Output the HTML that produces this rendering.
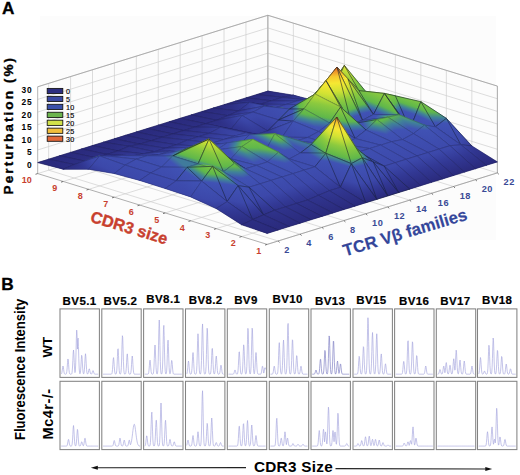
<!DOCTYPE html>
<html><head><meta charset="utf-8"><style>
html,body{margin:0;padding:0;background:#fff;}
svg{display:block;font-family:"Liberation Sans",sans-serif;}
</style></head><body>
<svg width="520" height="475" viewBox="0 0 520 475">
<defs><linearGradient id="cm" gradientUnits="userSpaceOnUse"><stop offset="0" stop-color="#2a2a7c"/><stop offset="0.1" stop-color="#323894"/><stop offset="0.18" stop-color="#3c48aa"/><stop offset="0.33" stop-color="#4052b4"/><stop offset="0.37" stop-color="#408298"/><stop offset="0.41" stop-color="#60b84a"/><stop offset="0.52" stop-color="#8cca3e"/><stop offset="0.62" stop-color="#d2e234"/><stop offset="0.7" stop-color="#f6e832"/><stop offset="0.77" stop-color="#f6c82e"/><stop offset="0.82" stop-color="#ee962a"/><stop offset="0.87" stop-color="#de6028"/><stop offset="1" stop-color="#cd4128"/></linearGradient>
<linearGradient id="g1" href="#cm" xlink:href="#cm" x1="282.13" y1="90.52" x2="286.22" y2="192.4"/>
<linearGradient id="g2" href="#cm" xlink:href="#cm" x1="279.36" y1="87.52" x2="324.98" y2="234.37"/>
<linearGradient id="g3" href="#cm" xlink:href="#cm" x1="268.4" y1="90.92" x2="314.02" y2="237.78"/>
<linearGradient id="g4" href="#cm" xlink:href="#cm" x1="268.4" y1="90.92" x2="314.02" y2="237.78"/>
<linearGradient id="g5" href="#cm" xlink:href="#cm" x1="257.44" y1="94.33" x2="303.06" y2="241.18"/>
<linearGradient id="g6" href="#cm" xlink:href="#cm" x1="257.44" y1="94.33" x2="303.06" y2="241.18"/>
<linearGradient id="g7" href="#cm" xlink:href="#cm" x1="249.45" y1="103.08" x2="250" y2="98.53"/>
<linearGradient id="g8" href="#cm" xlink:href="#cm" x1="247.91" y1="97.29" x2="259.98" y2="136.15"/>
<linearGradient id="g9" href="#cm" xlink:href="#cm" x1="226.27" y1="113.93" x2="410.65" y2="68.95"/>
<linearGradient id="g10" href="#cm" xlink:href="#cm" x1="235.52" y1="101.14" x2="281.14" y2="247.99"/>
<linearGradient id="g11" href="#cm" xlink:href="#cm" x1="215.49" y1="105.27" x2="457.62" y2="311.93"/>
<linearGradient id="g12" href="#cm" xlink:href="#cm" x1="224.2" y1="104.66" x2="292.19" y2="323.51"/>
<linearGradient id="g13" href="#cm" xlink:href="#cm" x1="201.12" y1="113.93" x2="666.82" y2="304"/>
<linearGradient id="g14" href="#cm" xlink:href="#cm" x1="212.88" y1="108.17" x2="325.61" y2="471.02"/>
<linearGradient id="g15" href="#cm" xlink:href="#cm" x1="201.92" y1="111.58" x2="314.65" y2="474.42"/>
<linearGradient id="g16" href="#cm" xlink:href="#cm" x1="201.92" y1="111.58" x2="314.65" y2="474.42"/>
<linearGradient id="g17" href="#cm" xlink:href="#cm" x1="190.96" y1="114.98" x2="303.69" y2="477.83"/>
<linearGradient id="g18" href="#cm" xlink:href="#cm" x1="190.96" y1="114.98" x2="303.69" y2="477.83"/>
<linearGradient id="g19" href="#cm" xlink:href="#cm" x1="180" y1="118.39" x2="292.73" y2="481.23"/>
<linearGradient id="g20" href="#cm" xlink:href="#cm" x1="180" y1="118.39" x2="292.73" y2="481.23"/>
<linearGradient id="g21" href="#cm" xlink:href="#cm" x1="169.04" y1="121.79" x2="281.77" y2="484.64"/>
<linearGradient id="g22" href="#cm" xlink:href="#cm" x1="169.04" y1="121.79" x2="281.77" y2="484.64"/>
<linearGradient id="g23" href="#cm" xlink:href="#cm" x1="158.08" y1="125.2" x2="270.81" y2="488.04"/>
<linearGradient id="g24" href="#cm" xlink:href="#cm" x1="158.08" y1="125.2" x2="270.81" y2="488.04"/>
<linearGradient id="g25" href="#cm" xlink:href="#cm" x1="147.12" y1="128.6" x2="259.85" y2="491.45"/>
<linearGradient id="g26" href="#cm" xlink:href="#cm" x1="147.12" y1="128.6" x2="259.85" y2="491.45"/>
<linearGradient id="g27" href="#cm" xlink:href="#cm" x1="136.16" y1="132.01" x2="248.89" y2="494.85"/>
<linearGradient id="g28" href="#cm" xlink:href="#cm" x1="136.16" y1="132.01" x2="248.89" y2="494.85"/>
<linearGradient id="g29" href="#cm" xlink:href="#cm" x1="129.12" y1="139.09" x2="125.93" y2="282.17"/>
<linearGradient id="g30" href="#cm" xlink:href="#cm" x1="125.56" y1="135.3" x2="193.55" y2="354.15"/>
<linearGradient id="g31" href="#cm" xlink:href="#cm" x1="102.48" y1="144.58" x2="568.18" y2="334.65"/>
<linearGradient id="g32" href="#cm" xlink:href="#cm" x1="114.24" y1="138.82" x2="226.97" y2="501.66"/>
<linearGradient id="g33" href="#cm" xlink:href="#cm" x1="103.28" y1="142.22" x2="216.01" y2="505.07"/>
<linearGradient id="g34" href="#cm" xlink:href="#cm" x1="103.28" y1="142.22" x2="216.01" y2="505.07"/>
<linearGradient id="g35" href="#cm" xlink:href="#cm" x1="92.32" y1="145.63" x2="205.05" y2="508.47"/>
<linearGradient id="g36" href="#cm" xlink:href="#cm" x1="92.32" y1="145.63" x2="205.05" y2="508.47"/>
<linearGradient id="g37" href="#cm" xlink:href="#cm" x1="81.36" y1="149.03" x2="194.09" y2="511.88"/>
<linearGradient id="g38" href="#cm" xlink:href="#cm" x1="81.36" y1="149.03" x2="194.09" y2="511.88"/>
<linearGradient id="g39" href="#cm" xlink:href="#cm" x1="70.4" y1="152.44" x2="183.13" y2="515.28"/>
<linearGradient id="g40" href="#cm" xlink:href="#cm" x1="70.4" y1="152.44" x2="183.13" y2="515.28"/>
<linearGradient id="g41" href="#cm" xlink:href="#cm" x1="51.78" y1="171.99" x2="736.94" y2="4.86"/>
<linearGradient id="g42" href="#cm" xlink:href="#cm" x1="308.4" y1="98.1" x2="304.63" y2="113.27"/>
<linearGradient id="g43" href="#cm" xlink:href="#cm" x1="307.09" y1="90.33" x2="313.18" y2="163.76"/>
<linearGradient id="g44" href="#cm" xlink:href="#cm" x1="297.07" y1="95.39" x2="296.31" y2="129.04"/>
<linearGradient id="g45" href="#cm" xlink:href="#cm" x1="293.06" y1="88.52" x2="316.32" y2="163.38"/>
<linearGradient id="g46" href="#cm" xlink:href="#cm" x1="282.1" y1="91.93" x2="305.36" y2="166.79"/>
<linearGradient id="g47" href="#cm" xlink:href="#cm" x1="282.1" y1="91.93" x2="305.36" y2="166.79"/>
<linearGradient id="g48" href="#cm" xlink:href="#cm" x1="271.14" y1="95.33" x2="294.4" y2="170.19"/>
<linearGradient id="g49" href="#cm" xlink:href="#cm" x1="275.27" y1="106.53" x2="273.75" y2="114.21"/>
<linearGradient id="g50" href="#cm" xlink:href="#cm" x1="264.42" y1="104.37" x2="262.89" y2="112.05"/>
<linearGradient id="g51" href="#cm" xlink:href="#cm" x1="229.6" y1="102.16" x2="377.29" y2="119.3"/>
<linearGradient id="g52" href="#cm" xlink:href="#cm" x1="243.1" y1="100.32" x2="293.12" y2="159.2"/>
<linearGradient id="g53" href="#cm" xlink:href="#cm" x1="247.65" y1="101.74" x2="274.92" y2="153.53"/>
<linearGradient id="g54" href="#cm" xlink:href="#cm" x1="240.47" y1="110.13" x2="248.82" y2="136.99"/>
<linearGradient id="g55" href="#cm" xlink:href="#cm" x1="238.34" y1="107.87" x2="257.36" y2="146.03"/>
<linearGradient id="g56" href="#cm" xlink:href="#cm" x1="224.99" y1="135.04" x2="317.85" y2="44.65"/>
<linearGradient id="g57" href="#cm" xlink:href="#cm" x1="223.66" y1="104.82" x2="336.39" y2="467.67"/>
<linearGradient id="g58" href="#cm" xlink:href="#cm" x1="220.42" y1="126.34" x2="218.9" y2="134.01"/>
<linearGradient id="g59" href="#cm" xlink:href="#cm" x1="217.12" y1="117.38" x2="240.38" y2="192.24"/>
<linearGradient id="g60" href="#cm" xlink:href="#cm" x1="187.3" y1="124.33" x2="406.89" y2="213.96"/>
<linearGradient id="g61" href="#cm" xlink:href="#cm" x1="204.7" y1="118.61" x2="250.32" y2="265.46"/>
<linearGradient id="g62" href="#cm" xlink:href="#cm" x1="193.74" y1="122.01" x2="239.36" y2="268.87"/>
<linearGradient id="g63" href="#cm" xlink:href="#cm" x1="193.74" y1="122.01" x2="239.36" y2="268.87"/>
<linearGradient id="g64" href="#cm" xlink:href="#cm" x1="182.78" y1="125.42" x2="228.4" y2="272.27"/>
<linearGradient id="g65" href="#cm" xlink:href="#cm" x1="182.78" y1="125.42" x2="228.4" y2="272.27"/>
<linearGradient id="g66" href="#cm" xlink:href="#cm" x1="156.2" y1="127.55" x2="398.33" y2="334.21"/>
<linearGradient id="g67" href="#cm" xlink:href="#cm" x1="170.71" y1="126.54" x2="238.71" y2="345.39"/>
<linearGradient id="g68" href="#cm" xlink:href="#cm" x1="159.75" y1="129.94" x2="227.75" y2="348.79"/>
<linearGradient id="g69" href="#cm" xlink:href="#cm" x1="159.75" y1="129.94" x2="227.75" y2="348.79"/>
<linearGradient id="g70" href="#cm" xlink:href="#cm" x1="148.79" y1="133.35" x2="216.79" y2="352.2"/>
<linearGradient id="g71" href="#cm" xlink:href="#cm" x1="154.73" y1="139.66" x2="151.54" y2="282.74"/>
<linearGradient id="g72" href="#cm" xlink:href="#cm" x1="143.82" y1="139.42" x2="140.63" y2="282.49"/>
<linearGradient id="g73" href="#cm" xlink:href="#cm" x1="119.29" y1="133.06" x2="361.41" y2="339.72"/>
<linearGradient id="g74" href="#cm" xlink:href="#cm" x1="131.83" y1="147.3" x2="137.92" y2="220.73"/>
<linearGradient id="g75" href="#cm" xlink:href="#cm" x1="128.78" y1="143.77" x2="160.99" y2="247.43"/>
<linearGradient id="g76" href="#cm" xlink:href="#cm" x1="121.61" y1="154.94" x2="121.44" y2="158.2"/>
<linearGradient id="g77" href="#cm" xlink:href="#cm" x1="119.57" y1="149" x2="131.64" y2="187.86"/>
<linearGradient id="g78" href="#cm" xlink:href="#cm" x1="109.55" y1="152.91" x2="114.91" y2="170.17"/>
<linearGradient id="g79" href="#cm" xlink:href="#cm" x1="99.94" y1="160.96" x2="98.82" y2="141.01"/>
<linearGradient id="g80" href="#cm" xlink:href="#cm" x1="99.87" y1="156.64" x2="99.04" y2="153.96"/>
<linearGradient id="g81" href="#cm" xlink:href="#cm" x1="75.74" y1="176.16" x2="183.73" y2="118.48"/>
<linearGradient id="g82" href="#cm" xlink:href="#cm" x1="79.27" y1="155.42" x2="157.86" y2="270.55"/>
<linearGradient id="g83" href="#cm" xlink:href="#cm" x1="316.03" y1="87.69" x2="359.45" y2="87.89"/>
<linearGradient id="g84" href="#cm" xlink:href="#cm" x1="334.66" y1="103.02" x2="331.5" y2="64.91"/>
<linearGradient id="g85" href="#cm" xlink:href="#cm" x1="311.62" y1="87" x2="344.08" y2="114.7"/>
<linearGradient id="g86" href="#cm" xlink:href="#cm" x1="322.86" y1="99.9" x2="321.6" y2="88.89"/>
<linearGradient id="g87" href="#cm" xlink:href="#cm" x1="272.09" y1="100.12" x2="419.79" y2="117.26"/>
<linearGradient id="g88" href="#cm" xlink:href="#cm" x1="305.28" y1="84.73" x2="328.53" y2="159.59"/>
<linearGradient id="g89" href="#cm" xlink:href="#cm" x1="249.28" y1="89.71" x2="468.87" y2="179.33"/>
<linearGradient id="g90" href="#cm" xlink:href="#cm" x1="289.87" y1="76.36" x2="335.5" y2="223.21"/>
<linearGradient id="g91" href="#cm" xlink:href="#cm" x1="289.39" y1="110.34" x2="289.95" y2="105.79"/>
<linearGradient id="g92" href="#cm" xlink:href="#cm" x1="289.39" y1="110.34" x2="289.95" y2="105.79"/>
<linearGradient id="g93" href="#cm" xlink:href="#cm" x1="264.06" y1="146.05" x2="336.74" y2="15.61"/>
<linearGradient id="g94" href="#cm" xlink:href="#cm" x1="262.86" y1="170.98" x2="341.56" y2="-84.13"/>
<linearGradient id="g95" href="#cm" xlink:href="#cm" x1="263.59" y1="144.07" x2="304.07" y2="12.88"/>
<linearGradient id="g96" href="#cm" xlink:href="#cm" x1="274.26" y1="152.26" x2="208.05" y2="-60.87"/>
<linearGradient id="g97" href="#cm" xlink:href="#cm" x1="263.3" y1="155.67" x2="197.09" y2="-57.47"/>
<linearGradient id="g98" href="#cm" xlink:href="#cm" x1="252.24" y1="145.94" x2="296.61" y2="30.1"/>
<linearGradient id="g99" href="#cm" xlink:href="#cm" x1="245.97" y1="131.42" x2="244.45" y2="139.1"/>
<linearGradient id="g100" href="#cm" xlink:href="#cm" x1="245.97" y1="131.42" x2="244.45" y2="139.1"/>
<linearGradient id="g101" href="#cm" xlink:href="#cm" x1="215.97" y1="75.63" x2="328.7" y2="438.48"/>
<linearGradient id="g102" href="#cm" xlink:href="#cm" x1="176.21" y1="150.39" x2="527.52" y2="64.7"/>
<linearGradient id="g103" href="#cm" xlink:href="#cm" x1="216.2" y1="115.04" x2="261.82" y2="261.89"/>
<linearGradient id="g104" href="#cm" xlink:href="#cm" x1="216.2" y1="115.04" x2="261.82" y2="261.89"/>
<linearGradient id="g105" href="#cm" xlink:href="#cm" x1="205.24" y1="118.44" x2="250.86" y2="265.3"/>
<linearGradient id="g106" href="#cm" xlink:href="#cm" x1="205.24" y1="118.44" x2="250.86" y2="265.3"/>
<linearGradient id="g107" href="#cm" xlink:href="#cm" x1="194.28" y1="121.85" x2="239.9" y2="268.7"/>
<linearGradient id="g108" href="#cm" xlink:href="#cm" x1="178.97" y1="119.36" x2="316.42" y2="281.15"/>
<linearGradient id="g109" href="#cm" xlink:href="#cm" x1="190.87" y1="142.74" x2="191.14" y2="165.06"/>
<linearGradient id="g110" href="#cm" xlink:href="#cm" x1="187.55" y1="136.34" x2="204.41" y2="190.63"/>
<linearGradient id="g111" href="#cm" xlink:href="#cm" x1="176.59" y1="139.75" x2="193.45" y2="194.04"/>
<linearGradient id="g112" href="#cm" xlink:href="#cm" x1="176.59" y1="139.75" x2="193.45" y2="194.04"/>
<linearGradient id="g113" href="#cm" xlink:href="#cm" x1="168.92" y1="150.21" x2="169.27" y2="155.67"/>
<linearGradient id="g114" href="#cm" xlink:href="#cm" x1="168.38" y1="147.87" x2="171.03" y2="163.35"/>
<linearGradient id="g115" href="#cm" xlink:href="#cm" x1="155.22" y1="145.82" x2="167.3" y2="184.68"/>
<linearGradient id="g116" href="#cm" xlink:href="#cm" x1="157.12" y1="149.02" x2="161.05" y2="174.17"/>
<linearGradient id="g117" href="#cm" xlink:href="#cm" x1="146.99" y1="154.31" x2="147.33" y2="159.77"/>
<linearGradient id="g118" href="#cm" xlink:href="#cm" x1="147.06" y1="156.52" x2="147.13" y2="153.7"/>
<linearGradient id="g119" href="#cm" xlink:href="#cm" x1="129.92" y1="139.21" x2="153.17" y2="214.07"/>
<linearGradient id="g120" href="#cm" xlink:href="#cm" x1="136.32" y1="150.2" x2="135.57" y2="183.85"/>
<linearGradient id="g121" href="#cm" xlink:href="#cm" x1="43.19" y1="185.1" x2="394.49" y2="99.41"/>
<linearGradient id="g122" href="#cm" xlink:href="#cm" x1="131.95" y1="148.63" x2="102.85" y2="219.25"/>
<linearGradient id="g123" href="#cm" xlink:href="#cm" x1="107.66" y1="199.89" x2="146.91" y2="41.92"/>
<linearGradient id="g124" href="#cm" xlink:href="#cm" x1="106" y1="193.03" x2="155.22" y2="76.24"/>
<linearGradient id="g125" href="#cm" xlink:href="#cm" x1="402.28" y1="95.24" x2="309.32" y2="85.27"/>
<linearGradient id="g126" href="#cm" xlink:href="#cm" x1="342.12" y1="133.75" x2="378.07" y2="41.26"/>
<linearGradient id="g127" href="#cm" xlink:href="#cm" x1="341.2" y1="108.03" x2="351.31" y2="64.23"/>
<linearGradient id="g128" href="#cm" xlink:href="#cm" x1="343.74" y1="73.88" x2="350.04" y2="81.3"/>
<linearGradient id="g129" href="#cm" xlink:href="#cm" x1="334.55" y1="115.52" x2="337.35" y2="59.62"/>
<linearGradient id="g130" href="#cm" xlink:href="#cm" x1="351.39" y1="94.43" x2="334.76" y2="62.86"/>
<linearGradient id="g131" href="#cm" xlink:href="#cm" x1="333.84" y1="88.61" x2="323.18" y2="77.67"/>
<linearGradient id="g132" href="#cm" xlink:href="#cm" x1="336.16" y1="104.47" x2="322.33" y2="71.9"/>
<linearGradient id="g133" href="#cm" xlink:href="#cm" x1="312.93" y1="92.49" x2="316.48" y2="95.17"/>
<linearGradient id="g134" href="#cm" xlink:href="#cm" x1="317.49" y1="118.53" x2="313.44" y2="77.81"/>
<linearGradient id="g135" href="#cm" xlink:href="#cm" x1="262.86" y1="118.93" x2="354.5" y2="96.58"/>
<linearGradient id="g136" href="#cm" xlink:href="#cm" x1="261.09" y1="103.89" x2="356.66" y2="114.97"/>
<linearGradient id="g137" href="#cm" xlink:href="#cm" x1="257.8" y1="125.82" x2="363.82" y2="111.74"/>
<linearGradient id="g138" href="#cm" xlink:href="#cm" x1="256.78" y1="120.96" x2="365.87" y2="121.46"/>
<linearGradient id="g139" href="#cm" xlink:href="#cm" x1="267.69" y1="148.81" x2="354.63" y2="78.92"/>
<linearGradient id="g140" href="#cm" xlink:href="#cm" x1="274.58" y1="112.69" x2="320.2" y2="259.54"/>
<linearGradient id="g141" href="#cm" xlink:href="#cm" x1="263.62" y1="116.09" x2="309.24" y2="262.95"/>
<linearGradient id="g142" href="#cm" xlink:href="#cm" x1="272.44" y1="136.62" x2="265.12" y2="160.34"/>
<linearGradient id="g143" href="#cm" xlink:href="#cm" x1="261.97" y1="133.38" x2="254.65" y2="157.11"/>
<linearGradient id="g144" href="#cm" xlink:href="#cm" x1="249.61" y1="104.66" x2="295.24" y2="251.51"/>
<linearGradient id="g145" href="#cm" xlink:href="#cm" x1="248.03" y1="142.21" x2="251.85" y2="119.81"/>
<linearGradient id="g146" href="#cm" xlink:href="#cm" x1="247.51" y1="128.99" x2="252.87" y2="146.25"/>
<linearGradient id="g147" href="#cm" xlink:href="#cm" x1="207.79" y1="162.05" x2="338.72" y2="92.12"/>
<linearGradient id="g148" href="#cm" xlink:href="#cm" x1="227.69" y1="111.47" x2="273.32" y2="258.32"/>
<linearGradient id="g149" href="#cm" xlink:href="#cm" x1="226.67" y1="147.53" x2="228.91" y2="132.65"/>
<linearGradient id="g150" href="#cm" xlink:href="#cm" x1="224.74" y1="134.31" x2="233.08" y2="161.17"/>
<linearGradient id="g151" href="#cm" xlink:href="#cm" x1="179.74" y1="135.04" x2="317.29" y2="191.18"/>
<linearGradient id="g152" href="#cm" xlink:href="#cm" x1="216.62" y1="141.04" x2="215.87" y2="174.69"/>
<linearGradient id="g153" href="#cm" xlink:href="#cm" x1="193.29" y1="114.26" x2="238.92" y2="261.11"/>
<linearGradient id="g154" href="#cm" xlink:href="#cm" x1="193.29" y1="114.26" x2="238.92" y2="261.11"/>
<linearGradient id="g155" href="#cm" xlink:href="#cm" x1="194.31" y1="153.29" x2="194.87" y2="148.74"/>
<linearGradient id="g156" href="#cm" xlink:href="#cm" x1="194.32" y1="147.41" x2="194.85" y2="160.5"/>
<linearGradient id="g157" href="#cm" xlink:href="#cm" x1="183.18" y1="155.66" x2="184.09" y2="141.81"/>
<linearGradient id="g158" href="#cm" xlink:href="#cm" x1="181.4" y1="143.22" x2="186.76" y2="160.48"/>
<linearGradient id="g159" href="#cm" xlink:href="#cm" x1="154.24" y1="134.46" x2="204.26" y2="193.34"/>
<linearGradient id="g160" href="#cm" xlink:href="#cm" x1="172.39" y1="151.25" x2="172.91" y2="164.35"/>
<linearGradient id="g161" href="#cm" xlink:href="#cm" x1="136.46" y1="199.49" x2="230.8" y2="77.8"/>
<linearGradient id="g162" href="#cm" xlink:href="#cm" x1="132.3" y1="232.5" x2="211" y2="-22.62"/>
<linearGradient id="g163" href="#cm" xlink:href="#cm" x1="132.3" y1="232.5" x2="211" y2="-22.62"/>
<linearGradient id="g164" href="#cm" xlink:href="#cm" x1="129.4" y1="213.79" x2="186.6" y2="28.39"/>
<linearGradient id="g165" href="#cm" xlink:href="#cm" x1="128.81" y1="210.12" x2="189.32" y2="45.13"/>
<linearGradient id="g166" href="#cm" xlink:href="#cm" x1="383.62" y1="104.91" x2="385.08" y2="83.33"/>
<linearGradient id="g167" href="#cm" xlink:href="#cm" x1="381.33" y1="109.43" x2="387.09" y2="79.37"/>
<linearGradient id="g168" href="#cm" xlink:href="#cm" x1="362.27" y1="142.77" x2="399.51" y2="48.52"/>
<linearGradient id="g169" href="#cm" xlink:href="#cm" x1="381.88" y1="111.26" x2="353.74" y2="122.04"/>
<linearGradient id="g170" href="#cm" xlink:href="#cm" x1="368.26" y1="148.95" x2="346.59" y2="41.99"/>
<linearGradient id="g171" href="#cm" xlink:href="#cm" x1="380.49" y1="127.78" x2="312.95" y2="100.21"/>
<linearGradient id="g172" href="#cm" xlink:href="#cm" x1="359.24" y1="148.67" x2="330.3" y2="55.53"/>
<linearGradient id="g173" href="#cm" xlink:href="#cm" x1="353.14" y1="149.36" x2="347.07" y2="53.62"/>
<linearGradient id="g174" href="#cm" xlink:href="#cm" x1="345.98" y1="104.54" x2="335.82" y2="109.19"/>
<linearGradient id="g175" href="#cm" xlink:href="#cm" x1="328.54" y1="167.4" x2="351.07" y2="54.18"/>
<linearGradient id="g176" href="#cm" xlink:href="#cm" x1="321.18" y1="161.76" x2="344.15" y2="56.21"/>
<linearGradient id="g177" href="#cm" xlink:href="#cm" x1="322.08" y1="162.83" x2="342.59" y2="54.37"/>
<linearGradient id="g178" href="#cm" xlink:href="#cm" x1="314.75" y1="173.77" x2="327.72" y2="32.94"/>
<linearGradient id="g179" href="#cm" xlink:href="#cm" x1="309.93" y1="167.71" x2="338.97" y2="47.08"/>
<linearGradient id="g180" href="#cm" xlink:href="#cm" x1="300.66" y1="194.78" x2="326.97" y2="-20.2"/>
<linearGradient id="g181" href="#cm" xlink:href="#cm" x1="293.36" y1="164.8" x2="347.06" y2="62.25"/>
<linearGradient id="g182" href="#cm" xlink:href="#cm" x1="290.52" y1="120.89" x2="313.77" y2="195.75"/>
<linearGradient id="g183" href="#cm" xlink:href="#cm" x1="290.52" y1="120.89" x2="313.77" y2="195.75"/>
<linearGradient id="g184" href="#cm" xlink:href="#cm" x1="284.51" y1="146.92" x2="287.92" y2="118.99"/>
<linearGradient id="g185" href="#cm" xlink:href="#cm" x1="285.59" y1="144.4" x2="286.06" y2="123.34"/>
<linearGradient id="g186" href="#cm" xlink:href="#cm" x1="274.11" y1="146.13" x2="275.65" y2="118.66"/>
<linearGradient id="g187" href="#cm" xlink:href="#cm" x1="273.41" y1="147.4" x2="276.5" y2="117.1"/>
<linearGradient id="g188" href="#cm" xlink:href="#cm" x1="253.03" y1="175.44" x2="299.37" y2="81.82"/>
<linearGradient id="g189" href="#cm" xlink:href="#cm" x1="254.4" y1="184.21" x2="294.87" y2="53.02"/>
<linearGradient id="g190" href="#cm" xlink:href="#cm" x1="246.74" y1="159.22" x2="259.9" y2="116.56"/>
<linearGradient id="g191" href="#cm" xlink:href="#cm" x1="252.34" y1="153.24" x2="253.49" y2="123.39"/>
<linearGradient id="g192" href="#cm" xlink:href="#cm" x1="184.61" y1="123.12" x2="322.16" y2="179.26"/>
<linearGradient id="g193" href="#cm" xlink:href="#cm" x1="184.61" y1="123.12" x2="322.16" y2="179.26"/>
<linearGradient id="g194" href="#cm" xlink:href="#cm" x1="200.16" y1="187.45" x2="302.82" y2="91.81"/>
<linearGradient id="g195" href="#cm" xlink:href="#cm" x1="197.14" y1="49.91" x2="309.87" y2="412.75"/>
<linearGradient id="g196" href="#cm" xlink:href="#cm" x1="216.97" y1="164.24" x2="223.96" y2="136.12"/>
<linearGradient id="g197" href="#cm" xlink:href="#cm" x1="219.6" y1="158.06" x2="220.52" y2="144.2"/>
<linearGradient id="g198" href="#cm" xlink:href="#cm" x1="202.66" y1="170.01" x2="212.48" y2="122.36"/>
<linearGradient id="g199" href="#cm" xlink:href="#cm" x1="210.79" y1="162.85" x2="208.1" y2="126.21"/>
<linearGradient id="g200" href="#cm" xlink:href="#cm" x1="170.05" y1="151.77" x2="176.94" y2="163.46"/>
<linearGradient id="g201" href="#cm" xlink:href="#cm" x1="187.78" y1="197.32" x2="215.88" y2="106.23"/>
<linearGradient id="g202" href="#cm" xlink:href="#cm" x1="152.53" y1="211.94" x2="246.87" y2="90.25"/>
<linearGradient id="g203" href="#cm" xlink:href="#cm" x1="160.59" y1="206.66" x2="227.33" y2="95.99"/>
<linearGradient id="g204" href="#cm" xlink:href="#cm" x1="157.8" y1="240.37" x2="236.5" y2="-14.75"/>
<linearGradient id="g205" href="#cm" xlink:href="#cm" x1="155.47" y1="220.09" x2="210.56" y2="41.52"/>
<linearGradient id="g206" href="#cm" xlink:href="#cm" x1="155.7" y1="221.05" x2="209.48" y2="37.04"/>
<linearGradient id="g207" href="#cm" xlink:href="#cm" x1="405.02" y1="143.78" x2="434.32" y2="55.46"/>
<linearGradient id="g208" href="#cm" xlink:href="#cm" x1="423.13" y1="143.81" x2="343.76" y2="55.35"/>
<linearGradient id="g209" href="#cm" xlink:href="#cm" x1="401.42" y1="113.23" x2="395.22" y2="117.11"/>
<linearGradient id="g210" href="#cm" xlink:href="#cm" x1="382.3" y1="151.9" x2="423.9" y2="59.1"/>
<linearGradient id="g211" href="#cm" xlink:href="#cm" x1="385.03" y1="99.18" x2="392.17" y2="142.71"/>
<linearGradient id="g212" href="#cm" xlink:href="#cm" x1="356.43" y1="85.8" x2="432.76" y2="161.71"/>
<linearGradient id="g213" href="#cm" xlink:href="#cm" x1="375.94" y1="114.22" x2="378.48" y2="126.75"/>
<linearGradient id="g214" href="#cm" xlink:href="#cm" x1="374.26" y1="110.67" x2="380.74" y2="131.53"/>
<linearGradient id="g215" href="#cm" xlink:href="#cm" x1="319.7" y1="152.75" x2="458.77" y2="84.64"/>
<linearGradient id="g216" href="#cm" xlink:href="#cm" x1="360.42" y1="139.4" x2="377.34" y2="111.35"/>
<linearGradient id="g217" href="#cm" xlink:href="#cm" x1="356.39" y1="170.53" x2="351.56" y2="50.45"/>
<linearGradient id="g218" href="#cm" xlink:href="#cm" x1="350.03" y1="166.44" x2="369.04" y2="61.71"/>
<linearGradient id="g219" href="#cm" xlink:href="#cm" x1="345.68" y1="182.82" x2="339.07" y2="18.35"/>
<linearGradient id="g220" href="#cm" xlink:href="#cm" x1="340" y1="178.23" x2="357.73" y2="33.4"/>
<linearGradient id="g221" href="#cm" xlink:href="#cm" x1="417.55" y1="124.74" x2="101.15" y2="201.91"/>
<linearGradient id="g222" href="#cm" xlink:href="#cm" x1="312.19" y1="213.35" x2="390.9" y2="-41.77"/>
<linearGradient id="g223" href="#cm" xlink:href="#cm" x1="324.66" y1="135.76" x2="317.34" y2="159.49"/>
<linearGradient id="g224" href="#cm" xlink:href="#cm" x1="307.01" y1="94.72" x2="352.64" y2="241.57"/>
<linearGradient id="g225" href="#cm" xlink:href="#cm" x1="311.54" y1="132.21" x2="310.78" y2="165.86"/>
<linearGradient id="g226" href="#cm" xlink:href="#cm" x1="310.44" y1="147.21" x2="312.68" y2="139.95"/>
<linearGradient id="g227" href="#cm" xlink:href="#cm" x1="285.29" y1="201.66" x2="335.32" y2="39.49"/>
<linearGradient id="g228" href="#cm" xlink:href="#cm" x1="330.33" y1="140.62" x2="230.24" y2="181.9"/>
<linearGradient id="g229" href="#cm" xlink:href="#cm" x1="293.16" y1="197.28" x2="278.83" y2="53.51"/>
<linearGradient id="g230" href="#cm" xlink:href="#cm" x1="280.2" y1="184.88" x2="314.47" y2="87.6"/>
<linearGradient id="g231" href="#cm" xlink:href="#cm" x1="275.59" y1="163.48" x2="282.57" y2="135.37"/>
<linearGradient id="g232" href="#cm" xlink:href="#cm" x1="272.55" y1="166.99" x2="287.13" y2="130.1"/>
<linearGradient id="g233" href="#cm" xlink:href="#cm" x1="261.08" y1="204.2" x2="281.1" y2="70.8"/>
<linearGradient id="g234" href="#cm" xlink:href="#cm" x1="266.37" y1="209.05" x2="269.69" y2="60.33"/>
<linearGradient id="g235" href="#cm" xlink:href="#cm" x1="277.43" y1="232.85" x2="211.21" y2="19.72"/>
<linearGradient id="g236" href="#cm" xlink:href="#cm" x1="242.89" y1="204.26" x2="285.75" y2="81.43"/>
<linearGradient id="g237" href="#cm" xlink:href="#cm" x1="246.35" y1="167.52" x2="243.67" y2="171.46"/>
<linearGradient id="g238" href="#cm" xlink:href="#cm" x1="240.04" y1="156.24" x2="227.35" y2="172.6"/>
<linearGradient id="g239" href="#cm" xlink:href="#cm" x1="230.16" y1="168.98" x2="240.27" y2="155.94"/>
<linearGradient id="g240" href="#cm" xlink:href="#cm" x1="225.84" y1="215.04" x2="219.67" y2="97.08"/>
<linearGradient id="g241" href="#cm" xlink:href="#cm" x1="213.28" y1="205.19" x2="241.38" y2="114.1"/>
<linearGradient id="g242" href="#cm" xlink:href="#cm" x1="210.22" y1="174.13" x2="215.19" y2="158.02"/>
<linearGradient id="g243" href="#cm" xlink:href="#cm" x1="204.47" y1="140.11" x2="221.33" y2="194.4"/>
<linearGradient id="g244" href="#cm" xlink:href="#cm" x1="180.21" y1="215.76" x2="244.57" y2="111.86"/>
<linearGradient id="g245" href="#cm" xlink:href="#cm" x1="179.41" y1="218.01" x2="246.15" y2="107.34"/>
<linearGradient id="g246" href="#cm" xlink:href="#cm" x1="181.4" y1="214.46" x2="236.08" y2="111.22"/>
<linearGradient id="g247" href="#cm" xlink:href="#cm" x1="182.36" y1="226.85" x2="231.44" y2="50.73"/>
<linearGradient id="g248" href="#cm" xlink:href="#cm" x1="433.69" y1="166.92" x2="439.4" y2="33.26"/>
<linearGradient id="g249" href="#cm" xlink:href="#cm" x1="424.03" y1="152.35" x2="461.93" y2="67.25"/>
<linearGradient id="g250" href="#cm" xlink:href="#cm" x1="424.27" y1="132.9" x2="424.74" y2="111.84"/>
<linearGradient id="g251" href="#cm" xlink:href="#cm" x1="419.33" y1="139.82" x2="433.27" y2="99.87"/>
<linearGradient id="g252" href="#cm" xlink:href="#cm" x1="404.32" y1="179.69" x2="434.86" y2="26.17"/>
<linearGradient id="g253" href="#cm" xlink:href="#cm" x1="447.18" y1="195.59" x2="334.84" y2="-10.92"/>
<linearGradient id="g254" href="#cm" xlink:href="#cm" x1="405.01" y1="181.69" x2="395.67" y2="23.72"/>
<linearGradient id="g255" href="#cm" xlink:href="#cm" x1="422.58" y1="183.21" x2="347.36" y2="19.55"/>
<linearGradient id="g256" href="#cm" xlink:href="#cm" x1="415.16" y1="188.09" x2="331.88" y2="24.39"/>
<linearGradient id="g257" href="#cm" xlink:href="#cm" x1="384.46" y1="178.56" x2="409.52" y2="48.48"/>
<linearGradient id="g258" href="#cm" xlink:href="#cm" x1="412.04" y1="246.3" x2="301.09" y2="-110.83"/>
<linearGradient id="g259" href="#cm" xlink:href="#cm" x1="362.63" y1="192.02" x2="426.05" y2="26.46"/>
<linearGradient id="g260" href="#cm" xlink:href="#cm" x1="283.35" y1="208.77" x2="587.91" y2="-3.9"/>
<linearGradient id="g261" href="#cm" xlink:href="#cm" x1="339.42" y1="89.91" x2="407.41" y2="308.76"/>
<linearGradient id="g262" href="#cm" xlink:href="#cm" x1="363.66" y1="126.91" x2="346.09" y2="215.18"/>
<linearGradient id="g263" href="#cm" xlink:href="#cm" x1="342.77" y1="158.77" x2="353.37" y2="121.61"/>
<linearGradient id="g264" href="#cm" xlink:href="#cm" x1="347.5" y1="151.26" x2="347.97" y2="130.2"/>
<linearGradient id="g265" href="#cm" xlink:href="#cm" x1="326.09" y1="164.47" x2="338.89" y2="107.55"/>
<linearGradient id="g266" href="#cm" xlink:href="#cm" x1="345.03" y1="154.2" x2="335.11" y2="109.6"/>
<linearGradient id="g267" href="#cm" xlink:href="#cm" x1="305.11" y1="177.86" x2="356.83" y2="116.44"/>
<linearGradient id="g268" href="#cm" xlink:href="#cm" x1="257.77" y1="200.8" x2="427.84" y2="82.04"/>
<linearGradient id="g269" href="#cm" xlink:href="#cm" x1="297.04" y1="196.32" x2="363.78" y2="85.65"/>
<linearGradient id="g270" href="#cm" xlink:href="#cm" x1="293.85" y1="234.84" x2="372.56" y2="-20.28"/>
<linearGradient id="g271" href="#cm" xlink:href="#cm" x1="305.62" y1="167.97" x2="299.1" y2="176.37"/>
<linearGradient id="g272" href="#cm" xlink:href="#cm" x1="307.59" y1="220.85" x2="252.56" y2="43.72"/>
<linearGradient id="g273" href="#cm" xlink:href="#cm" x1="286.33" y1="209.9" x2="311.04" y2="73.83"/>
<linearGradient id="g274" href="#cm" xlink:href="#cm" x1="311.55" y1="272.25" x2="200.6" y2="-84.87"/>
<linearGradient id="g275" href="#cm" xlink:href="#cm" x1="311.55" y1="272.25" x2="200.6" y2="-84.87"/>
<linearGradient id="g276" href="#cm" xlink:href="#cm" x1="300.59" y1="275.66" x2="189.64" y2="-81.47"/>
<linearGradient id="g277" href="#cm" xlink:href="#cm" x1="300.59" y1="275.66" x2="189.64" y2="-81.47"/>
<linearGradient id="g278" href="#cm" xlink:href="#cm" x1="289.63" y1="279.06" x2="178.68" y2="-78.06"/>
<linearGradient id="g279" href="#cm" xlink:href="#cm" x1="269.7" y1="176.36" x2="233.47" y2="204.37"/>
<linearGradient id="g280" href="#cm" xlink:href="#cm" x1="261.97" y1="228.71" x2="213.65" y2="73.18"/>
<linearGradient id="g281" href="#cm" xlink:href="#cm" x1="246.67" y1="223.8" x2="255.7" y2="86.69"/>
<linearGradient id="g282" href="#cm" xlink:href="#cm" x1="271.09" y1="162.57" x2="172.19" y2="231.63"/>
<linearGradient id="g283" href="#cm" xlink:href="#cm" x1="247.13" y1="177.19" x2="220.1" y2="202.38"/>
<linearGradient id="g284" href="#cm" xlink:href="#cm" x1="224.82" y1="218.84" x2="238.85" y2="115.57"/>
<linearGradient id="g285" href="#cm" xlink:href="#cm" x1="225.26" y1="219.16" x2="236.66" y2="113.96"/>
<linearGradient id="g286" href="#cm" xlink:href="#cm" x1="217.26" y1="224.48" x2="208.45" y2="91.89"/>
<linearGradient id="g287" href="#cm" xlink:href="#cm" x1="213.18" y1="221.36" x2="238.38" y2="114.79"/>
<linearGradient id="g288" href="#cm" xlink:href="#cm" x1="478.14" y1="161.56" x2="374.71" y2="61"/>
<linearGradient id="g289" href="#cm" xlink:href="#cm" x1="460.42" y1="166.55" x2="463.32" y2="36.06"/>
<linearGradient id="g290" href="#cm" xlink:href="#cm" x1="485.38" y1="175.93" x2="308.17" y2="24.67"/>
<linearGradient id="g291" href="#cm" xlink:href="#cm" x1="482.95" y1="149.51" x2="317.9" y2="130.36"/>
<linearGradient id="g292" href="#cm" xlink:href="#cm" x1="448.64" y1="180.19" x2="400.32" y2="24.65"/>
<linearGradient id="g293" href="#cm" xlink:href="#cm" x1="437.18" y1="176.5" x2="446.2" y2="39.39"/>
<linearGradient id="g294" href="#cm" xlink:href="#cm" x1="441.26" y1="195.11" x2="375.05" y2="-18.02"/>
<linearGradient id="g295" href="#cm" xlink:href="#cm" x1="427.19" y1="189.53" x2="431.32" y2="4.33"/>
<linearGradient id="g296" href="#cm" xlink:href="#cm" x1="434.78" y1="212.92" x2="346.19" y2="-72.21"/>
<linearGradient id="g297" href="#cm" xlink:href="#cm" x1="459.51" y1="205.86" x2="247.25" y2="-43.99"/>
<linearGradient id="g298" href="#cm" xlink:href="#cm" x1="421.13" y1="207.68" x2="345.97" y2="-34.25"/>
<linearGradient id="g299" href="#cm" xlink:href="#cm" x1="421.13" y1="207.68" x2="345.97" y2="-34.25"/>
<linearGradient id="g300" href="#cm" xlink:href="#cm" x1="410.17" y1="211.09" x2="335.01" y2="-30.84"/>
<linearGradient id="g301" href="#cm" xlink:href="#cm" x1="410.17" y1="211.09" x2="335.01" y2="-30.84"/>
<linearGradient id="g302" href="#cm" xlink:href="#cm" x1="399.21" y1="214.49" x2="324.05" y2="-27.44"/>
<linearGradient id="g303" href="#cm" xlink:href="#cm" x1="399.21" y1="214.49" x2="324.05" y2="-27.44"/>
<linearGradient id="g304" href="#cm" xlink:href="#cm" x1="377.33" y1="155.64" x2="363.62" y2="176.6"/>
<linearGradient id="g305" href="#cm" xlink:href="#cm" x1="371.09" y1="164.95" x2="378.18" y2="154.89"/>
<linearGradient id="g306" href="#cm" xlink:href="#cm" x1="389.43" y1="143.24" x2="321.51" y2="179.52"/>
<linearGradient id="g307" href="#cm" xlink:href="#cm" x1="354.63" y1="165.8" x2="373.7" y2="145.68"/>
<linearGradient id="g308" href="#cm" xlink:href="#cm" x1="359.4" y1="201.06" x2="337.31" y2="99.13"/>
<linearGradient id="g309" href="#cm" xlink:href="#cm" x1="342.41" y1="194.48" x2="366.65" y2="110.5"/>
<linearGradient id="g310" href="#cm" xlink:href="#cm" x1="337.77" y1="196.59" x2="363.48" y2="103.75"/>
<linearGradient id="g311" href="#cm" xlink:href="#cm" x1="339.35" y1="198.11" x2="349.29" y2="90.1"/>
<linearGradient id="g312" href="#cm" xlink:href="#cm" x1="334.21" y1="206.27" x2="285.89" y2="50.73"/>
<linearGradient id="g313" href="#cm" xlink:href="#cm" x1="334.21" y1="206.27" x2="285.89" y2="50.73"/>
<linearGradient id="g314" href="#cm" xlink:href="#cm" x1="320.8" y1="207.64" x2="292.28" y2="60.5"/>
<linearGradient id="g315" href="#cm" xlink:href="#cm" x1="322.24" y1="207.69" x2="276.36" y2="60.01"/>
<linearGradient id="g316" href="#cm" xlink:href="#cm" x1="309.37" y1="209.46" x2="280.78" y2="68.35"/>
<linearGradient id="g317" href="#cm" xlink:href="#cm" x1="310.38" y1="209.46" x2="266.54" y2="68.32"/>
<linearGradient id="g318" href="#cm" xlink:href="#cm" x1="299.42" y1="212.86" x2="255.58" y2="71.73"/>
<linearGradient id="g319" href="#cm" xlink:href="#cm" x1="299.42" y1="212.86" x2="255.58" y2="71.73"/>
<linearGradient id="g320" href="#cm" xlink:href="#cm" x1="288.46" y1="216.27" x2="244.62" y2="75.13"/>
<linearGradient id="g321" href="#cm" xlink:href="#cm" x1="288.46" y1="216.27" x2="244.62" y2="75.13"/>
<linearGradient id="g322" href="#cm" xlink:href="#cm" x1="277.5" y1="219.67" x2="233.66" y2="78.54"/>
<linearGradient id="g323" href="#cm" xlink:href="#cm" x1="277.5" y1="219.67" x2="233.66" y2="78.54"/>
<linearGradient id="g324" href="#cm" xlink:href="#cm" x1="265.05" y1="221.73" x2="236.49" y2="85.8"/>
<linearGradient id="g325" href="#cm" xlink:href="#cm" x1="268.59" y1="219.62" x2="169.28" y2="125.9"/>
<linearGradient id="g326" href="#cm" xlink:href="#cm" x1="253.59" y1="223.54" x2="225.67" y2="105.31"/>
<linearGradient id="g327" href="#cm" xlink:href="#cm" x1="252.14" y1="223.06" x2="267.72" y2="119.29"/>
<linearGradient id="g328" href="#cm" xlink:href="#cm" x1="241.91" y1="226.35" x2="221.23" y2="69.1"/>
<linearGradient id="g329" href="#cm" xlink:href="#cm" x1="241.7" y1="226.26" x2="241.25" y2="78.21"/>
<linearGradient id="g330" href="#cm" xlink:href="#cm" x1="486.4" y1="165.3" x2="422.98" y2="-38.83"/>
<linearGradient id="g331" href="#cm" xlink:href="#cm" x1="486.4" y1="165.3" x2="312.46" y2="115.66"/>
<linearGradient id="g332" href="#cm" xlink:href="#cm" x1="475.44" y1="168.71" x2="427.12" y2="13.17"/>
<linearGradient id="g333" href="#cm" xlink:href="#cm" x1="475.44" y1="168.71" x2="379.11" y2="31.65"/>
<linearGradient id="g334" href="#cm" xlink:href="#cm" x1="464.48" y1="172.11" x2="420.63" y2="30.98"/>
<linearGradient id="g335" href="#cm" xlink:href="#cm" x1="464.48" y1="172.11" x2="420.63" y2="30.98"/>
<linearGradient id="g336" href="#cm" xlink:href="#cm" x1="453.52" y1="175.52" x2="409.67" y2="34.38"/>
<linearGradient id="g337" href="#cm" xlink:href="#cm" x1="453.52" y1="175.52" x2="409.67" y2="34.38"/>
<linearGradient id="g338" href="#cm" xlink:href="#cm" x1="442.56" y1="178.92" x2="398.71" y2="37.79"/>
<linearGradient id="g339" href="#cm" xlink:href="#cm" x1="442.56" y1="178.92" x2="398.71" y2="37.79"/>
<linearGradient id="g340" href="#cm" xlink:href="#cm" x1="431.6" y1="182.33" x2="387.75" y2="41.19"/>
<linearGradient id="g341" href="#cm" xlink:href="#cm" x1="431.6" y1="182.33" x2="387.75" y2="41.19"/>
<linearGradient id="g342" href="#cm" xlink:href="#cm" x1="420.64" y1="185.73" x2="376.79" y2="44.6"/>
<linearGradient id="g343" href="#cm" xlink:href="#cm" x1="420.64" y1="185.73" x2="376.79" y2="44.6"/>
<linearGradient id="g344" href="#cm" xlink:href="#cm" x1="409.68" y1="189.13" x2="365.83" y2="48"/>
<linearGradient id="g345" href="#cm" xlink:href="#cm" x1="409.68" y1="189.13" x2="365.83" y2="48"/>
<linearGradient id="g346" href="#cm" xlink:href="#cm" x1="398.72" y1="192.54" x2="354.87" y2="51.41"/>
<linearGradient id="g347" href="#cm" xlink:href="#cm" x1="398.72" y1="192.54" x2="290.16" y2="148.23"/>
<linearGradient id="g348" href="#cm" xlink:href="#cm" x1="387.76" y1="195.94" x2="351.37" y2="78.81"/>
<linearGradient id="g349" href="#cm" xlink:href="#cm" x1="387.76" y1="195.94" x2="303.73" y2="124.22"/>
<linearGradient id="g350" href="#cm" xlink:href="#cm" x1="376.8" y1="199.35" x2="344.14" y2="94.21"/>
<linearGradient id="g351" href="#cm" xlink:href="#cm" x1="376.8" y1="199.35" x2="355.13" y2="92.39"/>
<linearGradient id="g352" href="#cm" xlink:href="#cm" x1="365.84" y1="202.75" x2="332.16" y2="94.35"/>
<linearGradient id="g353" href="#cm" xlink:href="#cm" x1="365.84" y1="202.75" x2="386.56" y2="109.64"/>
<linearGradient id="g354" href="#cm" xlink:href="#cm" x1="354.88" y1="206.16" x2="288.67" y2="-6.97"/>
<linearGradient id="g355" href="#cm" xlink:href="#cm" x1="354.88" y1="206.16" x2="288.67" y2="-6.97"/>
<linearGradient id="g356" href="#cm" xlink:href="#cm" x1="343.92" y1="209.56" x2="277.71" y2="-3.57"/>
<linearGradient id="g357" href="#cm" xlink:href="#cm" x1="343.92" y1="209.56" x2="320.83" y2="7.09"/>
<linearGradient id="g358" href="#cm" xlink:href="#cm" x1="332.96" y1="212.97" x2="257.8" y2="-28.96"/>
<linearGradient id="g359" href="#cm" xlink:href="#cm" x1="332.96" y1="212.97" x2="314.37" y2="-11.04"/>
<linearGradient id="g360" href="#cm" xlink:href="#cm" x1="322" y1="216.38" x2="233.42" y2="-68.75"/>
<linearGradient id="g361" href="#cm" xlink:href="#cm" x1="322" y1="216.38" x2="233.42" y2="-68.75"/>
<linearGradient id="g362" href="#cm" xlink:href="#cm" x1="311.04" y1="219.78" x2="222.46" y2="-65.35"/>
<linearGradient id="g363" href="#cm" xlink:href="#cm" x1="311.04" y1="219.78" x2="222.46" y2="-65.35"/>
<linearGradient id="g364" href="#cm" xlink:href="#cm" x1="300.08" y1="223.19" x2="211.5" y2="-61.94"/>
<linearGradient id="g365" href="#cm" xlink:href="#cm" x1="300.08" y1="223.19" x2="211.5" y2="-61.94"/>
<linearGradient id="g366" href="#cm" xlink:href="#cm" x1="289.12" y1="226.59" x2="200.54" y2="-58.54"/>
<linearGradient id="g367" href="#cm" xlink:href="#cm" x1="289.12" y1="226.59" x2="278.93" y2="-26.66"/>
<linearGradient id="g368" href="#cm" xlink:href="#cm" x1="278.16" y1="230" x2="167.21" y2="-127.13"/>
<linearGradient id="g369" href="#cm" xlink:href="#cm" x1="278.16" y1="230" x2="284.73" y2="-64.63"/>
<linearGradient id="g370" href="#cm" xlink:href="#cm" x1="267.2" y1="233.4" x2="111.51" y2="-267.72"/>
<linearGradient id="g371" href="#cm" xlink:href="#cm" x1="267.2" y1="233.4" x2="332.46" y2="-74.16"/></defs>
<rect width="520" height="475" fill="#fff"/>
<rect x="40" y="16" width="456" height="224" fill="#fcfcfc"/>
<g><line x1="267.2" y1="244.39" x2="497.36" y2="172.89" stroke="#cfcfcf" stroke-width="0.7"/>
<line x1="241.7" y1="236.53" x2="471.86" y2="165.02" stroke="#cfcfcf" stroke-width="0.7"/>
<line x1="216.2" y1="228.66" x2="446.36" y2="157.15" stroke="#cfcfcf" stroke-width="0.7"/>
<line x1="190.7" y1="220.79" x2="420.86" y2="149.29" stroke="#cfcfcf" stroke-width="0.7"/>
<line x1="165.2" y1="212.92" x2="395.36" y2="141.42" stroke="#cfcfcf" stroke-width="0.7"/>
<line x1="139.7" y1="205.06" x2="369.86" y2="133.55" stroke="#cfcfcf" stroke-width="0.7"/>
<line x1="114.2" y1="197.19" x2="344.36" y2="125.69" stroke="#cfcfcf" stroke-width="0.7"/>
<line x1="88.7" y1="189.32" x2="318.86" y2="117.82" stroke="#cfcfcf" stroke-width="0.7"/>
<line x1="63.2" y1="181.46" x2="293.36" y2="109.95" stroke="#cfcfcf" stroke-width="0.7"/>
<line x1="37.7" y1="173.59" x2="267.86" y2="102.08" stroke="#cfcfcf" stroke-width="0.7"/>
<line x1="278.16" y1="240.99" x2="48.66" y2="170.18" stroke="#cfcfcf" stroke-width="0.7"/>
<line x1="300.08" y1="234.18" x2="70.58" y2="163.37" stroke="#cfcfcf" stroke-width="0.7"/>
<line x1="322" y1="227.37" x2="92.5" y2="156.56" stroke="#cfcfcf" stroke-width="0.7"/>
<line x1="343.92" y1="220.56" x2="114.42" y2="149.75" stroke="#cfcfcf" stroke-width="0.7"/>
<line x1="365.84" y1="213.75" x2="136.34" y2="142.94" stroke="#cfcfcf" stroke-width="0.7"/>
<line x1="387.76" y1="206.94" x2="158.26" y2="136.13" stroke="#cfcfcf" stroke-width="0.7"/>
<line x1="409.68" y1="200.13" x2="180.18" y2="129.32" stroke="#cfcfcf" stroke-width="0.7"/>
<line x1="431.6" y1="193.32" x2="202.1" y2="122.51" stroke="#cfcfcf" stroke-width="0.7"/>
<line x1="453.52" y1="186.51" x2="224.02" y2="115.7" stroke="#cfcfcf" stroke-width="0.7"/>
<line x1="475.44" y1="179.7" x2="245.94" y2="108.89" stroke="#cfcfcf" stroke-width="0.7"/>
<line x1="497.36" y1="172.89" x2="267.86" y2="102.08" stroke="#cfcfcf" stroke-width="0.7"/>
<line x1="37.7" y1="162.6" x2="267.86" y2="91.09" stroke="#cfcfcf" stroke-width="0.7"/>
<line x1="37.7" y1="149.96" x2="267.86" y2="78.46" stroke="#cfcfcf" stroke-width="0.7"/>
<line x1="37.7" y1="137.33" x2="267.86" y2="65.82" stroke="#cfcfcf" stroke-width="0.7"/>
<line x1="37.7" y1="124.69" x2="267.86" y2="53.19" stroke="#cfcfcf" stroke-width="0.7"/>
<line x1="37.7" y1="112.06" x2="267.86" y2="40.55" stroke="#cfcfcf" stroke-width="0.7"/>
<line x1="37.7" y1="99.42" x2="267.86" y2="27.92" stroke="#cfcfcf" stroke-width="0.7"/>
<line x1="37.7" y1="86.79" x2="267.86" y2="15.28" stroke="#cfcfcf" stroke-width="0.7"/>
<line x1="48.66" y1="170.18" x2="48.66" y2="83.38" stroke="#cfcfcf" stroke-width="0.7"/>
<line x1="70.58" y1="163.37" x2="70.58" y2="76.57" stroke="#cfcfcf" stroke-width="0.7"/>
<line x1="92.5" y1="156.56" x2="92.5" y2="69.76" stroke="#cfcfcf" stroke-width="0.7"/>
<line x1="114.42" y1="149.75" x2="114.42" y2="62.95" stroke="#cfcfcf" stroke-width="0.7"/>
<line x1="136.34" y1="142.94" x2="136.34" y2="56.14" stroke="#cfcfcf" stroke-width="0.7"/>
<line x1="158.26" y1="136.13" x2="158.26" y2="49.33" stroke="#cfcfcf" stroke-width="0.7"/>
<line x1="180.18" y1="129.32" x2="180.18" y2="42.52" stroke="#cfcfcf" stroke-width="0.7"/>
<line x1="202.1" y1="122.51" x2="202.1" y2="35.71" stroke="#cfcfcf" stroke-width="0.7"/>
<line x1="224.02" y1="115.7" x2="224.02" y2="28.9" stroke="#cfcfcf" stroke-width="0.7"/>
<line x1="245.94" y1="108.89" x2="245.94" y2="22.09" stroke="#cfcfcf" stroke-width="0.7"/>
<line x1="267.86" y1="102.08" x2="267.86" y2="15.28" stroke="#cfcfcf" stroke-width="0.7"/>
<line x1="267.86" y1="91.09" x2="497.36" y2="161.9" stroke="#cfcfcf" stroke-width="0.7"/>
<line x1="267.86" y1="78.46" x2="497.36" y2="149.26" stroke="#cfcfcf" stroke-width="0.7"/>
<line x1="267.86" y1="65.82" x2="497.36" y2="136.62" stroke="#cfcfcf" stroke-width="0.7"/>
<line x1="267.86" y1="53.19" x2="497.36" y2="123.99" stroke="#cfcfcf" stroke-width="0.7"/>
<line x1="267.86" y1="40.55" x2="497.36" y2="111.36" stroke="#cfcfcf" stroke-width="0.7"/>
<line x1="267.86" y1="27.92" x2="497.36" y2="98.72" stroke="#cfcfcf" stroke-width="0.7"/>
<line x1="267.86" y1="15.28" x2="497.36" y2="86.09" stroke="#cfcfcf" stroke-width="0.7"/>
<line x1="497.36" y1="172.89" x2="497.36" y2="86.09" stroke="#cfcfcf" stroke-width="0.7"/>
<line x1="471.86" y1="165.02" x2="471.86" y2="78.22" stroke="#cfcfcf" stroke-width="0.7"/>
<line x1="446.36" y1="157.15" x2="446.36" y2="70.35" stroke="#cfcfcf" stroke-width="0.7"/>
<line x1="420.86" y1="149.29" x2="420.86" y2="62.48" stroke="#cfcfcf" stroke-width="0.7"/>
<line x1="395.36" y1="141.42" x2="395.36" y2="54.62" stroke="#cfcfcf" stroke-width="0.7"/>
<line x1="369.86" y1="133.55" x2="369.86" y2="46.75" stroke="#cfcfcf" stroke-width="0.7"/>
<line x1="344.36" y1="125.69" x2="344.36" y2="38.88" stroke="#cfcfcf" stroke-width="0.7"/>
<line x1="318.86" y1="117.82" x2="318.86" y2="31.02" stroke="#cfcfcf" stroke-width="0.7"/>
<line x1="293.36" y1="109.95" x2="293.36" y2="23.15" stroke="#cfcfcf" stroke-width="0.7"/>
<line x1="267.86" y1="102.08" x2="267.86" y2="15.28" stroke="#cfcfcf" stroke-width="0.7"/>
<polyline points="37.7,173.59 37.7,86.79 267.86,15.28 497.36,86.09 497.36,172.89" fill="none" stroke="#a0a0a0" stroke-width="0.8"/>
<line x1="267.86" y1="102.08" x2="267.86" y2="15.28" stroke="#a0a0a0" stroke-width="0.8"/>
<polyline points="37.7,173.59 267.2,244.39 497.36,172.89" fill="none" stroke="#9a9a9a" stroke-width="0.8"/>
<line x1="267.2" y1="244.39" x2="265" y2="245.09" stroke="#555" stroke-width="0.8"/>
<line x1="241.7" y1="236.53" x2="239.5" y2="237.23" stroke="#555" stroke-width="0.8"/>
<line x1="216.2" y1="228.66" x2="214" y2="229.36" stroke="#555" stroke-width="0.8"/>
<line x1="190.7" y1="220.79" x2="188.5" y2="221.49" stroke="#555" stroke-width="0.8"/>
<line x1="165.2" y1="212.92" x2="163" y2="213.62" stroke="#555" stroke-width="0.8"/>
<line x1="139.7" y1="205.06" x2="137.5" y2="205.76" stroke="#555" stroke-width="0.8"/>
<line x1="114.2" y1="197.19" x2="112" y2="197.89" stroke="#555" stroke-width="0.8"/>
<line x1="88.7" y1="189.32" x2="86.5" y2="190.02" stroke="#555" stroke-width="0.8"/>
<line x1="63.2" y1="181.46" x2="61" y2="182.16" stroke="#555" stroke-width="0.8"/>
<line x1="37.7" y1="173.59" x2="35.5" y2="174.29" stroke="#555" stroke-width="0.8"/>
<line x1="278.16" y1="240.99" x2="279.66" y2="242.39" stroke="#555" stroke-width="0.8"/>
<line x1="300.08" y1="234.18" x2="301.58" y2="235.58" stroke="#555" stroke-width="0.8"/>
<line x1="322" y1="227.37" x2="323.5" y2="228.77" stroke="#555" stroke-width="0.8"/>
<line x1="343.92" y1="220.56" x2="345.42" y2="221.96" stroke="#555" stroke-width="0.8"/>
<line x1="365.84" y1="213.75" x2="367.34" y2="215.15" stroke="#555" stroke-width="0.8"/>
<line x1="387.76" y1="206.94" x2="389.26" y2="208.34" stroke="#555" stroke-width="0.8"/>
<line x1="409.68" y1="200.13" x2="411.18" y2="201.53" stroke="#555" stroke-width="0.8"/>
<line x1="431.6" y1="193.32" x2="433.1" y2="194.72" stroke="#555" stroke-width="0.8"/>
<line x1="453.52" y1="186.51" x2="455.02" y2="187.91" stroke="#555" stroke-width="0.8"/>
<line x1="475.44" y1="179.7" x2="476.94" y2="181.1" stroke="#555" stroke-width="0.8"/>
<line x1="497.36" y1="172.89" x2="498.86" y2="174.29" stroke="#555" stroke-width="0.8"/></g>
<g stroke-linejoin="round"><path d="M282.4,97.31 L256.9,94.5 L267.86,91.09 L293.36,95.17 Z" fill="#2c2e83"/>
<path d="M282.4,97.31 L293.36,95.17 L267.86,91.09 Z" fill="url(#g1)" stroke="url(#g1)" stroke-width="0.5"/>
<path d="M282.4,97.31 L256.9,94.5 L267.86,91.09 Z" fill="url(#g2)" stroke="url(#g2)" stroke-width="0.5"/>
<path d="M282.4,97.31 L256.9,94.5 L267.86,91.09 L293.36,95.17 Z" fill="none" stroke="#101030" stroke-opacity="0.38" stroke-width="0.6"/>
<path d="M271.44,100.72 L245.94,97.9 L256.9,94.5 L282.4,97.31 Z" fill="#2d2f84"/>
<path d="M271.44,100.72 L282.4,97.31 L256.9,94.5 Z" fill="url(#g3)" stroke="url(#g3)" stroke-width="0.5"/>
<path d="M271.44,100.72 L245.94,97.9 L256.9,94.5 Z" fill="url(#g4)" stroke="url(#g4)" stroke-width="0.5"/>
<path d="M271.44,100.72 L245.94,97.9 L256.9,94.5 L282.4,97.31 Z" fill="none" stroke="#101030" stroke-opacity="0.38" stroke-width="0.6"/>
<path d="M260.48,104.12 L234.98,101.31 L245.94,97.9 L271.44,100.72 Z" fill="#2d2f84"/>
<path d="M260.48,104.12 L271.44,100.72 L245.94,97.9 Z" fill="url(#g5)" stroke="url(#g5)" stroke-width="0.5"/>
<path d="M260.48,104.12 L234.98,101.31 L245.94,97.9 Z" fill="url(#g6)" stroke="url(#g6)" stroke-width="0.5"/>
<path d="M260.48,104.12 L234.98,101.31 L245.94,97.9 L271.44,100.72 Z" fill="none" stroke="#101030" stroke-opacity="0.38" stroke-width="0.6"/>
<path d="M249.52,102.47 L224.02,104.71 L234.98,101.31 L260.48,104.12 Z" fill="#2e3188"/>
<path d="M249.52,102.47 L260.48,104.12 L234.98,101.31 Z" fill="url(#g7)" stroke="url(#g7)" stroke-width="0.5"/>
<path d="M249.52,102.47 L224.02,104.71 L234.98,101.31 Z" fill="url(#g8)" stroke="url(#g8)" stroke-width="0.5"/>
<path d="M249.52,102.47 L224.02,104.71 L234.98,101.31 L260.48,104.12 Z" fill="none" stroke="#101030" stroke-opacity="0.38" stroke-width="0.6"/>
<path d="M238.56,110.93 L213.06,108.12 L224.02,104.71 L249.52,102.47 Z" fill="#2e3188"/>
<path d="M238.56,110.93 L249.52,102.47 L224.02,104.71 Z" fill="url(#g9)" stroke="url(#g9)" stroke-width="0.5"/>
<path d="M238.56,110.93 L213.06,108.12 L224.02,104.71 Z" fill="url(#g10)" stroke="url(#g10)" stroke-width="0.5"/>
<path d="M238.56,110.93 L213.06,108.12 L224.02,104.71 L249.52,102.47 Z" fill="none" stroke="#101030" stroke-opacity="0.38" stroke-width="0.6"/>
<path d="M227.6,115.6 L202.1,111.52 L213.06,108.12 L238.56,110.93 Z" fill="#2c2e83"/>
<path d="M227.6,115.6 L238.56,110.93 L213.06,108.12 Z" fill="url(#g11)" stroke="url(#g11)" stroke-width="0.5"/>
<path d="M227.6,115.6 L202.1,111.52 L213.06,108.12 Z" fill="url(#g12)" stroke="url(#g12)" stroke-width="0.5"/>
<path d="M227.6,115.6 L202.1,111.52 L213.06,108.12 L238.56,110.93 Z" fill="none" stroke="#101030" stroke-opacity="0.38" stroke-width="0.6"/>
<path d="M216.64,120.27 L191.14,114.93 L202.1,111.52 L227.6,115.6 Z" fill="#2c2d81"/>
<path d="M216.64,120.27 L227.6,115.6 L202.1,111.52 Z" fill="url(#g13)" stroke="url(#g13)" stroke-width="0.5"/>
<path d="M216.64,120.27 L191.14,114.93 L202.1,111.52 Z" fill="url(#g14)" stroke="url(#g14)" stroke-width="0.5"/>
<path d="M216.64,120.27 L191.14,114.93 L202.1,111.52 L227.6,115.6 Z" fill="none" stroke="#101030" stroke-opacity="0.38" stroke-width="0.6"/>
<path d="M205.68,123.67 L180.18,118.33 L191.14,114.93 L216.64,120.27 Z" fill="#2b2c80"/>
<path d="M205.68,123.67 L216.64,120.27 L191.14,114.93 Z" fill="url(#g15)" stroke="url(#g15)" stroke-width="0.5"/>
<path d="M205.68,123.67 L180.18,118.33 L191.14,114.93 Z" fill="url(#g16)" stroke="url(#g16)" stroke-width="0.5"/>
<path d="M205.68,123.67 L180.18,118.33 L191.14,114.93 L216.64,120.27 Z" fill="none" stroke="#101030" stroke-opacity="0.38" stroke-width="0.6"/>
<path d="M194.72,127.08 L169.22,121.74 L180.18,118.33 L205.68,123.67 Z" fill="#2b2c80"/>
<path d="M194.72,127.08 L205.68,123.67 L180.18,118.33 Z" fill="url(#g17)" stroke="url(#g17)" stroke-width="0.5"/>
<path d="M194.72,127.08 L169.22,121.74 L180.18,118.33 Z" fill="url(#g18)" stroke="url(#g18)" stroke-width="0.5"/>
<path d="M194.72,127.08 L169.22,121.74 L180.18,118.33 L205.68,123.67 Z" fill="none" stroke="#101030" stroke-opacity="0.38" stroke-width="0.6"/>
<path d="M183.76,130.48 L158.26,125.14 L169.22,121.74 L194.72,127.08 Z" fill="#2b2c80"/>
<path d="M183.76,130.48 L194.72,127.08 L169.22,121.74 Z" fill="url(#g19)" stroke="url(#g19)" stroke-width="0.5"/>
<path d="M183.76,130.48 L158.26,125.14 L169.22,121.74 Z" fill="url(#g20)" stroke="url(#g20)" stroke-width="0.5"/>
<path d="M183.76,130.48 L158.26,125.14 L169.22,121.74 L194.72,127.08 Z" fill="none" stroke="#101030" stroke-opacity="0.38" stroke-width="0.6"/>
<path d="M172.8,133.89 L147.3,128.55 L158.26,125.14 L183.76,130.48 Z" fill="#2b2c80"/>
<path d="M172.8,133.89 L183.76,130.48 L158.26,125.14 Z" fill="url(#g21)" stroke="url(#g21)" stroke-width="0.5"/>
<path d="M172.8,133.89 L147.3,128.55 L158.26,125.14 Z" fill="url(#g22)" stroke="url(#g22)" stroke-width="0.5"/>
<path d="M172.8,133.89 L147.3,128.55 L158.26,125.14 L183.76,130.48 Z" fill="none" stroke="#101030" stroke-opacity="0.38" stroke-width="0.6"/>
<path d="M161.84,137.29 L136.34,131.95 L147.3,128.55 L172.8,133.89 Z" fill="#2b2c80"/>
<path d="M161.84,137.29 L172.8,133.89 L147.3,128.55 Z" fill="url(#g23)" stroke="url(#g23)" stroke-width="0.5"/>
<path d="M161.84,137.29 L136.34,131.95 L147.3,128.55 Z" fill="url(#g24)" stroke="url(#g24)" stroke-width="0.5"/>
<path d="M161.84,137.29 L136.34,131.95 L147.3,128.55 L172.8,133.89 Z" fill="none" stroke="#101030" stroke-opacity="0.38" stroke-width="0.6"/>
<path d="M150.88,140.7 L125.38,135.36 L136.34,131.95 L161.84,137.29 Z" fill="#2b2c80"/>
<path d="M150.88,140.7 L161.84,137.29 L136.34,131.95 Z" fill="url(#g25)" stroke="url(#g25)" stroke-width="0.5"/>
<path d="M150.88,140.7 L125.38,135.36 L136.34,131.95 Z" fill="url(#g26)" stroke="url(#g26)" stroke-width="0.5"/>
<path d="M150.88,140.7 L125.38,135.36 L136.34,131.95 L161.84,137.29 Z" fill="none" stroke="#101030" stroke-opacity="0.38" stroke-width="0.6"/>
<path d="M139.92,144.1 L114.42,138.76 L125.38,135.36 L150.88,140.7 Z" fill="#2b2c80"/>
<path d="M139.92,144.1 L150.88,140.7 L125.38,135.36 Z" fill="url(#g27)" stroke="url(#g27)" stroke-width="0.5"/>
<path d="M139.92,144.1 L114.42,138.76 L125.38,135.36 Z" fill="url(#g28)" stroke="url(#g28)" stroke-width="0.5"/>
<path d="M139.92,144.1 L114.42,138.76 L125.38,135.36 L150.88,140.7 Z" fill="none" stroke="#101030" stroke-opacity="0.38" stroke-width="0.6"/>
<path d="M128.96,146.24 L103.46,142.17 L114.42,138.76 L139.92,144.1 Z" fill="#2c2d81"/>
<path d="M128.96,146.24 L139.92,144.1 L114.42,138.76 Z" fill="url(#g29)" stroke="url(#g29)" stroke-width="0.5"/>
<path d="M128.96,146.24 L103.46,142.17 L114.42,138.76 Z" fill="url(#g30)" stroke="url(#g30)" stroke-width="0.5"/>
<path d="M128.96,146.24 L103.46,142.17 L114.42,138.76 L139.92,144.1 Z" fill="none" stroke="#101030" stroke-opacity="0.38" stroke-width="0.6"/>
<path d="M118,150.91 L92.5,145.57 L103.46,142.17 L128.96,146.24 Z" fill="#2c2d81"/>
<path d="M118,150.91 L128.96,146.24 L103.46,142.17 Z" fill="url(#g31)" stroke="url(#g31)" stroke-width="0.5"/>
<path d="M118,150.91 L92.5,145.57 L103.46,142.17 Z" fill="url(#g32)" stroke="url(#g32)" stroke-width="0.5"/>
<path d="M118,150.91 L92.5,145.57 L103.46,142.17 L128.96,146.24 Z" fill="none" stroke="#101030" stroke-opacity="0.38" stroke-width="0.6"/>
<path d="M107.04,154.32 L81.54,148.98 L92.5,145.57 L118,150.91 Z" fill="#2b2c80"/>
<path d="M107.04,154.32 L118,150.91 L92.5,145.57 Z" fill="url(#g33)" stroke="url(#g33)" stroke-width="0.5"/>
<path d="M107.04,154.32 L81.54,148.98 L92.5,145.57 Z" fill="url(#g34)" stroke="url(#g34)" stroke-width="0.5"/>
<path d="M107.04,154.32 L81.54,148.98 L92.5,145.57 L118,150.91 Z" fill="none" stroke="#101030" stroke-opacity="0.38" stroke-width="0.6"/>
<path d="M96.08,157.72 L70.58,152.38 L81.54,148.98 L107.04,154.32 Z" fill="#2b2c80"/>
<path d="M96.08,157.72 L107.04,154.32 L81.54,148.98 Z" fill="url(#g35)" stroke="url(#g35)" stroke-width="0.5"/>
<path d="M96.08,157.72 L70.58,152.38 L81.54,148.98 Z" fill="url(#g36)" stroke="url(#g36)" stroke-width="0.5"/>
<path d="M96.08,157.72 L70.58,152.38 L81.54,148.98 L107.04,154.32 Z" fill="none" stroke="#101030" stroke-opacity="0.38" stroke-width="0.6"/>
<path d="M85.12,161.13 L59.62,155.79 L70.58,152.38 L96.08,157.72 Z" fill="#2b2c80"/>
<path d="M85.12,161.13 L96.08,157.72 L70.58,152.38 Z" fill="url(#g37)" stroke="url(#g37)" stroke-width="0.5"/>
<path d="M85.12,161.13 L59.62,155.79 L70.58,152.38 Z" fill="url(#g38)" stroke="url(#g38)" stroke-width="0.5"/>
<path d="M85.12,161.13 L59.62,155.79 L70.58,152.38 L96.08,157.72 Z" fill="none" stroke="#101030" stroke-opacity="0.38" stroke-width="0.6"/>
<path d="M74.16,164.53 L48.66,159.19 L59.62,155.79 L85.12,161.13 Z" fill="#2b2c80"/>
<path d="M74.16,164.53 L85.12,161.13 L59.62,155.79 Z" fill="url(#g39)" stroke="url(#g39)" stroke-width="0.5"/>
<path d="M74.16,164.53 L48.66,159.19 L59.62,155.79 Z" fill="url(#g40)" stroke="url(#g40)" stroke-width="0.5"/>
<path d="M74.16,164.53 L48.66,159.19 L59.62,155.79 L85.12,161.13 Z" fill="none" stroke="#101030" stroke-opacity="0.38" stroke-width="0.6"/>
<path d="M63.2,169.2 L37.7,162.6 L48.66,159.19 L74.16,164.53 Z" fill="#2b2c7f"/>
<path d="M63.2,169.2 L74.16,164.53 L48.66,159.19 Z" fill="url(#g41)" stroke="url(#g41)" stroke-width="0.5"/>
<path d="M63.2,169.2 L37.7,162.6 L48.66,159.19 Z" fill="#2a2b7d" stroke="#2a2b7d" stroke-width="0.5"/>
<path d="M63.2,169.2 L37.7,162.6 L48.66,159.19 L74.16,164.53 Z" fill="none" stroke="#101030" stroke-opacity="0.38" stroke-width="0.6"/>
<path d="M307.9,100.12 L282.4,97.31 L293.36,95.17 L318.86,101.77 Z" fill="#30358f"/>
<path d="M307.9,100.12 L318.86,101.77 L293.36,95.17 Z" fill="url(#g42)" stroke="url(#g42)" stroke-width="0.5"/>
<path d="M307.9,100.12 L282.4,97.31 L293.36,95.17 Z" fill="url(#g43)" stroke="url(#g43)" stroke-width="0.5"/>
<path d="M307.9,100.12 L282.4,97.31 L293.36,95.17 L318.86,101.77 Z" fill="none" stroke="#101030" stroke-opacity="0.38" stroke-width="0.6"/>
<path d="M296.94,101 L271.44,100.72 L282.4,97.31 L307.9,100.12 Z" fill="#333a96"/>
<path d="M296.94,101 L307.9,100.12 L282.4,97.31 Z" fill="url(#g44)" stroke="url(#g44)" stroke-width="0.5"/>
<path d="M296.94,101 L271.44,100.72 L282.4,97.31 Z" fill="url(#g45)" stroke="url(#g45)" stroke-width="0.5"/>
<path d="M296.94,101 L271.44,100.72 L282.4,97.31 L307.9,100.12 Z" fill="none" stroke="#101030" stroke-opacity="0.38" stroke-width="0.6"/>
<path d="M285.98,104.41 L260.48,104.12 L271.44,100.72 L296.94,101 Z" fill="#343b98"/>
<path d="M285.98,104.41 L296.94,101 L271.44,100.72 Z" fill="url(#g46)" stroke="url(#g46)" stroke-width="0.5"/>
<path d="M285.98,104.41 L260.48,104.12 L271.44,100.72 Z" fill="url(#g47)" stroke="url(#g47)" stroke-width="0.5"/>
<path d="M285.98,104.41 L260.48,104.12 L271.44,100.72 L296.94,101 Z" fill="none" stroke="#101030" stroke-opacity="0.38" stroke-width="0.6"/>
<path d="M275.02,107.81 L249.52,102.47 L260.48,104.12 L285.98,104.41 Z" fill="#363e9d"/>
<path d="M275.02,107.81 L285.98,104.41 L260.48,104.12 Z" fill="url(#g48)" stroke="url(#g48)" stroke-width="0.5"/>
<path d="M275.02,107.81 L249.52,102.47 L260.48,104.12 Z" fill="url(#g49)" stroke="url(#g49)" stroke-width="0.5"/>
<path d="M275.02,107.81 L249.52,102.47 L260.48,104.12 L285.98,104.41 Z" fill="none" stroke="#101030" stroke-opacity="0.38" stroke-width="0.6"/>
<path d="M264.06,106.16 L238.56,110.93 L249.52,102.47 L275.02,107.81 Z" fill="#3842a1"/>
<path d="M264.06,106.16 L275.02,107.81 L249.52,102.47 Z" fill="url(#g50)" stroke="url(#g50)" stroke-width="0.5"/>
<path d="M264.06,106.16 L238.56,110.93 L249.52,102.47 Z" fill="url(#g51)" stroke="url(#g51)" stroke-width="0.5"/>
<path d="M264.06,106.16 L238.56,110.93 L249.52,102.47 L275.02,107.81 Z" fill="none" stroke="#101030" stroke-opacity="0.38" stroke-width="0.6"/>
<path d="M253.1,112.09 L227.6,115.6 L238.56,110.93 L264.06,106.16 Z" fill="#363f9e"/>
<path d="M253.1,112.09 L264.06,106.16 L238.56,110.93 Z" fill="url(#g52)" stroke="url(#g52)" stroke-width="0.5"/>
<path d="M253.1,112.09 L227.6,115.6 L238.56,110.93 Z" fill="url(#g53)" stroke="url(#g53)" stroke-width="0.5"/>
<path d="M253.1,112.09 L227.6,115.6 L238.56,110.93 L264.06,106.16 Z" fill="none" stroke="#101030" stroke-opacity="0.38" stroke-width="0.6"/>
<path d="M242.14,115.5 L216.64,120.27 L227.6,115.6 L253.1,112.09 Z" fill="#343c9a"/>
<path d="M242.14,115.5 L253.1,112.09 L227.6,115.6 Z" fill="url(#g54)" stroke="url(#g54)" stroke-width="0.5"/>
<path d="M242.14,115.5 L216.64,120.27 L227.6,115.6 Z" fill="url(#g55)" stroke="url(#g55)" stroke-width="0.5"/>
<path d="M242.14,115.5 L216.64,120.27 L227.6,115.6 L253.1,112.09 Z" fill="none" stroke="#101030" stroke-opacity="0.38" stroke-width="0.6"/>
<path d="M231.18,129.01 L205.68,123.67 L216.64,120.27 L242.14,115.5 Z" fill="#313690"/>
<path d="M231.18,129.01 L242.14,115.5 L216.64,120.27 Z" fill="url(#g56)" stroke="url(#g56)" stroke-width="0.5"/>
<path d="M231.18,129.01 L205.68,123.67 L216.64,120.27 Z" fill="url(#g57)" stroke="url(#g57)" stroke-width="0.5"/>
<path d="M231.18,129.01 L205.68,123.67 L216.64,120.27 L242.14,115.5 Z" fill="none" stroke="#101030" stroke-opacity="0.38" stroke-width="0.6"/>
<path d="M220.22,127.36 L194.72,127.08 L205.68,123.67 L231.18,129.01 Z" fill="#2f338c"/>
<path d="M220.22,127.36 L231.18,129.01 L205.68,123.67 Z" fill="url(#g58)" stroke="url(#g58)" stroke-width="0.5"/>
<path d="M220.22,127.36 L194.72,127.08 L205.68,123.67 Z" fill="url(#g59)" stroke="url(#g59)" stroke-width="0.5"/>
<path d="M220.22,127.36 L194.72,127.08 L205.68,123.67 L231.18,129.01 Z" fill="none" stroke="#101030" stroke-opacity="0.38" stroke-width="0.6"/>
<path d="M209.26,133.3 L183.76,130.48 L194.72,127.08 L220.22,127.36 Z" fill="#30348e"/>
<path d="M209.26,133.3 L220.22,127.36 L194.72,127.08 Z" fill="url(#g60)" stroke="url(#g60)" stroke-width="0.5"/>
<path d="M209.26,133.3 L183.76,130.48 L194.72,127.08 Z" fill="url(#g61)" stroke="url(#g61)" stroke-width="0.5"/>
<path d="M209.26,133.3 L183.76,130.48 L194.72,127.08 L220.22,127.36 Z" fill="none" stroke="#101030" stroke-opacity="0.38" stroke-width="0.6"/>
<path d="M198.3,136.7 L172.8,133.89 L183.76,130.48 L209.26,133.3 Z" fill="#2f338c"/>
<path d="M198.3,136.7 L209.26,133.3 L183.76,130.48 Z" fill="url(#g62)" stroke="url(#g62)" stroke-width="0.5"/>
<path d="M198.3,136.7 L172.8,133.89 L183.76,130.48 Z" fill="url(#g63)" stroke="url(#g63)" stroke-width="0.5"/>
<path d="M198.3,136.7 L172.8,133.89 L183.76,130.48 L209.26,133.3 Z" fill="none" stroke="#101030" stroke-opacity="0.38" stroke-width="0.6"/>
<path d="M187.34,140.11 L161.84,137.29 L172.8,133.89 L198.3,136.7 Z" fill="#2f338c"/>
<path d="M187.34,140.11 L198.3,136.7 L172.8,133.89 Z" fill="url(#g64)" stroke="url(#g64)" stroke-width="0.5"/>
<path d="M187.34,140.11 L161.84,137.29 L172.8,133.89 Z" fill="url(#g65)" stroke="url(#g65)" stroke-width="0.5"/>
<path d="M187.34,140.11 L161.84,137.29 L172.8,133.89 L198.3,136.7 Z" fill="none" stroke="#101030" stroke-opacity="0.38" stroke-width="0.6"/>
<path d="M176.38,144.77 L150.88,140.7 L161.84,137.29 L187.34,140.11 Z" fill="#2f338b"/>
<path d="M176.38,144.77 L187.34,140.11 L161.84,137.29 Z" fill="url(#g66)" stroke="url(#g66)" stroke-width="0.5"/>
<path d="M176.38,144.77 L150.88,140.7 L161.84,137.29 Z" fill="url(#g67)" stroke="url(#g67)" stroke-width="0.5"/>
<path d="M176.38,144.77 L150.88,140.7 L161.84,137.29 L187.34,140.11 Z" fill="none" stroke="#101030" stroke-opacity="0.38" stroke-width="0.6"/>
<path d="M165.42,148.18 L139.92,144.1 L150.88,140.7 L176.38,144.77 Z" fill="#2f328a"/>
<path d="M165.42,148.18 L176.38,144.77 L150.88,140.7 Z" fill="url(#g68)" stroke="url(#g68)" stroke-width="0.5"/>
<path d="M165.42,148.18 L139.92,144.1 L150.88,140.7 Z" fill="url(#g69)" stroke="url(#g69)" stroke-width="0.5"/>
<path d="M165.42,148.18 L139.92,144.1 L150.88,140.7 L176.38,144.77 Z" fill="none" stroke="#101030" stroke-opacity="0.38" stroke-width="0.6"/>
<path d="M154.46,151.58 L128.96,146.24 L139.92,144.1 L165.42,148.18 Z" fill="#2f338b"/>
<path d="M154.46,151.58 L165.42,148.18 L139.92,144.1 Z" fill="url(#g70)" stroke="url(#g70)" stroke-width="0.5"/>
<path d="M154.46,151.58 L128.96,146.24 L139.92,144.1 Z" fill="url(#g71)" stroke="url(#g71)" stroke-width="0.5"/>
<path d="M154.46,151.58 L128.96,146.24 L139.92,144.1 L165.42,148.18 Z" fill="none" stroke="#101030" stroke-opacity="0.38" stroke-width="0.6"/>
<path d="M143.5,153.73 L118,150.91 L128.96,146.24 L154.46,151.58 Z" fill="#2f338c"/>
<path d="M143.5,153.73 L154.46,151.58 L128.96,146.24 Z" fill="url(#g72)" stroke="url(#g72)" stroke-width="0.5"/>
<path d="M143.5,153.73 L118,150.91 L128.96,146.24 Z" fill="url(#g73)" stroke="url(#g73)" stroke-width="0.5"/>
<path d="M143.5,153.73 L118,150.91 L128.96,146.24 L154.46,151.58 Z" fill="none" stroke="#101030" stroke-opacity="0.38" stroke-width="0.6"/>
<path d="M132.54,155.87 L107.04,154.32 L118,150.91 L143.5,153.73 Z" fill="#30348d"/>
<path d="M132.54,155.87 L143.5,153.73 L118,150.91 Z" fill="url(#g74)" stroke="url(#g74)" stroke-width="0.5"/>
<path d="M132.54,155.87 L107.04,154.32 L118,150.91 Z" fill="url(#g75)" stroke="url(#g75)" stroke-width="0.5"/>
<path d="M132.54,155.87 L107.04,154.32 L118,150.91 L143.5,153.73 Z" fill="none" stroke="#101030" stroke-opacity="0.38" stroke-width="0.6"/>
<path d="M121.58,155.48 L96.08,157.72 L107.04,154.32 L132.54,155.87 Z" fill="#313691"/>
<path d="M121.58,155.48 L132.54,155.87 L107.04,154.32 Z" fill="url(#g76)" stroke="url(#g76)" stroke-width="0.5"/>
<path d="M121.58,155.48 L96.08,157.72 L107.04,154.32 Z" fill="url(#g77)" stroke="url(#g77)" stroke-width="0.5"/>
<path d="M121.58,155.48 L96.08,157.72 L107.04,154.32 L132.54,155.87 Z" fill="none" stroke="#101030" stroke-opacity="0.38" stroke-width="0.6"/>
<path d="M110.62,156.36 L85.12,161.13 L96.08,157.72 L121.58,155.48 Z" fill="#333a96"/>
<path d="M110.62,156.36 L121.58,155.48 L96.08,157.72 Z" fill="#363e9d" stroke="#363e9d" stroke-width="0.5"/>
<path d="M110.62,156.36 L85.12,161.13 L96.08,157.72 Z" fill="url(#g78)" stroke="url(#g78)" stroke-width="0.5"/>
<path d="M110.62,156.36 L85.12,161.13 L96.08,157.72 L121.58,155.48 Z" fill="none" stroke="#101030" stroke-opacity="0.38" stroke-width="0.6"/>
<path d="M99.66,155.97 L74.16,164.53 L85.12,161.13 L110.62,156.36 Z" fill="#363e9c"/>
<path d="M99.66,155.97 L110.62,156.36 L85.12,161.13 Z" fill="url(#g79)" stroke="url(#g79)" stroke-width="0.5"/>
<path d="M99.66,155.97 L74.16,164.53 L85.12,161.13 Z" fill="url(#g80)" stroke="url(#g80)" stroke-width="0.5"/>
<path d="M99.66,155.97 L74.16,164.53 L85.12,161.13 L110.62,156.36 Z" fill="none" stroke="#101030" stroke-opacity="0.38" stroke-width="0.6"/>
<path d="M88.7,169.23 L63.2,169.2 L74.16,164.53 L99.66,155.97 Z" fill="#333995"/>
<path d="M88.7,169.23 L99.66,155.97 L74.16,164.53 Z" fill="url(#g81)" stroke="url(#g81)" stroke-width="0.5"/>
<path d="M88.7,169.23 L63.2,169.2 L74.16,164.53 Z" fill="url(#g82)" stroke="url(#g82)" stroke-width="0.5"/>
<path d="M88.7,169.23 L63.2,169.2 L74.16,164.53 L99.66,155.97 Z" fill="none" stroke="#101030" stroke-opacity="0.38" stroke-width="0.6"/>
<path d="M333.4,87.77 L307.9,100.12 L318.86,101.77 L344.36,65.42 Z" fill="#4051b3"/>
<path d="M333.4,87.77 L344.36,65.42 L318.86,101.77 Z" fill="url(#g83)" stroke="url(#g83)" stroke-width="0.5"/>
<path d="M333.4,87.77 L307.9,100.12 L318.86,101.77 Z" fill="url(#g84)" stroke="url(#g84)" stroke-width="0.5"/>
<path d="M333.4,87.77 L307.9,100.12 L318.86,101.77 L344.36,65.42 Z M333.4,87.77 L318.86,101.77" fill="none" stroke="#101828" stroke-opacity="0.85" stroke-width="0.65"/>
<path d="M322.44,96.23 L296.94,101 L307.9,100.12 L333.4,87.77 Z" fill="#3e4daf"/>
<path d="M322.44,96.23 L333.4,87.77 L307.9,100.12 Z" fill="url(#g85)" stroke="url(#g85)" stroke-width="0.5"/>
<path d="M322.44,96.23 L296.94,101 L307.9,100.12 Z" fill="url(#g86)" stroke="url(#g86)" stroke-width="0.5"/>
<path d="M322.44,96.23 L296.94,101 L307.9,100.12 L333.4,87.77 Z M322.44,96.23 L307.9,100.12" fill="none" stroke="#101828" stroke-opacity="0.74" stroke-width="0.65"/>
<path d="M311.48,104.69 L285.98,104.41 L296.94,101 L322.44,96.23 Z" fill="#3d4bad"/>
<path d="M311.48,104.69 L322.44,96.23 L296.94,101 Z" fill="url(#g87)" stroke="url(#g87)" stroke-width="0.5"/>
<path d="M311.48,104.69 L285.98,104.41 L296.94,101 Z" fill="url(#g88)" stroke="url(#g88)" stroke-width="0.5"/>
<path d="M311.48,104.69 L285.98,104.41 L296.94,101 L322.44,96.23 Z" fill="none" stroke="#101030" stroke-opacity="0.38" stroke-width="0.6"/>
<path d="M300.52,110.62 L275.02,107.81 L285.98,104.41 L311.48,104.69 Z" fill="#3d4aac"/>
<path d="M300.52,110.62 L311.48,104.69 L285.98,104.41 Z" fill="url(#g89)" stroke="url(#g89)" stroke-width="0.5"/>
<path d="M300.52,110.62 L275.02,107.81 L285.98,104.41 Z" fill="url(#g90)" stroke="url(#g90)" stroke-width="0.5"/>
<path d="M300.52,110.62 L275.02,107.81 L285.98,104.41 L311.48,104.69 Z" fill="none" stroke="#101030" stroke-opacity="0.38" stroke-width="0.6"/>
<path d="M289.56,108.98 L264.06,106.16 L275.02,107.81 L300.52,110.62 Z" fill="#3d4bad"/>
<path d="M289.56,108.98 L300.52,110.62 L275.02,107.81 Z" fill="url(#g91)" stroke="url(#g91)" stroke-width="0.5"/>
<path d="M289.56,108.98 L264.06,106.16 L275.02,107.81 Z" fill="url(#g92)" stroke="url(#g92)" stroke-width="0.5"/>
<path d="M289.56,108.98 L264.06,106.16 L275.02,107.81 L300.52,110.62 Z" fill="none" stroke="#101030" stroke-opacity="0.38" stroke-width="0.6"/>
<path d="M278.6,119.96 L253.1,112.09 L264.06,106.16 L289.56,108.98 Z" fill="#3d4bad"/>
<path d="M278.6,119.96 L289.56,108.98 L264.06,106.16 Z" fill="url(#g93)" stroke="url(#g93)" stroke-width="0.5"/>
<path d="M278.6,119.96 L253.1,112.09 L264.06,106.16 Z" fill="url(#g94)" stroke="url(#g94)" stroke-width="0.5"/>
<path d="M278.6,119.96 L253.1,112.09 L264.06,106.16 L289.56,108.98 Z" fill="none" stroke="#101030" stroke-opacity="0.38" stroke-width="0.6"/>
<path d="M267.64,130.95 L242.14,115.5 L253.1,112.09 L278.6,119.96 Z" fill="#3b46a8"/>
<path d="M267.64,130.95 L278.6,119.96 L253.1,112.09 Z" fill="url(#g95)" stroke="url(#g95)" stroke-width="0.5"/>
<path d="M267.64,130.95 L242.14,115.5 L253.1,112.09 Z" fill="url(#g96)" stroke="url(#g96)" stroke-width="0.5"/>
<path d="M267.64,130.95 L242.14,115.5 L253.1,112.09 L278.6,119.96 Z" fill="none" stroke="#101030" stroke-opacity="0.38" stroke-width="0.6"/>
<path d="M256.68,134.35 L231.18,129.01 L242.14,115.5 L267.64,130.95 Z" fill="#343b98"/>
<path d="M256.68,134.35 L267.64,130.95 L242.14,115.5 Z" fill="url(#g97)" stroke="url(#g97)" stroke-width="0.5"/>
<path d="M256.68,134.35 L231.18,129.01 L242.14,115.5 Z" fill="url(#g98)" stroke="url(#g98)" stroke-width="0.5"/>
<path d="M256.68,134.35 L231.18,129.01 L242.14,115.5 L267.64,130.95 Z" fill="none" stroke="#101030" stroke-opacity="0.38" stroke-width="0.6"/>
<path d="M245.72,132.7 L220.22,127.36 L231.18,129.01 L256.68,134.35 Z" fill="#343b98"/>
<path d="M245.72,132.7 L256.68,134.35 L231.18,129.01 Z" fill="url(#g99)" stroke="url(#g99)" stroke-width="0.5"/>
<path d="M245.72,132.7 L220.22,127.36 L231.18,129.01 Z" fill="url(#g100)" stroke="url(#g100)" stroke-width="0.5"/>
<path d="M245.72,132.7 L220.22,127.36 L231.18,129.01 L256.68,134.35 Z" fill="none" stroke="#101030" stroke-opacity="0.38" stroke-width="0.6"/>
<path d="M234.76,136.11 L209.26,133.3 L220.22,127.36 L245.72,132.7 Z" fill="#37409f"/>
<path d="M234.76,136.11 L245.72,132.7 L220.22,127.36 Z" fill="url(#g101)" stroke="url(#g101)" stroke-width="0.5"/>
<path d="M234.76,136.11 L209.26,133.3 L220.22,127.36 Z" fill="url(#g102)" stroke="url(#g102)" stroke-width="0.5"/>
<path d="M234.76,136.11 L209.26,133.3 L220.22,127.36 L245.72,132.7 Z" fill="none" stroke="#101030" stroke-opacity="0.38" stroke-width="0.6"/>
<path d="M223.8,139.51 L198.3,136.7 L209.26,133.3 L234.76,136.11 Z" fill="#363e9d"/>
<path d="M223.8,139.51 L234.76,136.11 L209.26,133.3 Z" fill="url(#g103)" stroke="url(#g103)" stroke-width="0.5"/>
<path d="M223.8,139.51 L198.3,136.7 L209.26,133.3 Z" fill="url(#g104)" stroke="url(#g104)" stroke-width="0.5"/>
<path d="M223.8,139.51 L198.3,136.7 L209.26,133.3 L234.76,136.11 Z" fill="none" stroke="#101030" stroke-opacity="0.38" stroke-width="0.6"/>
<path d="M212.84,142.92 L187.34,140.11 L198.3,136.7 L223.8,139.51 Z" fill="#363e9d"/>
<path d="M212.84,142.92 L223.8,139.51 L198.3,136.7 Z" fill="url(#g105)" stroke="url(#g105)" stroke-width="0.5"/>
<path d="M212.84,142.92 L187.34,140.11 L198.3,136.7 Z" fill="url(#g106)" stroke="url(#g106)" stroke-width="0.5"/>
<path d="M212.84,142.92 L187.34,140.11 L198.3,136.7 L223.8,139.51 Z" fill="none" stroke="#101030" stroke-opacity="0.38" stroke-width="0.6"/>
<path d="M201.88,146.32 L176.38,144.77 L187.34,140.11 L212.84,142.92 Z" fill="#363e9c"/>
<path d="M201.88,146.32 L212.84,142.92 L187.34,140.11 Z" fill="url(#g107)" stroke="url(#g107)" stroke-width="0.5"/>
<path d="M201.88,146.32 L176.38,144.77 L187.34,140.11 Z" fill="url(#g108)" stroke="url(#g108)" stroke-width="0.5"/>
<path d="M201.88,146.32 L176.38,144.77 L187.34,140.11 L212.84,142.92 Z" fill="none" stroke="#101030" stroke-opacity="0.38" stroke-width="0.6"/>
<path d="M190.92,147.2 L165.42,148.18 L176.38,144.77 L201.88,146.32 Z" fill="#363e9d"/>
<path d="M190.92,147.2 L201.88,146.32 L176.38,144.77 Z" fill="url(#g109)" stroke="url(#g109)" stroke-width="0.5"/>
<path d="M190.92,147.2 L165.42,148.18 L176.38,144.77 Z" fill="url(#g110)" stroke="url(#g110)" stroke-width="0.5"/>
<path d="M190.92,147.2 L165.42,148.18 L176.38,144.77 L201.88,146.32 Z" fill="none" stroke="#101030" stroke-opacity="0.38" stroke-width="0.6"/>
<path d="M179.96,150.61 L154.46,151.58 L165.42,148.18 L190.92,147.2 Z" fill="#37409f"/>
<path d="M179.96,150.61 L190.92,147.2 L165.42,148.18 Z" fill="url(#g111)" stroke="url(#g111)" stroke-width="0.5"/>
<path d="M179.96,150.61 L154.46,151.58 L165.42,148.18 Z" fill="url(#g112)" stroke="url(#g112)" stroke-width="0.5"/>
<path d="M179.96,150.61 L154.46,151.58 L165.42,148.18 L190.92,147.2 Z" fill="none" stroke="#101030" stroke-opacity="0.38" stroke-width="0.6"/>
<path d="M169,151.48 L143.5,153.73 L154.46,151.58 L179.96,150.61 Z" fill="#3842a2"/>
<path d="M169,151.48 L179.96,150.61 L154.46,151.58 Z" fill="url(#g113)" stroke="url(#g113)" stroke-width="0.5"/>
<path d="M169,151.48 L143.5,153.73 L154.46,151.58 Z" fill="url(#g114)" stroke="url(#g114)" stroke-width="0.5"/>
<path d="M169,151.48 L143.5,153.73 L154.46,151.58 L179.96,150.61 Z" fill="none" stroke="#101030" stroke-opacity="0.38" stroke-width="0.6"/>
<path d="M158.04,154.89 L132.54,155.87 L143.5,153.73 L169,151.48 Z" fill="#3a46a7"/>
<path d="M158.04,154.89 L169,151.48 L143.5,153.73 Z" fill="url(#g115)" stroke="url(#g115)" stroke-width="0.5"/>
<path d="M158.04,154.89 L132.54,155.87 L143.5,153.73 Z" fill="url(#g116)" stroke="url(#g116)" stroke-width="0.5"/>
<path d="M158.04,154.89 L132.54,155.87 L143.5,153.73 L169,151.48 Z" fill="none" stroke="#101030" stroke-opacity="0.38" stroke-width="0.6"/>
<path d="M147.08,155.77 L121.58,155.48 L132.54,155.87 L158.04,154.89 Z" fill="#3c49ab"/>
<path d="M147.08,155.77 L158.04,154.89 L132.54,155.87 Z" fill="url(#g117)" stroke="url(#g117)" stroke-width="0.5"/>
<path d="M147.08,155.77 L121.58,155.48 L132.54,155.87 Z" fill="url(#g118)" stroke="url(#g118)" stroke-width="0.5"/>
<path d="M147.08,155.77 L121.58,155.48 L132.54,155.87 L158.04,154.89 Z" fill="none" stroke="#101030" stroke-opacity="0.38" stroke-width="0.6"/>
<path d="M136.12,159.17 L110.62,156.36 L121.58,155.48 L147.08,155.77 Z" fill="#3d4bad"/>
<path d="M136.12,159.17 L147.08,155.77 L121.58,155.48 Z" fill="url(#g119)" stroke="url(#g119)" stroke-width="0.5"/>
<path d="M136.12,159.17 L110.62,156.36 L121.58,155.48 Z" fill="url(#g120)" stroke="url(#g120)" stroke-width="0.5"/>
<path d="M136.12,159.17 L110.62,156.36 L121.58,155.48 L147.08,155.77 Z" fill="none" stroke="#101030" stroke-opacity="0.38" stroke-width="0.6"/>
<path d="M125.16,165.1 L99.66,155.97 L110.62,156.36 L136.12,159.17 Z" fill="#3e4cae"/>
<path d="M125.16,165.1 L136.12,159.17 L110.62,156.36 Z" fill="url(#g121)" stroke="url(#g121)" stroke-width="0.5"/>
<path d="M125.16,165.1 L99.66,155.97 L110.62,156.36 Z" fill="url(#g122)" stroke="url(#g122)" stroke-width="0.5"/>
<path d="M125.16,165.1 L99.66,155.97 L110.62,156.36 L136.12,159.17 Z" fill="none" stroke="#101030" stroke-opacity="0.38" stroke-width="0.6"/>
<path d="M114.2,173.56 L88.7,169.23 L99.66,155.97 L125.16,165.1 Z" fill="#3c49ab"/>
<path d="M114.2,173.56 L125.16,165.1 L99.66,155.97 Z" fill="url(#g123)" stroke="url(#g123)" stroke-width="0.5"/>
<path d="M114.2,173.56 L88.7,169.23 L99.66,155.97 Z" fill="url(#g124)" stroke="url(#g124)" stroke-width="0.5"/>
<path d="M114.2,173.56 L88.7,169.23 L99.66,155.97 L125.16,165.1 Z" fill="none" stroke="#101030" stroke-opacity="0.38" stroke-width="0.6"/>
<path d="M358.9,90.59 L333.4,87.77 L344.36,65.42 L369.86,96.53 Z" fill="#76c144"/>
<path d="M358.9,90.59 L369.86,96.53 L344.36,65.42 Z" fill="url(#g125)" stroke="url(#g125)" stroke-width="0.5"/>
<path d="M358.9,90.59 L333.4,87.77 L344.36,65.42 Z" fill="url(#g126)" stroke="url(#g126)" stroke-width="0.5"/>
<path d="M358.9,90.59 L333.4,87.77 L344.36,65.42 L369.86,96.53 Z M358.9,90.59 L344.36,65.42" fill="none" stroke="#101828" stroke-opacity="0.85" stroke-width="0.65"/>
<path d="M347.94,78.83 L322.44,96.23 L333.4,87.77 L358.9,90.59 Z" fill="#77c144"/>
<path d="M347.94,78.83 L358.9,90.59 L333.4,87.77 Z" fill="url(#g127)" stroke="url(#g127)" stroke-width="0.5"/>
<path d="M347.94,78.83 L322.44,96.23 L333.4,87.77 Z" fill="url(#g128)" stroke="url(#g128)" stroke-width="0.5"/>
<path d="M347.94,78.83 L322.44,96.23 L333.4,87.77 L358.9,90.59 Z M347.94,78.83 L333.4,87.77" fill="none" stroke="#101828" stroke-opacity="0.85" stroke-width="0.65"/>
<path d="M336.98,67.07 L311.48,104.69 L322.44,96.23 L347.94,78.83 Z" fill="#98ce3c"/>
<path d="M336.98,67.07 L347.94,78.83 L322.44,96.23 Z" fill="url(#g129)" stroke="url(#g129)" stroke-width="0.5"/>
<path d="M336.98,67.07 L311.48,104.69 L322.44,96.23 Z" fill="url(#g130)" stroke="url(#g130)" stroke-width="0.5"/>
<path d="M336.98,67.07 L311.48,104.69 L322.44,96.23 L347.94,78.83 Z M336.98,67.07 L322.44,96.23" fill="none" stroke="#101828" stroke-opacity="0.85" stroke-width="0.65"/>
<path d="M326.02,80.59 L300.52,110.62 L311.48,104.69 L336.98,67.07 Z" fill="#92cc3d"/>
<path d="M326.02,80.59 L336.98,67.07 L311.48,104.69 Z" fill="url(#g131)" stroke="url(#g131)" stroke-width="0.5"/>
<path d="M326.02,80.59 L300.52,110.62 L311.48,104.69 Z" fill="url(#g132)" stroke="url(#g132)" stroke-width="0.5"/>
<path d="M326.02,80.59 L300.52,110.62 L311.48,104.69 L336.98,67.07 Z M326.02,80.59 L311.48,104.69" fill="none" stroke="#101828" stroke-opacity="0.85" stroke-width="0.65"/>
<path d="M315.06,94.1 L289.56,108.98 L300.52,110.62 L326.02,80.59 Z" fill="#77c144"/>
<path d="M315.06,94.1 L326.02,80.59 L300.52,110.62 Z" fill="url(#g133)" stroke="url(#g133)" stroke-width="0.5"/>
<path d="M315.06,94.1 L289.56,108.98 L300.52,110.62 Z" fill="url(#g134)" stroke="url(#g134)" stroke-width="0.5"/>
<path d="M315.06,94.1 L289.56,108.98 L300.52,110.62 L326.02,80.59 Z M315.06,94.1 L300.52,110.62" fill="none" stroke="#101828" stroke-opacity="0.85" stroke-width="0.65"/>
<path d="M304.1,108.88 L278.6,119.96 L289.56,108.98 L315.06,94.1 Z" fill="#4b957c"/>
<path d="M304.1,108.88 L315.06,94.1 L289.56,108.98 Z" fill="url(#g135)" stroke="url(#g135)" stroke-width="0.5"/>
<path d="M304.1,108.88 L278.6,119.96 L289.56,108.98 Z" fill="url(#g136)" stroke="url(#g136)" stroke-width="0.5"/>
<path d="M304.1,108.88 L278.6,119.96 L289.56,108.98 L315.06,94.1 Z M304.1,108.88 L289.56,108.98" fill="none" stroke="#101828" stroke-opacity="0.85" stroke-width="0.65"/>
<path d="M293.14,121.12 L267.64,130.95 L278.6,119.96 L304.1,108.88 Z" fill="#3e4eb0"/>
<path d="M293.14,121.12 L304.1,108.88 L278.6,119.96 Z" fill="url(#g137)" stroke="url(#g137)" stroke-width="0.5"/>
<path d="M293.14,121.12 L267.64,130.95 L278.6,119.96 Z" fill="url(#g138)" stroke="url(#g138)" stroke-width="0.5"/>
<path d="M293.14,121.12 L267.64,130.95 L278.6,119.96 L304.1,108.88 Z M293.14,121.12 L278.6,119.96" fill="none" stroke="#101828" stroke-opacity="0.78" stroke-width="0.65"/>
<path d="M282.18,137.17 L256.68,134.35 L267.64,130.95 L293.14,121.12 Z" fill="#3b46a8"/>
<path d="M282.18,137.17 L293.14,121.12 L267.64,130.95 Z" fill="url(#g139)" stroke="url(#g139)" stroke-width="0.5"/>
<path d="M282.18,137.17 L256.68,134.35 L267.64,130.95 Z" fill="url(#g140)" stroke="url(#g140)" stroke-width="0.5"/>
<path d="M282.18,137.17 L256.68,134.35 L267.64,130.95 L293.14,121.12 Z" fill="none" stroke="#101030" stroke-opacity="0.38" stroke-width="0.6"/>
<path d="M271.22,140.57 L245.72,132.7 L256.68,134.35 L282.18,137.17 Z" fill="#3842a1"/>
<path d="M271.22,140.57 L282.18,137.17 L256.68,134.35 Z" fill="url(#g141)" stroke="url(#g141)" stroke-width="0.5"/>
<path d="M271.22,140.57 L245.72,132.7 L256.68,134.35 Z" fill="url(#g142)" stroke="url(#g142)" stroke-width="0.5"/>
<path d="M271.22,140.57 L245.72,132.7 L256.68,134.35 L282.18,137.17 Z" fill="none" stroke="#101030" stroke-opacity="0.38" stroke-width="0.6"/>
<path d="M260.26,138.92 L234.76,136.11 L245.72,132.7 L271.22,140.57 Z" fill="#3c48aa"/>
<path d="M260.26,138.92 L271.22,140.57 L245.72,132.7 Z" fill="url(#g143)" stroke="url(#g143)" stroke-width="0.5"/>
<path d="M260.26,138.92 L234.76,136.11 L245.72,132.7 Z" fill="url(#g144)" stroke="url(#g144)" stroke-width="0.5"/>
<path d="M260.26,138.92 L234.76,136.11 L245.72,132.7 L271.22,140.57 Z" fill="none" stroke="#101030" stroke-opacity="0.38" stroke-width="0.6"/>
<path d="M249.3,134.74 L223.8,139.51 L234.76,136.11 L260.26,138.92 Z" fill="#3d4bad"/>
<path d="M249.3,134.74 L260.26,138.92 L234.76,136.11 Z" fill="url(#g145)" stroke="url(#g145)" stroke-width="0.5"/>
<path d="M249.3,134.74 L223.8,139.51 L234.76,136.11 Z" fill="url(#g146)" stroke="url(#g146)" stroke-width="0.5"/>
<path d="M249.3,134.74 L223.8,139.51 L234.76,136.11 L260.26,138.92 Z" fill="none" stroke="#101030" stroke-opacity="0.38" stroke-width="0.6"/>
<path d="M238.34,145.73 L212.84,142.92 L223.8,139.51 L249.3,134.74 Z" fill="#3d4bad"/>
<path d="M238.34,145.73 L249.3,134.74 L223.8,139.51 Z" fill="url(#g147)" stroke="url(#g147)" stroke-width="0.5"/>
<path d="M238.34,145.73 L212.84,142.92 L223.8,139.51 Z" fill="url(#g148)" stroke="url(#g148)" stroke-width="0.5"/>
<path d="M238.34,145.73 L212.84,142.92 L223.8,139.51 L249.3,134.74 Z" fill="none" stroke="#101030" stroke-opacity="0.38" stroke-width="0.6"/>
<path d="M227.38,142.82 L201.88,146.32 L212.84,142.92 L238.34,145.73 Z" fill="#3d4bad"/>
<path d="M227.38,142.82 L238.34,145.73 L212.84,142.92 Z" fill="url(#g149)" stroke="url(#g149)" stroke-width="0.5"/>
<path d="M227.38,142.82 L201.88,146.32 L212.84,142.92 Z" fill="url(#g150)" stroke="url(#g150)" stroke-width="0.5"/>
<path d="M227.38,142.82 L201.88,146.32 L212.84,142.92 L238.34,145.73 Z" fill="none" stroke="#101030" stroke-opacity="0.38" stroke-width="0.6"/>
<path d="M216.42,150.01 L190.92,147.2 L201.88,146.32 L227.38,142.82 Z" fill="#3e4cae"/>
<path d="M216.42,150.01 L227.38,142.82 L201.88,146.32 Z" fill="url(#g151)" stroke="url(#g151)" stroke-width="0.5"/>
<path d="M216.42,150.01 L190.92,147.2 L201.88,146.32 Z" fill="url(#g152)" stroke="url(#g152)" stroke-width="0.5"/>
<path d="M216.42,150.01 L190.92,147.2 L201.88,146.32 L227.38,142.82 Z" fill="none" stroke="#101030" stroke-opacity="0.38" stroke-width="0.6"/>
<path d="M205.46,153.42 L179.96,150.61 L190.92,147.2 L216.42,150.01 Z" fill="#3d4bad"/>
<path d="M205.46,153.42 L216.42,150.01 L190.92,147.2 Z" fill="url(#g153)" stroke="url(#g153)" stroke-width="0.5"/>
<path d="M205.46,153.42 L179.96,150.61 L190.92,147.2 Z" fill="url(#g154)" stroke="url(#g154)" stroke-width="0.5"/>
<path d="M205.46,153.42 L179.96,150.61 L190.92,147.2 L216.42,150.01 Z" fill="none" stroke="#101030" stroke-opacity="0.38" stroke-width="0.6"/>
<path d="M194.5,151.77 L169,151.48 L179.96,150.61 L205.46,153.42 Z" fill="#3e4daf"/>
<path d="M194.5,151.77 L205.46,153.42 L179.96,150.61 Z" fill="url(#g155)" stroke="url(#g155)" stroke-width="0.5"/>
<path d="M194.5,151.77 L169,151.48 L179.96,150.61 Z" fill="url(#g156)" stroke="url(#g156)" stroke-width="0.5"/>
<path d="M194.5,151.77 L169,151.48 L179.96,150.61 L205.46,153.42 Z" fill="none" stroke="#101030" stroke-opacity="0.38" stroke-width="0.6"/>
<path d="M183.54,150.12 L158.04,154.89 L169,151.48 L194.5,151.77 Z" fill="#3f50b2"/>
<path d="M183.54,150.12 L194.5,151.77 L169,151.48 Z" fill="url(#g157)" stroke="url(#g157)" stroke-width="0.5"/>
<path d="M183.54,150.12 L158.04,154.89 L169,151.48 Z" fill="url(#g158)" stroke="url(#g158)" stroke-width="0.5"/>
<path d="M183.54,150.12 L158.04,154.89 L169,151.48 L194.5,151.77 Z" fill="none" stroke="#101030" stroke-opacity="0.38" stroke-width="0.6"/>
<path d="M172.58,156.05 L147.08,155.77 L158.04,154.89 L183.54,150.12 Z" fill="#4051b3"/>
<path d="M172.58,156.05 L183.54,150.12 L158.04,154.89 Z" fill="url(#g159)" stroke="url(#g159)" stroke-width="0.5"/>
<path d="M172.58,156.05 L147.08,155.77 L158.04,154.89 Z" fill="url(#g160)" stroke="url(#g160)" stroke-width="0.5"/>
<path d="M172.58,156.05 L147.08,155.77 L158.04,154.89 L183.54,150.12 Z" fill="none" stroke="#101030" stroke-opacity="0.38" stroke-width="0.6"/>
<path d="M161.62,167.04 L136.12,159.17 L147.08,155.77 L172.58,156.05 Z" fill="#3f50b2"/>
<path d="M161.62,167.04 L172.58,156.05 L147.08,155.77 Z" fill="url(#g161)" stroke="url(#g161)" stroke-width="0.5"/>
<path d="M161.62,167.04 L136.12,159.17 L147.08,155.77 Z" fill="#3e4eb0" stroke="#3e4eb0" stroke-width="0.5"/>
<path d="M161.62,167.04 L136.12,159.17 L147.08,155.77 L172.58,156.05 Z" fill="none" stroke="#101030" stroke-opacity="0.38" stroke-width="0.6"/>
<path d="M150.66,172.97 L125.16,165.1 L136.12,159.17 L161.62,167.04 Z" fill="#3e4daf"/>
<path d="M150.66,172.97 L161.62,167.04 L136.12,159.17 Z" fill="url(#g162)" stroke="url(#g162)" stroke-width="0.5"/>
<path d="M150.66,172.97 L125.16,165.1 L136.12,159.17 Z" fill="url(#g163)" stroke="url(#g163)" stroke-width="0.5"/>
<path d="M150.66,172.97 L125.16,165.1 L136.12,159.17 L161.62,167.04 Z" fill="none" stroke="#101030" stroke-opacity="0.38" stroke-width="0.6"/>
<path d="M139.7,180.42 L114.2,173.56 L125.16,165.1 L150.66,172.97 Z" fill="#3d49ab"/>
<path d="M139.7,180.42 L150.66,172.97 L125.16,165.1 Z" fill="url(#g164)" stroke="url(#g164)" stroke-width="0.5"/>
<path d="M139.7,180.42 L114.2,173.56 L125.16,165.1 Z" fill="url(#g165)" stroke="url(#g165)" stroke-width="0.5"/>
<path d="M139.7,180.42 L114.2,173.56 L125.16,165.1 L150.66,172.97 Z" fill="none" stroke="#101030" stroke-opacity="0.38" stroke-width="0.6"/>
<path d="M384.4,93.4 L358.9,90.59 L369.86,96.53 L395.36,95.81 Z" fill="#70be46"/>
<path d="M384.4,93.4 L395.36,95.81 L369.86,96.53 Z" fill="url(#g166)" stroke="url(#g166)" stroke-width="0.5"/>
<path d="M384.4,93.4 L358.9,90.59 L369.86,96.53 Z" fill="url(#g167)" stroke="url(#g167)" stroke-width="0.5"/>
<path d="M384.4,93.4 L358.9,90.59 L369.86,96.53 L395.36,95.81 Z" fill="none" stroke="#101030" stroke-opacity="0.38" stroke-width="0.6"/>
<path d="M373.44,114.49 L347.94,78.83 L358.9,90.59 L384.4,93.4 Z" fill="#81c641"/>
<path d="M373.44,114.49 L384.4,93.4 L358.9,90.59 Z" fill="url(#g168)" stroke="url(#g168)" stroke-width="0.5"/>
<path d="M373.44,114.49 L347.94,78.83 L358.9,90.59 Z" fill="url(#g169)" stroke="url(#g169)" stroke-width="0.5"/>
<path d="M373.44,114.49 L347.94,78.83 L358.9,90.59 L384.4,93.4 Z M373.44,114.49 L358.9,90.59" fill="none" stroke="#101828" stroke-opacity="0.85" stroke-width="0.65"/>
<path d="M362.48,120.43 L336.98,67.07 L347.94,78.83 L373.44,114.49 Z" fill="#92cc3d"/>
<path d="M362.48,120.43 L373.44,114.49 L347.94,78.83 Z" fill="url(#g170)" stroke="url(#g170)" stroke-width="0.5"/>
<path d="M362.48,120.43 L336.98,67.07 L347.94,78.83 Z" fill="url(#g171)" stroke="url(#g171)" stroke-width="0.5"/>
<path d="M362.48,120.43 L336.98,67.07 L347.94,78.83 L373.44,114.49 Z M362.48,120.43 L347.94,78.83" fill="none" stroke="#101828" stroke-opacity="0.85" stroke-width="0.65"/>
<path d="M351.52,123.83 L326.02,80.59 L336.98,67.07 L362.48,120.43 Z" fill="#98ce3c"/>
<path d="M351.52,123.83 L362.48,120.43 L336.98,67.07 Z" fill="url(#g172)" stroke="url(#g172)" stroke-width="0.5"/>
<path d="M351.52,123.83 L326.02,80.59 L336.98,67.07 Z" fill="url(#g173)" stroke="url(#g173)" stroke-width="0.5"/>
<path d="M351.52,123.83 L326.02,80.59 L336.98,67.07 L362.48,120.43 Z M351.52,123.83 L336.98,67.07" fill="none" stroke="#101828" stroke-opacity="0.85" stroke-width="0.65"/>
<path d="M340.56,107.02 L315.06,94.1 L326.02,80.59 L351.52,123.83 Z" fill="#98ce3c"/>
<path d="M340.56,107.02 L351.52,123.83 L326.02,80.59 Z" fill="url(#g174)" stroke="url(#g174)" stroke-width="0.5"/>
<path d="M340.56,107.02 L315.06,94.1 L326.02,80.59 Z" fill="url(#g175)" stroke="url(#g175)" stroke-width="0.5"/>
<path d="M340.56,107.02 L315.06,94.1 L326.02,80.59 L351.52,123.83 Z M340.56,107.02 L326.02,80.59" fill="none" stroke="#101828" stroke-opacity="0.85" stroke-width="0.65"/>
<path d="M329.6,123.06 L304.1,108.88 L315.06,94.1 L340.56,107.02 Z" fill="#80c541"/>
<path d="M329.6,123.06 L340.56,107.02 L315.06,94.1 Z" fill="url(#g176)" stroke="url(#g176)" stroke-width="0.5"/>
<path d="M329.6,123.06 L304.1,108.88 L315.06,94.1 Z" fill="url(#g177)" stroke="url(#g177)" stroke-width="0.5"/>
<path d="M329.6,123.06 L304.1,108.88 L315.06,94.1 L340.56,107.02 Z" fill="none" stroke="#101030" stroke-opacity="0.38" stroke-width="0.6"/>
<path d="M318.64,131.52 L293.14,121.12 L304.1,108.88 L329.6,123.06 Z" fill="#40779e"/>
<path d="M318.64,131.52 L329.6,123.06 L304.1,108.88 Z" fill="url(#g178)" stroke="url(#g178)" stroke-width="0.5"/>
<path d="M318.64,131.52 L293.14,121.12 L304.1,108.88 Z" fill="url(#g179)" stroke="url(#g179)" stroke-width="0.5"/>
<path d="M318.64,131.52 L293.14,121.12 L304.1,108.88 L329.6,123.06 Z" fill="none" stroke="#101030" stroke-opacity="0.38" stroke-width="0.6"/>
<path d="M307.68,137.45 L282.18,137.17 L293.14,121.12 L318.64,131.52 Z" fill="#3e4eb0"/>
<path d="M307.68,137.45 L318.64,131.52 L293.14,121.12 Z" fill="url(#g180)" stroke="url(#g180)" stroke-width="0.5"/>
<path d="M307.68,137.45 L282.18,137.17 L293.14,121.12 Z" fill="url(#g181)" stroke="url(#g181)" stroke-width="0.5"/>
<path d="M307.68,137.45 L282.18,137.17 L293.14,121.12 L318.64,131.52 Z" fill="none" stroke="#101030" stroke-opacity="0.38" stroke-width="0.6"/>
<path d="M296.72,140.86 L271.22,140.57 L282.18,137.17 L307.68,137.45 Z" fill="#3d4aac"/>
<path d="M296.72,140.86 L307.68,137.45 L282.18,137.17 Z" fill="url(#g182)" stroke="url(#g182)" stroke-width="0.5"/>
<path d="M296.72,140.86 L271.22,140.57 L282.18,137.17 Z" fill="url(#g183)" stroke="url(#g183)" stroke-width="0.5"/>
<path d="M296.72,140.86 L271.22,140.57 L282.18,137.17 L307.68,137.45 Z" fill="none" stroke="#101030" stroke-opacity="0.38" stroke-width="0.6"/>
<path d="M285.76,136.68 L260.26,138.92 L271.22,140.57 L296.72,140.86 Z" fill="#3e4daf"/>
<path d="M285.76,136.68 L296.72,140.86 L271.22,140.57 Z" fill="url(#g184)" stroke="url(#g184)" stroke-width="0.5"/>
<path d="M285.76,136.68 L260.26,138.92 L271.22,140.57 Z" fill="url(#g185)" stroke="url(#g185)" stroke-width="0.5"/>
<path d="M285.76,136.68 L260.26,138.92 L271.22,140.57 L296.72,140.86 Z" fill="none" stroke="#101030" stroke-opacity="0.38" stroke-width="0.6"/>
<path d="M274.8,133.77 L249.3,134.74 L260.26,138.92 L285.76,136.68 Z" fill="#4066a8"/>
<path d="M274.8,133.77 L285.76,136.68 L260.26,138.92 Z" fill="url(#g186)" stroke="url(#g186)" stroke-width="0.5"/>
<path d="M274.8,133.77 L249.3,134.74 L260.26,138.92 Z" fill="url(#g187)" stroke="url(#g187)" stroke-width="0.5"/>
<path d="M274.8,133.77 L249.3,134.74 L260.26,138.92 L285.76,136.68 Z" fill="none" stroke="#101030" stroke-opacity="0.38" stroke-width="0.6"/>
<path d="M263.84,153.6 L238.34,145.73 L249.3,134.74 L274.8,133.77 Z" fill="#4051b3"/>
<path d="M263.84,153.6 L274.8,133.77 L249.3,134.74 Z" fill="url(#g188)" stroke="url(#g188)" stroke-width="0.5"/>
<path d="M263.84,153.6 L238.34,145.73 L249.3,134.74 Z" fill="url(#g189)" stroke="url(#g189)" stroke-width="0.5"/>
<path d="M263.84,153.6 L238.34,145.73 L249.3,134.74 L274.8,133.77 Z" fill="none" stroke="#101030" stroke-opacity="0.38" stroke-width="0.6"/>
<path d="M252.88,139.31 L227.38,142.82 L238.34,145.73 L263.84,153.6 Z" fill="#4051b3"/>
<path d="M252.88,139.31 L263.84,153.6 L238.34,145.73 Z" fill="url(#g190)" stroke="url(#g190)" stroke-width="0.5"/>
<path d="M252.88,139.31 L227.38,142.82 L238.34,145.73 Z" fill="url(#g191)" stroke="url(#g191)" stroke-width="0.5"/>
<path d="M252.88,139.31 L227.38,142.82 L238.34,145.73 L263.84,153.6 Z" fill="none" stroke="#101030" stroke-opacity="0.38" stroke-width="0.6"/>
<path d="M241.92,146.51 L216.42,150.01 L227.38,142.82 L252.88,139.31 Z" fill="#407b9c"/>
<path d="M241.92,146.51 L252.88,139.31 L227.38,142.82 Z" fill="url(#g192)" stroke="url(#g192)" stroke-width="0.5"/>
<path d="M241.92,146.51 L216.42,150.01 L227.38,142.82 Z" fill="url(#g193)" stroke="url(#g193)" stroke-width="0.5"/>
<path d="M241.92,146.51 L216.42,150.01 L227.38,142.82 L252.88,139.31 Z" fill="none" stroke="#101030" stroke-opacity="0.38" stroke-width="0.6"/>
<path d="M230.96,158.76 L205.46,153.42 L216.42,150.01 L241.92,146.51 Z" fill="#4051b3"/>
<path d="M230.96,158.76 L241.92,146.51 L216.42,150.01 Z" fill="url(#g194)" stroke="url(#g194)" stroke-width="0.5"/>
<path d="M230.96,158.76 L205.46,153.42 L216.42,150.01 Z" fill="url(#g195)" stroke="url(#g195)" stroke-width="0.5"/>
<path d="M230.96,158.76 L205.46,153.42 L216.42,150.01 L241.92,146.51 Z" fill="none" stroke="#101030" stroke-opacity="0.38" stroke-width="0.6"/>
<path d="M220,152.06 L194.5,151.77 L205.46,153.42 L230.96,158.76 Z" fill="#4059b0"/>
<path d="M220,152.06 L230.96,158.76 L205.46,153.42 Z" fill="url(#g196)" stroke="url(#g196)" stroke-width="0.5"/>
<path d="M220,152.06 L194.5,151.77 L205.46,153.42 Z" fill="url(#g197)" stroke="url(#g197)" stroke-width="0.5"/>
<path d="M220,152.06 L194.5,151.77 L205.46,153.42 L230.96,158.76 Z" fill="none" stroke="#101030" stroke-opacity="0.38" stroke-width="0.6"/>
<path d="M209.04,139.04 L183.54,150.12 L194.5,151.77 L220,152.06 Z" fill="#71bf45"/>
<path d="M209.04,139.04 L220,152.06 L194.5,151.77 Z" fill="url(#g198)" stroke="url(#g198)" stroke-width="0.5"/>
<path d="M209.04,139.04 L183.54,150.12 L194.5,151.77 Z" fill="url(#g199)" stroke="url(#g199)" stroke-width="0.5"/>
<path d="M209.04,139.04 L183.54,150.12 L194.5,151.77 L220,152.06 Z M209.04,139.04 L194.5,151.77" fill="none" stroke="#101828" stroke-opacity="0.85" stroke-width="0.65"/>
<path d="M198.08,163.92 L172.58,156.05 L183.54,150.12 L209.04,139.04 Z" fill="#6ebe46"/>
<path d="M172.58,156.05 L183.54,150.12 L209.04,139.04 Z" fill="url(#g200)" stroke="url(#g200)" stroke-width="0.5"/>
<path d="M198.08,163.92 L172.58,156.05 L209.04,139.04 Z" fill="url(#g201)" stroke="url(#g201)" stroke-width="0.5"/>
<path d="M198.08,163.92 L172.58,156.05 L183.54,150.12 L209.04,139.04 Z M172.58,156.05 L209.04,139.04" fill="none" stroke="#101828" stroke-opacity="0.85" stroke-width="0.65"/>
<path d="M187.12,167.33 L161.62,167.04 L172.58,156.05 L198.08,163.92 Z" fill="#4061ab"/>
<path d="M187.12,167.33 L198.08,163.92 L172.58,156.05 Z" fill="#407b9c" stroke="#407b9c" stroke-width="0.5"/>
<path d="M187.12,167.33 L161.62,167.04 L172.58,156.05 Z" fill="url(#g202)" stroke="url(#g202)" stroke-width="0.5"/>
<path d="M187.12,167.33 L161.62,167.04 L172.58,156.05 L198.08,163.92 Z" fill="none" stroke="#101030" stroke-opacity="0.38" stroke-width="0.6"/>
<path d="M176.16,180.84 L150.66,172.97 L161.62,167.04 L187.12,167.33 Z" fill="#3f4eb0"/>
<path d="M176.16,180.84 L187.12,167.33 L161.62,167.04 Z" fill="url(#g203)" stroke="url(#g203)" stroke-width="0.5"/>
<path d="M176.16,180.84 L150.66,172.97 L161.62,167.04 Z" fill="url(#g204)" stroke="url(#g204)" stroke-width="0.5"/>
<path d="M176.16,180.84 L150.66,172.97 L161.62,167.04 L187.12,167.33 Z" fill="none" stroke="#101030" stroke-opacity="0.38" stroke-width="0.6"/>
<path d="M165.2,188.54 L139.7,180.42 L150.66,172.97 L176.16,180.84 Z" fill="#3d4aac"/>
<path d="M165.2,188.54 L176.16,180.84 L150.66,172.97 Z" fill="url(#g205)" stroke="url(#g205)" stroke-width="0.5"/>
<path d="M165.2,188.54 L139.7,180.42 L150.66,172.97 Z" fill="url(#g206)" stroke="url(#g206)" stroke-width="0.5"/>
<path d="M165.2,188.54 L139.7,180.42 L150.66,172.97 L176.16,180.84 Z" fill="none" stroke="#101030" stroke-opacity="0.38" stroke-width="0.6"/>
<path d="M409.9,129.06 L384.4,93.4 L395.36,95.81 L420.86,101.65 Z" fill="#5db450"/>
<path d="M409.9,129.06 L420.86,101.65 L395.36,95.81 Z" fill="url(#g207)" stroke="url(#g207)" stroke-width="0.5"/>
<path d="M409.9,129.06 L384.4,93.4 L395.36,95.81 Z" fill="url(#g208)" stroke="url(#g208)" stroke-width="0.5"/>
<path d="M409.9,129.06 L384.4,93.4 L395.36,95.81 L420.86,101.65 Z M409.9,129.06 L395.36,95.81" fill="none" stroke="#101828" stroke-opacity="0.85" stroke-width="0.65"/>
<path d="M398.94,114.78 L373.44,114.49 L384.4,93.4 L409.9,129.06 Z" fill="#406aa6"/>
<path d="M398.94,114.78 L409.9,129.06 L384.4,93.4 Z" fill="url(#g209)" stroke="url(#g209)" stroke-width="0.5"/>
<path d="M398.94,114.78 L373.44,114.49 L384.4,93.4 Z" fill="url(#g210)" stroke="url(#g210)" stroke-width="0.5"/>
<path d="M398.94,114.78 L373.44,114.49 L384.4,93.4 L409.9,129.06 Z M398.94,114.78 L384.4,93.4" fill="none" stroke="#101828" stroke-opacity="0.85" stroke-width="0.65"/>
<path d="M387.98,117.17 L362.48,120.43 L373.44,114.49 L398.94,114.78 Z" fill="#4065a9"/>
<path d="M387.98,117.17 L398.94,114.78 L373.44,114.49 Z" fill="url(#g211)" stroke="url(#g211)" stroke-width="0.5"/>
<path d="M387.98,117.17 L362.48,120.43 L373.44,114.49 Z" fill="url(#g212)" stroke="url(#g212)" stroke-width="0.5"/>
<path d="M387.98,117.17 L362.48,120.43 L373.44,114.49 L398.94,114.78 Z" fill="none" stroke="#101030" stroke-opacity="0.38" stroke-width="0.6"/>
<path d="M377.02,119.57 L351.52,123.83 L362.48,120.43 L387.98,117.17 Z" fill="#4063aa"/>
<path d="M377.02,119.57 L387.98,117.17 L362.48,120.43 Z" fill="url(#g213)" stroke="url(#g213)" stroke-width="0.5"/>
<path d="M377.02,119.57 L351.52,123.83 L362.48,120.43 Z" fill="url(#g214)" stroke="url(#g214)" stroke-width="0.5"/>
<path d="M377.02,119.57 L351.52,123.83 L362.48,120.43 L387.98,117.17 Z" fill="none" stroke="#101030" stroke-opacity="0.38" stroke-width="0.6"/>
<path d="M366.06,130.05 L340.56,107.02 L351.52,123.83 L377.02,119.57 Z" fill="#4d9878"/>
<path d="M366.06,130.05 L377.02,119.57 L351.52,123.83 Z" fill="url(#g215)" stroke="url(#g215)" stroke-width="0.5"/>
<path d="M366.06,130.05 L340.56,107.02 L351.52,123.83 Z" fill="url(#g216)" stroke="url(#g216)" stroke-width="0.5"/>
<path d="M366.06,130.05 L340.56,107.02 L351.52,123.83 L377.02,119.57 Z M366.06,130.05 L351.52,123.83" fill="none" stroke="#101828" stroke-opacity="0.85" stroke-width="0.65"/>
<path d="M355.1,138.51 L329.6,123.06 L340.56,107.02 L366.06,130.05 Z" fill="#418495"/>
<path d="M355.1,138.51 L366.06,130.05 L340.56,107.02 Z" fill="url(#g217)" stroke="url(#g217)" stroke-width="0.5"/>
<path d="M355.1,138.51 L329.6,123.06 L340.56,107.02 Z" fill="url(#g218)" stroke="url(#g218)" stroke-width="0.5"/>
<path d="M355.1,138.51 L329.6,123.06 L340.56,107.02 L366.06,130.05 Z M355.1,138.51 L340.56,107.02" fill="none" stroke="#101828" stroke-opacity="0.85" stroke-width="0.65"/>
<path d="M344.14,144.44 L318.64,131.52 L329.6,123.06 L355.1,138.51 Z" fill="#3f50b2"/>
<path d="M344.14,144.44 L355.1,138.51 L329.6,123.06 Z" fill="url(#g219)" stroke="url(#g219)" stroke-width="0.5"/>
<path d="M344.14,144.44 L318.64,131.52 L329.6,123.06 Z" fill="url(#g220)" stroke="url(#g220)" stroke-width="0.5"/>
<path d="M344.14,144.44 L318.64,131.52 L329.6,123.06 L355.1,138.51 Z" fill="none" stroke="#101030" stroke-opacity="0.38" stroke-width="0.6"/>
<path d="M333.18,145.32 L307.68,137.45 L318.64,131.52 L344.14,144.44 Z" fill="#3e4eb0"/>
<path d="M333.18,145.32 L344.14,144.44 L318.64,131.52 Z" fill="url(#g221)" stroke="url(#g221)" stroke-width="0.5"/>
<path d="M333.18,145.32 L307.68,137.45 L318.64,131.52 Z" fill="url(#g222)" stroke="url(#g222)" stroke-width="0.5"/>
<path d="M333.18,145.32 L307.68,137.45 L318.64,131.52 L344.14,144.44 Z" fill="none" stroke="#101030" stroke-opacity="0.38" stroke-width="0.6"/>
<path d="M322.22,143.67 L296.72,140.86 L307.68,137.45 L333.18,145.32 Z" fill="#3f4fb1"/>
<path d="M322.22,143.67 L333.18,145.32 L307.68,137.45 Z" fill="url(#g223)" stroke="url(#g223)" stroke-width="0.5"/>
<path d="M322.22,143.67 L296.72,140.86 L307.68,137.45 Z" fill="url(#g224)" stroke="url(#g224)" stroke-width="0.5"/>
<path d="M322.22,143.67 L296.72,140.86 L307.68,137.45 L333.18,145.32 Z" fill="none" stroke="#101030" stroke-opacity="0.38" stroke-width="0.6"/>
<path d="M311.26,144.55 L285.76,136.68 L296.72,140.86 L322.22,143.67 Z" fill="#4059b0"/>
<path d="M311.26,144.55 L322.22,143.67 L296.72,140.86 Z" fill="url(#g225)" stroke="url(#g225)" stroke-width="0.5"/>
<path d="M311.26,144.55 L285.76,136.68 L296.72,140.86 Z" fill="url(#g226)" stroke="url(#g226)" stroke-width="0.5"/>
<path d="M311.26,144.55 L285.76,136.68 L296.72,140.86 L322.22,143.67 Z" fill="none" stroke="#101030" stroke-opacity="0.38" stroke-width="0.6"/>
<path d="M300.3,153.01 L274.8,133.77 L285.76,136.68 L311.26,144.55 Z" fill="#407f9a"/>
<path d="M300.3,153.01 L311.26,144.55 L285.76,136.68 Z" fill="url(#g227)" stroke="url(#g227)" stroke-width="0.5"/>
<path d="M300.3,153.01 L274.8,133.77 L285.76,136.68 Z" fill="url(#g228)" stroke="url(#g228)" stroke-width="0.5"/>
<path d="M300.3,153.01 L274.8,133.77 L285.76,136.68 L311.26,144.55 Z" fill="none" stroke="#101030" stroke-opacity="0.38" stroke-width="0.6"/>
<path d="M289.34,158.94 L263.84,153.6 L274.8,133.77 L300.3,153.01 Z" fill="#4051b3"/>
<path d="M289.34,158.94 L300.3,153.01 L274.8,133.77 Z" fill="url(#g229)" stroke="url(#g229)" stroke-width="0.5"/>
<path d="M289.34,158.94 L263.84,153.6 L274.8,133.77 Z" fill="url(#g230)" stroke="url(#g230)" stroke-width="0.5"/>
<path d="M289.34,158.94 L263.84,153.6 L274.8,133.77 L300.3,153.01 Z" fill="none" stroke="#101030" stroke-opacity="0.38" stroke-width="0.6"/>
<path d="M278.38,152.23 L252.88,139.31 L263.84,153.6 L289.34,158.94 Z" fill="#4061ab"/>
<path d="M278.38,152.23 L289.34,158.94 L263.84,153.6 Z" fill="url(#g231)" stroke="url(#g231)" stroke-width="0.5"/>
<path d="M278.38,152.23 L252.88,139.31 L263.84,153.6 Z" fill="url(#g232)" stroke="url(#g232)" stroke-width="0.5"/>
<path d="M278.38,152.23 L252.88,139.31 L263.84,153.6 L289.34,158.94 Z" fill="none" stroke="#101030" stroke-opacity="0.38" stroke-width="0.6"/>
<path d="M267.42,161.96 L241.92,146.51 L252.88,139.31 L278.38,152.23 Z" fill="#55a664"/>
<path d="M267.42,161.96 L278.38,152.23 L252.88,139.31 Z" fill="url(#g233)" stroke="url(#g233)" stroke-width="0.5"/>
<path d="M267.42,161.96 L241.92,146.51 L252.88,139.31 Z" fill="url(#g234)" stroke="url(#g234)" stroke-width="0.5"/>
<path d="M267.42,161.96 L241.92,146.51 L252.88,139.31 L278.38,152.23 Z" fill="none" stroke="#101030" stroke-opacity="0.38" stroke-width="0.6"/>
<path d="M256.46,165.36 L230.96,158.76 L241.92,146.51 L267.42,161.96 Z" fill="#405dae"/>
<path d="M256.46,165.36 L267.42,161.96 L241.92,146.51 Z" fill="url(#g235)" stroke="url(#g235)" stroke-width="0.5"/>
<path d="M256.46,165.36 L230.96,158.76 L241.92,146.51 Z" fill="url(#g236)" stroke="url(#g236)" stroke-width="0.5"/>
<path d="M256.46,165.36 L230.96,158.76 L241.92,146.51 L267.42,161.96 Z" fill="none" stroke="#101030" stroke-opacity="0.38" stroke-width="0.6"/>
<path d="M245.5,168.77 L220,152.06 L230.96,158.76 L256.46,165.36 Z" fill="#4061ab"/>
<path d="M245.5,168.77 L256.46,165.36 L230.96,158.76 Z" fill="#4051b3" stroke="#4051b3" stroke-width="0.5"/>
<path d="M245.5,168.77 L220,152.06 L230.96,158.76 Z" fill="url(#g237)" stroke="url(#g237)" stroke-width="0.5"/>
<path d="M245.5,168.77 L220,152.06 L230.96,158.76 L256.46,165.36 Z" fill="none" stroke="#101030" stroke-opacity="0.38" stroke-width="0.6"/>
<path d="M234.54,163.33 L209.04,139.04 L220,152.06 L245.5,168.77 Z" fill="#73c045"/>
<path d="M234.54,163.33 L245.5,168.77 L220,152.06 Z" fill="url(#g238)" stroke="url(#g238)" stroke-width="0.5"/>
<path d="M234.54,163.33 L209.04,139.04 L220,152.06 Z" fill="url(#g239)" stroke="url(#g239)" stroke-width="0.5"/>
<path d="M234.54,163.33 L209.04,139.04 L220,152.06 L245.5,168.77 Z M234.54,163.33 L220,152.06" fill="none" stroke="#101828" stroke-opacity="0.85" stroke-width="0.65"/>
<path d="M223.58,171.79 L198.08,163.92 L209.04,139.04 L234.54,163.33 Z" fill="#71bf45"/>
<path d="M223.58,171.79 L234.54,163.33 L209.04,139.04 Z" fill="url(#g240)" stroke="url(#g240)" stroke-width="0.5"/>
<path d="M223.58,171.79 L198.08,163.92 L209.04,139.04 Z" fill="url(#g241)" stroke="url(#g241)" stroke-width="0.5"/>
<path d="M223.58,171.79 L198.08,163.92 L209.04,139.04 L234.54,163.33 Z M223.58,171.79 L209.04,139.04" fill="none" stroke="#101828" stroke-opacity="0.85" stroke-width="0.65"/>
<path d="M212.62,166.35 L187.12,167.33 L198.08,163.92 L223.58,171.79 Z" fill="#52a06c"/>
<path d="M212.62,166.35 L223.58,171.79 L198.08,163.92 Z" fill="url(#g242)" stroke="url(#g242)" stroke-width="0.5"/>
<path d="M212.62,166.35 L187.12,167.33 L198.08,163.92 Z" fill="url(#g243)" stroke="url(#g243)" stroke-width="0.5"/>
<path d="M212.62,166.35 L187.12,167.33 L198.08,163.92 L223.58,171.79 Z" fill="none" stroke="#101030" stroke-opacity="0.38" stroke-width="0.6"/>
<path d="M201.66,181.12 L176.16,180.84 L187.12,167.33 L212.62,166.35 Z" fill="#406ea4"/>
<path d="M201.66,181.12 L212.62,166.35 L187.12,167.33 Z" fill="url(#g244)" stroke="url(#g244)" stroke-width="0.5"/>
<path d="M201.66,181.12 L176.16,180.84 L187.12,167.33 Z" fill="url(#g245)" stroke="url(#g245)" stroke-width="0.5"/>
<path d="M201.66,181.12 L176.16,180.84 L187.12,167.33 L212.62,166.35 Z M201.66,181.12 L187.12,167.33" fill="none" stroke="#101828" stroke-opacity="0.81" stroke-width="0.65"/>
<path d="M190.7,196.91 L165.2,188.54 L176.16,180.84 L201.66,181.12 Z" fill="#3d4bad"/>
<path d="M190.7,196.91 L201.66,181.12 L176.16,180.84 Z" fill="url(#g246)" stroke="url(#g246)" stroke-width="0.5"/>
<path d="M190.7,196.91 L165.2,188.54 L176.16,180.84 Z" fill="url(#g247)" stroke="url(#g247)" stroke-width="0.5"/>
<path d="M190.7,196.91 L165.2,188.54 L176.16,180.84 L201.66,181.12 Z" fill="none" stroke="#101030" stroke-opacity="0.38" stroke-width="0.6"/>
<path d="M435.4,126.82 L409.9,129.06 L420.86,101.65 L446.36,118.36 Z" fill="#4055b2"/>
<path d="M435.4,126.82 L446.36,118.36 L420.86,101.65 Z" fill="url(#g248)" stroke="url(#g248)" stroke-width="0.5"/>
<path d="M435.4,126.82 L409.9,129.06 L420.86,101.65 Z" fill="url(#g249)" stroke="url(#g249)" stroke-width="0.5"/>
<path d="M435.4,126.82 L409.9,129.06 L420.86,101.65 L446.36,118.36 Z M435.4,126.82 L420.86,101.65" fill="none" stroke="#101828" stroke-opacity="0.81" stroke-width="0.65"/>
<path d="M424.44,125.17 L398.94,114.78 L409.9,129.06 L435.4,126.82 Z" fill="#3f51b3"/>
<path d="M424.44,125.17 L435.4,126.82 L409.9,129.06 Z" fill="url(#g250)" stroke="url(#g250)" stroke-width="0.5"/>
<path d="M424.44,125.17 L398.94,114.78 L409.9,129.06 Z" fill="url(#g251)" stroke="url(#g251)" stroke-width="0.5"/>
<path d="M424.44,125.17 L398.94,114.78 L409.9,129.06 L435.4,126.82 Z" fill="none" stroke="#101030" stroke-opacity="0.38" stroke-width="0.6"/>
<path d="M413.48,133.63 L387.98,117.17 L398.94,114.78 L424.44,125.17 Z" fill="#407f9a"/>
<path d="M413.48,133.63 L424.44,125.17 L398.94,114.78 Z" fill="url(#g252)" stroke="url(#g252)" stroke-width="0.5"/>
<path d="M413.48,133.63 L387.98,117.17 L398.94,114.78 Z" fill="url(#g253)" stroke="url(#g253)" stroke-width="0.5"/>
<path d="M413.48,133.63 L387.98,117.17 L398.94,114.78 L424.44,125.17 Z" fill="none" stroke="#101030" stroke-opacity="0.38" stroke-width="0.6"/>
<path d="M402.52,139.56 L377.02,119.57 L387.98,117.17 L413.48,133.63 Z" fill="#406ca5"/>
<path d="M402.52,139.56 L413.48,133.63 L387.98,117.17 Z" fill="url(#g254)" stroke="url(#g254)" stroke-width="0.5"/>
<path d="M402.52,139.56 L377.02,119.57 L387.98,117.17 Z" fill="url(#g255)" stroke="url(#g255)" stroke-width="0.5"/>
<path d="M402.52,139.56 L377.02,119.57 L387.98,117.17 L413.48,133.63 Z" fill="none" stroke="#101030" stroke-opacity="0.38" stroke-width="0.6"/>
<path d="M391.56,141.71 L366.06,130.05 L377.02,119.57 L402.52,139.56 Z" fill="#4053b4"/>
<path d="M391.56,141.71 L402.52,139.56 L377.02,119.57 Z" fill="url(#g256)" stroke="url(#g256)" stroke-width="0.5"/>
<path d="M391.56,141.71 L366.06,130.05 L377.02,119.57 Z" fill="url(#g257)" stroke="url(#g257)" stroke-width="0.5"/>
<path d="M391.56,141.71 L366.06,130.05 L377.02,119.57 L402.52,139.56 Z" fill="none" stroke="#101030" stroke-opacity="0.38" stroke-width="0.6"/>
<path d="M380.6,145.11 L355.1,138.51 L366.06,130.05 L391.56,141.71 Z" fill="#3f50b2"/>
<path d="M380.6,145.11 L391.56,141.71 L366.06,130.05 Z" fill="url(#g258)" stroke="url(#g258)" stroke-width="0.5"/>
<path d="M380.6,145.11 L355.1,138.51 L366.06,130.05 Z" fill="url(#g259)" stroke="url(#g259)" stroke-width="0.5"/>
<path d="M380.6,145.11 L355.1,138.51 L366.06,130.05 L391.56,141.71 Z" fill="none" stroke="#101030" stroke-opacity="0.38" stroke-width="0.6"/>
<path d="M369.64,148.52 L344.14,144.44 L355.1,138.51 L380.6,145.11 Z" fill="#3e4eb0"/>
<path d="M369.64,148.52 L380.6,145.11 L355.1,138.51 Z" fill="#3f4fb1" stroke="#3f4fb1" stroke-width="0.5"/>
<path d="M369.64,148.52 L344.14,144.44 L355.1,138.51 Z" fill="url(#g260)" stroke="url(#g260)" stroke-width="0.5"/>
<path d="M369.64,148.52 L344.14,144.44 L355.1,138.51 L380.6,145.11 Z" fill="none" stroke="#101030" stroke-opacity="0.38" stroke-width="0.6"/>
<path d="M358.68,151.92 L333.18,145.32 L344.14,144.44 L369.64,148.52 Z" fill="#3e4eb0"/>
<path d="M358.68,151.92 L369.64,148.52 L344.14,144.44 Z" fill="url(#g261)" stroke="url(#g261)" stroke-width="0.5"/>
<path d="M358.68,151.92 L333.18,145.32 L344.14,144.44 Z" fill="url(#g262)" stroke="url(#g262)" stroke-width="0.5"/>
<path d="M358.68,151.92 L333.18,145.32 L344.14,144.44 L369.64,148.52 Z" fill="none" stroke="#101030" stroke-opacity="0.38" stroke-width="0.6"/>
<path d="M347.72,141.43 L322.22,143.67 L333.18,145.32 L358.68,151.92 Z" fill="#405dae"/>
<path d="M347.72,141.43 L358.68,151.92 L333.18,145.32 Z" fill="url(#g263)" stroke="url(#g263)" stroke-width="0.5"/>
<path d="M347.72,141.43 L322.22,143.67 L333.18,145.32 Z" fill="url(#g264)" stroke="url(#g264)" stroke-width="0.5"/>
<path d="M347.72,141.43 L322.22,143.67 L333.18,145.32 L358.68,151.92 Z" fill="none" stroke="#101030" stroke-opacity="0.38" stroke-width="0.6"/>
<path d="M336.76,117.04 L311.26,144.55 L322.22,143.67 L347.72,141.43 Z" fill="#85c740"/>
<path d="M336.76,117.04 L347.72,141.43 L322.22,143.67 Z" fill="url(#g265)" stroke="url(#g265)" stroke-width="0.5"/>
<path d="M336.76,117.04 L311.26,144.55 L322.22,143.67 Z" fill="url(#g266)" stroke="url(#g266)" stroke-width="0.5"/>
<path d="M336.76,117.04 L311.26,144.55 L322.22,143.67 L347.72,141.43 Z M336.76,117.04 L322.22,143.67" fill="none" stroke="#101828" stroke-opacity="0.85" stroke-width="0.65"/>
<path d="M325.8,153.29 L300.3,153.01 L311.26,144.55 L336.76,117.04 Z" fill="#7ac343"/>
<path d="M325.8,153.29 L336.76,117.04 L311.26,144.55 Z" fill="url(#g267)" stroke="url(#g267)" stroke-width="0.5"/>
<path d="M325.8,153.29 L300.3,153.01 L311.26,144.55 Z" fill="url(#g268)" stroke="url(#g268)" stroke-width="0.5"/>
<path d="M325.8,153.29 L300.3,153.01 L311.26,144.55 L336.76,117.04 Z M325.8,153.29 L311.26,144.55" fill="none" stroke="#101828" stroke-opacity="0.85" stroke-width="0.65"/>
<path d="M314.84,166.8 L289.34,158.94 L300.3,153.01 L325.8,153.29 Z" fill="#3f51b3"/>
<path d="M314.84,166.8 L325.8,153.29 L300.3,153.01 Z" fill="url(#g269)" stroke="url(#g269)" stroke-width="0.5"/>
<path d="M314.84,166.8 L289.34,158.94 L300.3,153.01 Z" fill="url(#g270)" stroke="url(#g270)" stroke-width="0.5"/>
<path d="M314.84,166.8 L289.34,158.94 L300.3,153.01 L325.8,153.29 Z" fill="none" stroke="#101030" stroke-opacity="0.38" stroke-width="0.6"/>
<path d="M303.88,170.21 L278.38,152.23 L289.34,158.94 L314.84,166.8 Z" fill="#3f50b2"/>
<path d="M303.88,170.21 L314.84,166.8 L289.34,158.94 Z" fill="#3e4eb0" stroke="#3e4eb0" stroke-width="0.5"/>
<path d="M303.88,170.21 L278.38,152.23 L289.34,158.94 Z" fill="url(#g271)" stroke="url(#g271)" stroke-width="0.5"/>
<path d="M303.88,170.21 L278.38,152.23 L289.34,158.94 L314.84,166.8 Z" fill="none" stroke="#101030" stroke-opacity="0.38" stroke-width="0.6"/>
<path d="M292.92,173.61 L267.42,161.96 L278.38,152.23 L303.88,170.21 Z" fill="#4051b3"/>
<path d="M292.92,173.61 L303.88,170.21 L278.38,152.23 Z" fill="url(#g272)" stroke="url(#g272)" stroke-width="0.5"/>
<path d="M292.92,173.61 L267.42,161.96 L278.38,152.23 Z" fill="url(#g273)" stroke="url(#g273)" stroke-width="0.5"/>
<path d="M292.92,173.61 L267.42,161.96 L278.38,152.23 L303.88,170.21 Z" fill="none" stroke="#101030" stroke-opacity="0.38" stroke-width="0.6"/>
<path d="M281.96,177.02 L256.46,165.36 L267.42,161.96 L292.92,173.61 Z" fill="#3f50b2"/>
<path d="M281.96,177.02 L292.92,173.61 L267.42,161.96 Z" fill="url(#g274)" stroke="url(#g274)" stroke-width="0.5"/>
<path d="M281.96,177.02 L256.46,165.36 L267.42,161.96 Z" fill="url(#g275)" stroke="url(#g275)" stroke-width="0.5"/>
<path d="M281.96,177.02 L256.46,165.36 L267.42,161.96 L292.92,173.61 Z" fill="none" stroke="#101030" stroke-opacity="0.38" stroke-width="0.6"/>
<path d="M271,180.42 L245.5,168.77 L256.46,165.36 L281.96,177.02 Z" fill="#3f50b2"/>
<path d="M271,180.42 L281.96,177.02 L256.46,165.36 Z" fill="url(#g276)" stroke="url(#g276)" stroke-width="0.5"/>
<path d="M271,180.42 L245.5,168.77 L256.46,165.36 Z" fill="url(#g277)" stroke="url(#g277)" stroke-width="0.5"/>
<path d="M271,180.42 L245.5,168.77 L256.46,165.36 L281.96,177.02 Z" fill="none" stroke="#101030" stroke-opacity="0.38" stroke-width="0.6"/>
<path d="M260.04,183.83 L234.54,163.33 L245.5,168.77 L271,180.42 Z" fill="#4052b4"/>
<path d="M260.04,183.83 L271,180.42 L245.5,168.77 Z" fill="url(#g278)" stroke="url(#g278)" stroke-width="0.5"/>
<path d="M260.04,183.83 L234.54,163.33 L245.5,168.77 Z" fill="url(#g279)" stroke="url(#g279)" stroke-width="0.5"/>
<path d="M260.04,183.83 L234.54,163.33 L245.5,168.77 L271,180.42 Z" fill="none" stroke="#101030" stroke-opacity="0.38" stroke-width="0.6"/>
<path d="M249.08,187.23 L223.58,171.79 L234.54,163.33 L260.04,183.83 Z" fill="#4059b0"/>
<path d="M249.08,187.23 L260.04,183.83 L234.54,163.33 Z" fill="url(#g280)" stroke="url(#g280)" stroke-width="0.5"/>
<path d="M249.08,187.23 L223.58,171.79 L234.54,163.33 Z" fill="url(#g281)" stroke="url(#g281)" stroke-width="0.5"/>
<path d="M249.08,187.23 L223.58,171.79 L234.54,163.33 L260.04,183.83 Z" fill="none" stroke="#101030" stroke-opacity="0.38" stroke-width="0.6"/>
<path d="M238.12,185.59 L212.62,166.35 L223.58,171.79 L249.08,187.23 Z" fill="#40779e"/>
<path d="M238.12,185.59 L249.08,187.23 L223.58,171.79 Z" fill="url(#g282)" stroke="url(#g282)" stroke-width="0.5"/>
<path d="M238.12,185.59 L212.62,166.35 L223.58,171.79 Z" fill="url(#g283)" stroke="url(#g283)" stroke-width="0.5"/>
<path d="M238.12,185.59 L212.62,166.35 L223.58,171.79 L249.08,187.23 Z" fill="none" stroke="#101030" stroke-opacity="0.38" stroke-width="0.6"/>
<path d="M227.16,201.63 L201.66,181.12 L212.62,166.35 L238.12,185.59 Z" fill="#4055b2"/>
<path d="M227.16,201.63 L238.12,185.59 L212.62,166.35 Z" fill="url(#g284)" stroke="url(#g284)" stroke-width="0.5"/>
<path d="M227.16,201.63 L201.66,181.12 L212.62,166.35 Z" fill="url(#g285)" stroke="url(#g285)" stroke-width="0.5"/>
<path d="M227.16,201.63 L201.66,181.12 L212.62,166.35 L238.12,185.59 Z M227.16,201.63 L212.62,166.35" fill="none" stroke="#101828" stroke-opacity="0.81" stroke-width="0.65"/>
<path d="M216.2,208.57 L190.7,196.91 L201.66,181.12 L227.16,201.63 Z" fill="#3c49ab"/>
<path d="M216.2,208.57 L227.16,201.63 L201.66,181.12 Z" fill="url(#g286)" stroke="url(#g286)" stroke-width="0.5"/>
<path d="M216.2,208.57 L190.7,196.91 L201.66,181.12 Z" fill="url(#g287)" stroke="url(#g287)" stroke-width="0.5"/>
<path d="M216.2,208.57 L190.7,196.91 L201.66,181.12 L227.16,201.63 Z" fill="none" stroke="#101030" stroke-opacity="0.38" stroke-width="0.6"/>
<path d="M460.9,144.8 L435.4,126.82 L446.36,118.36 L471.86,145.94 Z" fill="#3d4cae"/>
<path d="M460.9,144.8 L471.86,145.94 L446.36,118.36 Z" fill="url(#g288)" stroke="url(#g288)" stroke-width="0.5"/>
<path d="M460.9,144.8 L435.4,126.82 L446.36,118.36 Z" fill="url(#g289)" stroke="url(#g289)" stroke-width="0.5"/>
<path d="M460.9,144.8 L435.4,126.82 L446.36,118.36 L471.86,145.94 Z M460.9,144.8 L446.36,118.36" fill="none" stroke="#101828" stroke-opacity="0.71" stroke-width="0.65"/>
<path d="M449.94,145.68 L424.44,125.17 L435.4,126.82 L460.9,144.8 Z" fill="#3e4daf"/>
<path d="M449.94,145.68 L460.9,144.8 L435.4,126.82 Z" fill="url(#g290)" stroke="url(#g290)" stroke-width="0.5"/>
<path d="M449.94,145.68 L424.44,125.17 L435.4,126.82 Z" fill="url(#g291)" stroke="url(#g291)" stroke-width="0.5"/>
<path d="M449.94,145.68 L424.44,125.17 L435.4,126.82 L460.9,144.8 Z" fill="none" stroke="#101030" stroke-opacity="0.38" stroke-width="0.6"/>
<path d="M438.98,149.08 L413.48,133.63 L424.44,125.17 L449.94,145.68 Z" fill="#3e4eb0"/>
<path d="M438.98,149.08 L449.94,145.68 L424.44,125.17 Z" fill="url(#g292)" stroke="url(#g292)" stroke-width="0.5"/>
<path d="M438.98,149.08 L413.48,133.63 L424.44,125.17 Z" fill="url(#g293)" stroke="url(#g293)" stroke-width="0.5"/>
<path d="M438.98,149.08 L413.48,133.63 L424.44,125.17 L449.94,145.68 Z" fill="none" stroke="#101030" stroke-opacity="0.38" stroke-width="0.6"/>
<path d="M428.02,152.49 L402.52,139.56 L413.48,133.63 L438.98,149.08 Z" fill="#3e4cae"/>
<path d="M428.02,152.49 L438.98,149.08 L413.48,133.63 Z" fill="url(#g294)" stroke="url(#g294)" stroke-width="0.5"/>
<path d="M428.02,152.49 L402.52,139.56 L413.48,133.63 Z" fill="url(#g295)" stroke="url(#g295)" stroke-width="0.5"/>
<path d="M428.02,152.49 L402.52,139.56 L413.48,133.63 L438.98,149.08 Z" fill="none" stroke="#101030" stroke-opacity="0.38" stroke-width="0.6"/>
<path d="M417.06,155.89 L391.56,141.71 L402.52,139.56 L428.02,152.49 Z" fill="#3e4cae"/>
<path d="M417.06,155.89 L428.02,152.49 L402.52,139.56 Z" fill="url(#g296)" stroke="url(#g296)" stroke-width="0.5"/>
<path d="M417.06,155.89 L391.56,141.71 L402.52,139.56 Z" fill="url(#g297)" stroke="url(#g297)" stroke-width="0.5"/>
<path d="M417.06,155.89 L391.56,141.71 L402.52,139.56 L428.02,152.49 Z" fill="none" stroke="#101030" stroke-opacity="0.38" stroke-width="0.6"/>
<path d="M406.1,159.3 L380.6,145.11 L391.56,141.71 L417.06,155.89 Z" fill="#3e4cae"/>
<path d="M406.1,159.3 L417.06,155.89 L391.56,141.71 Z" fill="url(#g298)" stroke="url(#g298)" stroke-width="0.5"/>
<path d="M406.1,159.3 L380.6,145.11 L391.56,141.71 Z" fill="url(#g299)" stroke="url(#g299)" stroke-width="0.5"/>
<path d="M406.1,159.3 L380.6,145.11 L391.56,141.71 L417.06,155.89 Z" fill="none" stroke="#101030" stroke-opacity="0.38" stroke-width="0.6"/>
<path d="M395.14,162.7 L369.64,148.52 L380.6,145.11 L406.1,159.3 Z" fill="#3e4cae"/>
<path d="M395.14,162.7 L406.1,159.3 L380.6,145.11 Z" fill="url(#g300)" stroke="url(#g300)" stroke-width="0.5"/>
<path d="M395.14,162.7 L369.64,148.52 L380.6,145.11 Z" fill="url(#g301)" stroke="url(#g301)" stroke-width="0.5"/>
<path d="M395.14,162.7 L369.64,148.52 L380.6,145.11 L406.1,159.3 Z" fill="none" stroke="#101030" stroke-opacity="0.38" stroke-width="0.6"/>
<path d="M384.18,166.11 L358.68,151.92 L369.64,148.52 L395.14,162.7 Z" fill="#3e4cae"/>
<path d="M384.18,166.11 L395.14,162.7 L369.64,148.52 Z" fill="url(#g302)" stroke="url(#g302)" stroke-width="0.5"/>
<path d="M384.18,166.11 L358.68,151.92 L369.64,148.52 Z" fill="url(#g303)" stroke="url(#g303)" stroke-width="0.5"/>
<path d="M384.18,166.11 L358.68,151.92 L369.64,148.52 L395.14,162.7 Z" fill="none" stroke="#101030" stroke-opacity="0.38" stroke-width="0.6"/>
<path d="M373.22,161.93 L347.72,141.43 L358.68,151.92 L384.18,166.11 Z" fill="#4051b3"/>
<path d="M373.22,161.93 L384.18,166.11 L358.68,151.92 Z" fill="url(#g304)" stroke="url(#g304)" stroke-width="0.5"/>
<path d="M373.22,161.93 L347.72,141.43 L358.68,151.92 Z" fill="url(#g305)" stroke="url(#g305)" stroke-width="0.5"/>
<path d="M373.22,161.93 L347.72,141.43 L358.68,151.92 L384.18,166.11 Z M373.22,161.93 L358.68,151.92" fill="none" stroke="#101828" stroke-opacity="0.80" stroke-width="0.65"/>
<path d="M362.26,157.75 L336.76,117.04 L347.72,141.43 L373.22,161.93 Z" fill="#85c740"/>
<path d="M362.26,157.75 L373.22,161.93 L347.72,141.43 Z" fill="url(#g306)" stroke="url(#g306)" stroke-width="0.5"/>
<path d="M362.26,157.75 L336.76,117.04 L347.72,141.43 Z" fill="url(#g307)" stroke="url(#g307)" stroke-width="0.5"/>
<path d="M362.26,157.75 L336.76,117.04 L347.72,141.43 L373.22,161.93 Z M362.26,157.75 L347.72,141.43" fill="none" stroke="#101828" stroke-opacity="0.85" stroke-width="0.65"/>
<path d="M351.3,163.69 L325.8,153.29 L336.76,117.04 L362.26,157.75 Z" fill="#85c740"/>
<path d="M351.3,163.69 L362.26,157.75 L336.76,117.04 Z" fill="url(#g308)" stroke="url(#g308)" stroke-width="0.5"/>
<path d="M351.3,163.69 L325.8,153.29 L336.76,117.04 Z" fill="url(#g309)" stroke="url(#g309)" stroke-width="0.5"/>
<path d="M351.3,163.69 L325.8,153.29 L336.76,117.04 L362.26,157.75 Z M351.3,163.69 L336.76,117.04" fill="none" stroke="#101828" stroke-opacity="0.85" stroke-width="0.65"/>
<path d="M340.34,187.31 L314.84,166.8 L325.8,153.29 L351.3,163.69 Z" fill="#3f4fb1"/>
<path d="M340.34,187.31 L351.3,163.69 L325.8,153.29 Z" fill="url(#g310)" stroke="url(#g310)" stroke-width="0.5"/>
<path d="M340.34,187.31 L314.84,166.8 L325.8,153.29 Z" fill="url(#g311)" stroke="url(#g311)" stroke-width="0.5"/>
<path d="M340.34,187.31 L314.84,166.8 L325.8,153.29 L351.3,163.69 Z M340.34,187.31 L325.8,153.29" fill="none" stroke="#101828" stroke-opacity="0.74" stroke-width="0.65"/>
<path d="M329.38,190.71 L303.88,170.21 L314.84,166.8 L340.34,187.31 Z" fill="#3c48aa"/>
<path d="M329.38,190.71 L340.34,187.31 L314.84,166.8 Z" fill="url(#g312)" stroke="url(#g312)" stroke-width="0.5"/>
<path d="M329.38,190.71 L303.88,170.21 L314.84,166.8 Z" fill="url(#g313)" stroke="url(#g313)" stroke-width="0.5"/>
<path d="M329.38,190.71 L303.88,170.21 L314.84,166.8 L340.34,187.31 Z" fill="none" stroke="#101030" stroke-opacity="0.38" stroke-width="0.6"/>
<path d="M318.42,195.38 L292.92,173.61 L303.88,170.21 L329.38,190.71 Z" fill="#3c47a9"/>
<path d="M318.42,195.38 L329.38,190.71 L303.88,170.21 Z" fill="url(#g314)" stroke="url(#g314)" stroke-width="0.5"/>
<path d="M318.42,195.38 L292.92,173.61 L303.88,170.21 Z" fill="url(#g315)" stroke="url(#g315)" stroke-width="0.5"/>
<path d="M318.42,195.38 L292.92,173.61 L303.88,170.21 L329.38,190.71 Z" fill="none" stroke="#101030" stroke-opacity="0.38" stroke-width="0.6"/>
<path d="M307.46,200.05 L281.96,177.02 L292.92,173.61 L318.42,195.38 Z" fill="#3a46a7"/>
<path d="M307.46,200.05 L318.42,195.38 L292.92,173.61 Z" fill="url(#g316)" stroke="url(#g316)" stroke-width="0.5"/>
<path d="M307.46,200.05 L281.96,177.02 L292.92,173.61 Z" fill="url(#g317)" stroke="url(#g317)" stroke-width="0.5"/>
<path d="M307.46,200.05 L281.96,177.02 L292.92,173.61 L318.42,195.38 Z" fill="none" stroke="#101030" stroke-opacity="0.38" stroke-width="0.6"/>
<path d="M296.5,203.45 L271,180.42 L281.96,177.02 L307.46,200.05 Z" fill="#3a45a6"/>
<path d="M296.5,203.45 L307.46,200.05 L281.96,177.02 Z" fill="url(#g318)" stroke="url(#g318)" stroke-width="0.5"/>
<path d="M296.5,203.45 L271,180.42 L281.96,177.02 Z" fill="url(#g319)" stroke="url(#g319)" stroke-width="0.5"/>
<path d="M296.5,203.45 L271,180.42 L281.96,177.02 L307.46,200.05 Z" fill="none" stroke="#101030" stroke-opacity="0.38" stroke-width="0.6"/>
<path d="M285.54,206.86 L260.04,183.83 L271,180.42 L296.5,203.45 Z" fill="#3a45a6"/>
<path d="M285.54,206.86 L296.5,203.45 L271,180.42 Z" fill="url(#g320)" stroke="url(#g320)" stroke-width="0.5"/>
<path d="M285.54,206.86 L260.04,183.83 L271,180.42 Z" fill="url(#g321)" stroke="url(#g321)" stroke-width="0.5"/>
<path d="M285.54,206.86 L260.04,183.83 L271,180.42 L296.5,203.45 Z" fill="none" stroke="#101030" stroke-opacity="0.38" stroke-width="0.6"/>
<path d="M274.58,210.26 L249.08,187.23 L260.04,183.83 L285.54,206.86 Z" fill="#3a45a6"/>
<path d="M274.58,210.26 L285.54,206.86 L260.04,183.83 Z" fill="url(#g322)" stroke="url(#g322)" stroke-width="0.5"/>
<path d="M274.58,210.26 L249.08,187.23 L260.04,183.83 Z" fill="url(#g323)" stroke="url(#g323)" stroke-width="0.5"/>
<path d="M274.58,210.26 L249.08,187.23 L260.04,183.83 L285.54,206.86 Z" fill="none" stroke="#101030" stroke-opacity="0.38" stroke-width="0.6"/>
<path d="M263.62,214.93 L238.12,185.59 L249.08,187.23 L274.58,210.26 Z" fill="#3c47a9"/>
<path d="M263.62,214.93 L274.58,210.26 L249.08,187.23 Z" fill="url(#g324)" stroke="url(#g324)" stroke-width="0.5"/>
<path d="M263.62,214.93 L238.12,185.59 L249.08,187.23 Z" fill="url(#g325)" stroke="url(#g325)" stroke-width="0.5"/>
<path d="M263.62,214.93 L238.12,185.59 L249.08,187.23 L274.58,210.26 Z M263.62,214.93 L249.08,187.23" fill="none" stroke="#101828" stroke-opacity="0.68" stroke-width="0.65"/>
<path d="M252.66,219.6 L227.16,201.63 L238.12,185.59 L263.62,214.93 Z" fill="#3841a0"/>
<path d="M252.66,219.6 L263.62,214.93 L238.12,185.59 Z" fill="url(#g326)" stroke="url(#g326)" stroke-width="0.5"/>
<path d="M252.66,219.6 L227.16,201.63 L238.12,185.59 Z" fill="url(#g327)" stroke="url(#g327)" stroke-width="0.5"/>
<path d="M252.66,219.6 L227.16,201.63 L238.12,185.59 L263.62,214.93 Z M252.66,219.6 L238.12,185.59" fill="none" stroke="#101828" stroke-opacity="0.68" stroke-width="0.65"/>
<path d="M241.7,224.77 L216.2,208.57 L227.16,201.63 L252.66,219.6 Z" fill="#313690"/>
<path d="M241.7,224.77 L252.66,219.6 L227.16,201.63 Z" fill="url(#g328)" stroke="url(#g328)" stroke-width="0.5"/>
<path d="M241.7,224.77 L216.2,208.57 L227.16,201.63 Z" fill="url(#g329)" stroke="url(#g329)" stroke-width="0.5"/>
<path d="M241.7,224.77 L216.2,208.57 L227.16,201.63 L252.66,219.6 Z" fill="none" stroke="#101030" stroke-opacity="0.38" stroke-width="0.6"/>
<path d="M486.4,165.3 L460.9,144.8 L471.86,145.94 L497.36,161.9 Z" fill="#2f348c"/>
<path d="M486.4,165.3 L497.36,161.9 L471.86,145.94 Z" fill="url(#g330)" stroke="url(#g330)" stroke-width="0.5"/>
<path d="M486.4,165.3 L460.9,144.8 L471.86,145.94 Z" fill="url(#g331)" stroke="url(#g331)" stroke-width="0.5"/>
<path d="M486.4,165.3 L460.9,144.8 L471.86,145.94 L497.36,161.9 Z" fill="none" stroke="#101030" stroke-opacity="0.38" stroke-width="0.6"/>
<path d="M475.44,168.71 L449.94,145.68 L460.9,144.8 L486.4,165.3 Z" fill="#313792"/>
<path d="M475.44,168.71 L486.4,165.3 L460.9,144.8 Z" fill="url(#g332)" stroke="url(#g332)" stroke-width="0.5"/>
<path d="M475.44,168.71 L449.94,145.68 L460.9,144.8 Z" fill="url(#g333)" stroke="url(#g333)" stroke-width="0.5"/>
<path d="M475.44,168.71 L449.94,145.68 L460.9,144.8 L486.4,165.3 Z" fill="none" stroke="#101030" stroke-opacity="0.38" stroke-width="0.6"/>
<path d="M464.48,172.11 L438.98,149.08 L449.94,145.68 L475.44,168.71 Z" fill="#323894"/>
<path d="M464.48,172.11 L475.44,168.71 L449.94,145.68 Z" fill="url(#g334)" stroke="url(#g334)" stroke-width="0.5"/>
<path d="M464.48,172.11 L438.98,149.08 L449.94,145.68 Z" fill="url(#g335)" stroke="url(#g335)" stroke-width="0.5"/>
<path d="M464.48,172.11 L438.98,149.08 L449.94,145.68 L475.44,168.71 Z" fill="none" stroke="#101030" stroke-opacity="0.38" stroke-width="0.6"/>
<path d="M453.52,175.52 L428.02,152.49 L438.98,149.08 L464.48,172.11 Z" fill="#323894"/>
<path d="M453.52,175.52 L464.48,172.11 L438.98,149.08 Z" fill="url(#g336)" stroke="url(#g336)" stroke-width="0.5"/>
<path d="M453.52,175.52 L428.02,152.49 L438.98,149.08 Z" fill="url(#g337)" stroke="url(#g337)" stroke-width="0.5"/>
<path d="M453.52,175.52 L428.02,152.49 L438.98,149.08 L464.48,172.11 Z" fill="none" stroke="#101030" stroke-opacity="0.38" stroke-width="0.6"/>
<path d="M442.56,178.92 L417.06,155.89 L428.02,152.49 L453.52,175.52 Z" fill="#323894"/>
<path d="M442.56,178.92 L453.52,175.52 L428.02,152.49 Z" fill="url(#g338)" stroke="url(#g338)" stroke-width="0.5"/>
<path d="M442.56,178.92 L417.06,155.89 L428.02,152.49 Z" fill="url(#g339)" stroke="url(#g339)" stroke-width="0.5"/>
<path d="M442.56,178.92 L417.06,155.89 L428.02,152.49 L453.52,175.52 Z" fill="none" stroke="#101030" stroke-opacity="0.38" stroke-width="0.6"/>
<path d="M431.6,182.33 L406.1,159.3 L417.06,155.89 L442.56,178.92 Z" fill="#323894"/>
<path d="M431.6,182.33 L442.56,178.92 L417.06,155.89 Z" fill="url(#g340)" stroke="url(#g340)" stroke-width="0.5"/>
<path d="M431.6,182.33 L406.1,159.3 L417.06,155.89 Z" fill="url(#g341)" stroke="url(#g341)" stroke-width="0.5"/>
<path d="M431.6,182.33 L406.1,159.3 L417.06,155.89 L442.56,178.92 Z" fill="none" stroke="#101030" stroke-opacity="0.38" stroke-width="0.6"/>
<path d="M420.64,185.73 L395.14,162.7 L406.1,159.3 L431.6,182.33 Z" fill="#323894"/>
<path d="M420.64,185.73 L431.6,182.33 L406.1,159.3 Z" fill="url(#g342)" stroke="url(#g342)" stroke-width="0.5"/>
<path d="M420.64,185.73 L395.14,162.7 L406.1,159.3 Z" fill="url(#g343)" stroke="url(#g343)" stroke-width="0.5"/>
<path d="M420.64,185.73 L395.14,162.7 L406.1,159.3 L431.6,182.33 Z" fill="none" stroke="#101030" stroke-opacity="0.38" stroke-width="0.6"/>
<path d="M409.68,189.13 L384.18,166.11 L395.14,162.7 L420.64,185.73 Z" fill="#323894"/>
<path d="M409.68,189.13 L420.64,185.73 L395.14,162.7 Z" fill="url(#g344)" stroke="url(#g344)" stroke-width="0.5"/>
<path d="M409.68,189.13 L384.18,166.11 L395.14,162.7 Z" fill="url(#g345)" stroke="url(#g345)" stroke-width="0.5"/>
<path d="M409.68,189.13 L384.18,166.11 L395.14,162.7 L420.64,185.73 Z" fill="none" stroke="#101030" stroke-opacity="0.38" stroke-width="0.6"/>
<path d="M398.72,192.54 L373.22,161.93 L384.18,166.11 L409.68,189.13 Z" fill="#353d9b"/>
<path d="M398.72,192.54 L409.68,189.13 L384.18,166.11 Z" fill="url(#g346)" stroke="url(#g346)" stroke-width="0.5"/>
<path d="M398.72,192.54 L373.22,161.93 L384.18,166.11 Z" fill="url(#g347)" stroke="url(#g347)" stroke-width="0.5"/>
<path d="M398.72,192.54 L373.22,161.93 L384.18,166.11 L409.68,189.13 Z M398.72,192.54 L384.18,166.11" fill="none" stroke="#101828" stroke-opacity="0.65" stroke-width="0.65"/>
<path d="M387.76,195.94 L362.26,157.75 L373.22,161.93 L398.72,192.54 Z" fill="#3b46a8"/>
<path d="M387.76,195.94 L398.72,192.54 L373.22,161.93 Z" fill="url(#g348)" stroke="url(#g348)" stroke-width="0.5"/>
<path d="M387.76,195.94 L362.26,157.75 L373.22,161.93 Z" fill="url(#g349)" stroke="url(#g349)" stroke-width="0.5"/>
<path d="M387.76,195.94 L362.26,157.75 L373.22,161.93 L398.72,192.54 Z M387.76,195.94 L373.22,161.93" fill="none" stroke="#101828" stroke-opacity="0.74" stroke-width="0.65"/>
<path d="M376.8,199.35 L351.3,163.69 L362.26,157.75 L387.76,195.94 Z" fill="#3c49ab"/>
<path d="M376.8,199.35 L387.76,195.94 L362.26,157.75 Z" fill="url(#g350)" stroke="url(#g350)" stroke-width="0.5"/>
<path d="M376.8,199.35 L351.3,163.69 L362.26,157.75 Z" fill="url(#g351)" stroke="url(#g351)" stroke-width="0.5"/>
<path d="M376.8,199.35 L351.3,163.69 L362.26,157.75 L387.76,195.94 Z M376.8,199.35 L362.26,157.75" fill="none" stroke="#101828" stroke-opacity="0.74" stroke-width="0.65"/>
<path d="M365.84,202.75 L340.34,187.31 L351.3,163.69 L376.8,199.35 Z" fill="#343b98"/>
<path d="M365.84,202.75 L376.8,199.35 L351.3,163.69 Z" fill="url(#g352)" stroke="url(#g352)" stroke-width="0.5"/>
<path d="M365.84,202.75 L340.34,187.31 L351.3,163.69 Z" fill="url(#g353)" stroke="url(#g353)" stroke-width="0.5"/>
<path d="M365.84,202.75 L340.34,187.31 L351.3,163.69 L376.8,199.35 Z M365.84,202.75 L351.3,163.69" fill="none" stroke="#101828" stroke-opacity="0.71" stroke-width="0.65"/>
<path d="M354.88,206.16 L329.38,190.71 L340.34,187.31 L365.84,202.75 Z" fill="#2e3188"/>
<path d="M354.88,206.16 L365.84,202.75 L340.34,187.31 Z" fill="url(#g354)" stroke="url(#g354)" stroke-width="0.5"/>
<path d="M354.88,206.16 L329.38,190.71 L340.34,187.31 Z" fill="url(#g355)" stroke="url(#g355)" stroke-width="0.5"/>
<path d="M354.88,206.16 L329.38,190.71 L340.34,187.31 L365.84,202.75 Z" fill="none" stroke="#101030" stroke-opacity="0.38" stroke-width="0.6"/>
<path d="M343.92,209.56 L318.42,195.38 L329.38,190.71 L354.88,206.16 Z" fill="#2e3087"/>
<path d="M343.92,209.56 L354.88,206.16 L329.38,190.71 Z" fill="url(#g356)" stroke="url(#g356)" stroke-width="0.5"/>
<path d="M343.92,209.56 L318.42,195.38 L329.38,190.71 Z" fill="url(#g357)" stroke="url(#g357)" stroke-width="0.5"/>
<path d="M343.92,209.56 L318.42,195.38 L329.38,190.71 L354.88,206.16 Z" fill="none" stroke="#101030" stroke-opacity="0.38" stroke-width="0.6"/>
<path d="M332.96,212.97 L307.46,200.05 L318.42,195.38 L343.92,209.56 Z" fill="#2d2f85"/>
<path d="M332.96,212.97 L343.92,209.56 L318.42,195.38 Z" fill="url(#g358)" stroke="url(#g358)" stroke-width="0.5"/>
<path d="M332.96,212.97 L307.46,200.05 L318.42,195.38 Z" fill="url(#g359)" stroke="url(#g359)" stroke-width="0.5"/>
<path d="M332.96,212.97 L307.46,200.05 L318.42,195.38 L343.92,209.56 Z" fill="none" stroke="#101030" stroke-opacity="0.38" stroke-width="0.6"/>
<path d="M322,216.38 L296.5,203.45 L307.46,200.05 L332.96,212.97 Z" fill="#2d2f84"/>
<path d="M322,216.38 L332.96,212.97 L307.46,200.05 Z" fill="url(#g360)" stroke="url(#g360)" stroke-width="0.5"/>
<path d="M322,216.38 L296.5,203.45 L307.46,200.05 Z" fill="url(#g361)" stroke="url(#g361)" stroke-width="0.5"/>
<path d="M322,216.38 L296.5,203.45 L307.46,200.05 L332.96,212.97 Z" fill="none" stroke="#101030" stroke-opacity="0.38" stroke-width="0.6"/>
<path d="M311.04,219.78 L285.54,206.86 L296.5,203.45 L322,216.38 Z" fill="#2d2f84"/>
<path d="M311.04,219.78 L322,216.38 L296.5,203.45 Z" fill="url(#g362)" stroke="url(#g362)" stroke-width="0.5"/>
<path d="M311.04,219.78 L285.54,206.86 L296.5,203.45 Z" fill="url(#g363)" stroke="url(#g363)" stroke-width="0.5"/>
<path d="M311.04,219.78 L285.54,206.86 L296.5,203.45 L322,216.38 Z" fill="none" stroke="#101030" stroke-opacity="0.38" stroke-width="0.6"/>
<path d="M300.08,223.19 L274.58,210.26 L285.54,206.86 L311.04,219.78 Z" fill="#2d2f84"/>
<path d="M300.08,223.19 L311.04,219.78 L285.54,206.86 Z" fill="url(#g364)" stroke="url(#g364)" stroke-width="0.5"/>
<path d="M300.08,223.19 L274.58,210.26 L285.54,206.86 Z" fill="url(#g365)" stroke="url(#g365)" stroke-width="0.5"/>
<path d="M300.08,223.19 L274.58,210.26 L285.54,206.86 L311.04,219.78 Z" fill="none" stroke="#101030" stroke-opacity="0.38" stroke-width="0.6"/>
<path d="M289.12,226.59 L263.62,214.93 L274.58,210.26 L300.08,223.19 Z" fill="#2c2e83"/>
<path d="M289.12,226.59 L300.08,223.19 L274.58,210.26 Z" fill="url(#g366)" stroke="url(#g366)" stroke-width="0.5"/>
<path d="M289.12,226.59 L263.62,214.93 L274.58,210.26 Z" fill="url(#g367)" stroke="url(#g367)" stroke-width="0.5"/>
<path d="M289.12,226.59 L263.62,214.93 L274.58,210.26 L300.08,223.19 Z" fill="none" stroke="#101030" stroke-opacity="0.38" stroke-width="0.6"/>
<path d="M278.16,230 L252.66,219.6 L263.62,214.93 L289.12,226.59 Z" fill="#2c2d81"/>
<path d="M278.16,230 L289.12,226.59 L263.62,214.93 Z" fill="url(#g368)" stroke="url(#g368)" stroke-width="0.5"/>
<path d="M278.16,230 L252.66,219.6 L263.62,214.93 Z" fill="url(#g369)" stroke="url(#g369)" stroke-width="0.5"/>
<path d="M278.16,230 L252.66,219.6 L263.62,214.93 L289.12,226.59 Z" fill="none" stroke="#101030" stroke-opacity="0.38" stroke-width="0.6"/>
<path d="M267.2,233.4 L241.7,224.77 L252.66,219.6 L278.16,230 Z" fill="#2b2c7f"/>
<path d="M267.2,233.4 L278.16,230 L252.66,219.6 Z" fill="url(#g370)" stroke="url(#g370)" stroke-width="0.5"/>
<path d="M267.2,233.4 L241.7,224.77 L252.66,219.6 Z" fill="url(#g371)" stroke="url(#g371)" stroke-width="0.5"/>
<path d="M267.2,233.4 L241.7,224.77 L252.66,219.6 L278.16,230 Z" fill="none" stroke="#101030" stroke-opacity="0.38" stroke-width="0.6"/></g>
<g><rect x="47.2" y="88.4" width="15.6" height="5.2" fill="#2c2d80" stroke="#111" stroke-width="0.85"/>
<text x="66" y="94" font-size="7.2" letter-spacing="0.25" stroke="#000" stroke-width="0.15">0</text>
<rect x="47.2" y="96.35" width="15.6" height="5.2" fill="#3a48a2" stroke="#111" stroke-width="0.85"/>
<text x="66" y="101.95" font-size="7.2" letter-spacing="0.25" stroke="#000" stroke-width="0.15">5</text>
<rect x="47.2" y="104.3" width="15.6" height="5.2" fill="#3a50aa" stroke="#111" stroke-width="0.85"/>
<text x="66" y="109.9" font-size="7.2" letter-spacing="0.25" stroke="#000" stroke-width="0.15">10</text>
<rect x="47.2" y="112.25" width="15.6" height="5.2" fill="#6cb44e" stroke="#111" stroke-width="0.85"/>
<text x="66" y="117.85" font-size="7.2" letter-spacing="0.25" stroke="#000" stroke-width="0.15">15</text>
<rect x="47.2" y="120.2" width="15.6" height="5.2" fill="#d2e24a" stroke="#111" stroke-width="0.85"/>
<text x="66" y="125.8" font-size="7.2" letter-spacing="0.25" stroke="#000" stroke-width="0.15">20</text>
<rect x="47.2" y="128.15" width="15.6" height="5.2" fill="#f2be3c" stroke="#111" stroke-width="0.85"/>
<text x="66" y="133.75" font-size="7.2" letter-spacing="0.25" stroke="#000" stroke-width="0.15">25</text>
<rect x="47.2" y="136.1" width="15.6" height="5.2" fill="#e2683a" stroke="#111" stroke-width="0.85"/>
<text x="66" y="141.7" font-size="7.2" letter-spacing="0.25" stroke="#000" stroke-width="0.15">30</text></g>
<g><text x="2" y="14" font-size="17.2" font-weight="bold" stroke="#000" stroke-width="0.3">A</text>
<text transform="translate(13.2,194.4) rotate(-90)" font-size="13.6" font-weight="bold" letter-spacing="2.05" stroke="#000" stroke-width="0.35">Perturbation (%)</text>
<text x="32.6" y="167.7" font-size="8.4" font-weight="bold" text-anchor="end" letter-spacing="0.9">0</text>
<text x="32.6" y="155.2" font-size="8.4" font-weight="bold" text-anchor="end" letter-spacing="0.9">5</text>
<text x="32.6" y="142.7" font-size="8.4" font-weight="bold" text-anchor="end" letter-spacing="0.9">10</text>
<text x="32.6" y="130.2" font-size="8.4" font-weight="bold" text-anchor="end" letter-spacing="0.9">15</text>
<text x="32.6" y="117.7" font-size="8.4" font-weight="bold" text-anchor="end" letter-spacing="0.9">20</text>
<text x="32.6" y="105.2" font-size="8.4" font-weight="bold" text-anchor="end" letter-spacing="0.9">25</text>
<text x="32.6" y="92.7" font-size="8.4" font-weight="bold" text-anchor="end" letter-spacing="0.9">30</text>
<text x="261.2" y="254.19" font-size="9" fill="#c8402e" font-weight="bold" text-anchor="end">1</text>
<text x="235.7" y="246.33" font-size="9" fill="#c8402e" font-weight="bold" text-anchor="end">2</text>
<text x="210.2" y="238.46" font-size="9" fill="#c8402e" font-weight="bold" text-anchor="end">3</text>
<text x="184.7" y="230.59" font-size="9" fill="#c8402e" font-weight="bold" text-anchor="end">4</text>
<text x="159.2" y="222.72" font-size="9" fill="#c8402e" font-weight="bold" text-anchor="end">5</text>
<text x="133.7" y="214.86" font-size="9" fill="#c8402e" font-weight="bold" text-anchor="end">6</text>
<text x="108.2" y="206.99" font-size="9" fill="#c8402e" font-weight="bold" text-anchor="end">7</text>
<text x="82.7" y="199.12" font-size="9" fill="#c8402e" font-weight="bold" text-anchor="end">8</text>
<text x="57.2" y="191.26" font-size="9" fill="#c8402e" font-weight="bold" text-anchor="end">9</text>
<text x="31.7" y="183.39" font-size="9" fill="#c8402e" font-weight="bold" text-anchor="end">10</text>
<text x="284.36" y="253.19" font-size="9.2" fill="#3a4a96" font-weight="bold" letter-spacing="0.5">2</text>
<text x="306.28" y="246.38" font-size="9.2" fill="#3a4a96" font-weight="bold" letter-spacing="0.5">4</text>
<text x="328.2" y="239.57" font-size="9.2" fill="#3a4a96" font-weight="bold" letter-spacing="0.5">6</text>
<text x="350.12" y="232.76" font-size="9.2" fill="#3a4a96" font-weight="bold" letter-spacing="0.5">8</text>
<text x="372.04" y="225.95" font-size="9.2" fill="#3a4a96" font-weight="bold" letter-spacing="0.5">10</text>
<text x="393.96" y="219.14" font-size="9.2" fill="#3a4a96" font-weight="bold" letter-spacing="0.5">12</text>
<text x="415.88" y="212.33" font-size="9.2" fill="#3a4a96" font-weight="bold" letter-spacing="0.5">14</text>
<text x="437.8" y="205.52" font-size="9.2" fill="#3a4a96" font-weight="bold" letter-spacing="0.5">16</text>
<text x="459.72" y="198.71" font-size="9.2" fill="#3a4a96" font-weight="bold" letter-spacing="0.5">18</text>
<text x="481.64" y="191.9" font-size="9.2" fill="#3a4a96" font-weight="bold" letter-spacing="0.5">20</text>
<text x="503.56" y="185.09" font-size="9.2" fill="#3a4a96" font-weight="bold" letter-spacing="0.5">22</text>
<text transform="translate(89.5,221.5) rotate(16.8)" font-size="16.3" font-weight="bold" fill="#c8402e" stroke="#c8402e" stroke-width="0.35">CDR3 size</text>
<text transform="translate(345.1,256.6) rotate(-16.8)" font-size="16.9" font-weight="bold" fill="#34469a" stroke="#34469a" stroke-width="0.15">TCR V&#946; families</text></g>
<g><path d="M61.2,374.08 L61.55,373.66 L61.9,372.48 L62.26,370.2 L62.61,367.48 L62.96,366.02 L63.31,366.99 L63.67,369.6 L64.02,372.08 L64.37,373.49 L64.72,374.03 L65.08,374.17 L65.43,374.2 L65.78,374.17 L66.13,374.03 L66.49,373.42 L66.84,371.53 L67.19,367.61 L67.54,362.43 L67.9,358.97 L68.25,359.93 L68.6,364.53 L68.95,369.45 L69.3,372.51 L69.66,373.77 L70.01,374.12 L70.36,374.19 L70.71,374.2 L71.07,374.19 L71.42,374.11 L71.77,373.7 L72.12,372.14 L72.48,368.01 L72.83,360.74 L73.18,353 L73.53,350.03 L73.89,354.26 L74.24,362.29 L74.59,369.05 L74.94,372.59 L75.3,371.38 L75.65,365.1 L76,352.93 L76.35,338.22 L76.7,330.12 L77.06,335.1 L77.41,349.1 L77.76,340.11 L78.11,338.12 L78.47,346.55 L78.82,358.86 L79.17,368.04 L79.52,372.41 L79.88,373.82 L80.23,373.25 L80.58,370.95 L80.93,366.14 L81.29,359.69 L81.64,355.31 L81.99,356.39 L82.34,362.05 L82.7,368.19 L83.05,372.05 L83.4,373.64 L83.75,373.82 L84.1,372.57 L84.46,369.23 L84.81,363.2 L85.16,356.58 L85.51,353.76 L85.87,357.03 L86.22,363.76 L86.57,369.61 L86.92,372.74 L87.28,373.86 L87.63,374.02 L87.98,373.53 L88.33,372.37 L88.69,370.6 L89.04,369.06 L89.39,368.89 L89.74,370.23 L90.1,372.05 L90.45,373.36 L90.8,373.96 L91.15,374.15 L91.5,374 L91.86,373.52 L92.21,372.56 L92.56,371.32 L92.91,370.54 L93.27,370.83 L93.62,371.95 L93.97,373.12 L94.32,373.82 L94.68,374.1 L95.03,374.18 L95.38,374.2 L95.73,374.2 L96.09,374.2 L96.44,374.2 L96.79,374.2 L97.14,374.2 L97.5,374.2 L97.85,374.2 L98.2,374.2" fill="none" stroke="#a8a8de" stroke-width="0.68"/>
<rect x="60" y="308.9" width="39.4" height="68.5" fill="none" stroke="#838383" stroke-width="1.05"/>
<path d="M103,374.2 L103.35,374.2 L103.7,374.2 L104.06,374.2 L104.41,374.2 L104.76,374.2 L105.11,374.2 L105.47,374.2 L105.82,374.2 L106.17,374.2 L106.52,374.2 L106.88,374.2 L107.23,374.2 L107.58,374.2 L107.93,374.2 L108.29,374.2 L108.64,374.2 L108.99,374.2 L109.34,374.2 L109.7,374.2 L110.05,374.2 L110.4,374.2 L110.75,374.2 L111.1,374.19 L111.46,374.13 L111.81,373.79 L112.16,372.57 L112.51,369.48 L112.87,364.29 L113.22,359.13 L113.57,357.61 L113.92,360.98 L114.28,366.57 L114.63,371.01 L114.98,373.24 L115.33,373.99 L115.69,374.17 L116.04,374.02 L116.39,373.3 L116.74,370.85 L117.1,365.17 L117.45,356.58 L117.8,349.33 L118.15,348.78 L118.5,355.39 L118.86,364.12 L119.21,370.29 L119.56,373.1 L119.91,373.98 L120.27,374.14 L120.62,373.81 L120.97,372.32 L121.32,367.72 L121.68,357.99 L122.03,344.84 L122.38,335.72 L122.73,337.68 L123.09,349.11 L123.44,361.72 L123.79,369.71 L124.14,373.03 L124.5,373.98 L124.85,374.17 L125.2,374.11 L125.55,373.72 L125.9,372.26 L126.26,368.53 L126.61,362.21 L126.96,355.84 L127.31,353.86 L127.67,357.88 L128.02,364.72 L128.37,370.22 L128.72,372.99 L129.08,373.93 L129.43,374.16 L129.78,374.19 L130.13,374.15 L130.49,373.88 L130.84,372.84 L131.19,369.97 L131.54,364.7 L131.9,358.75 L132.25,356 L132.6,358.68 L132.95,364.62 L133.3,369.92 L133.66,372.81 L134.01,373.88 L134.36,374.14 L134.71,374.19 L135.07,374.2 L135.42,374.2 L135.77,374.2 L136.12,374.2 L136.48,374.2 L136.83,374.2 L137.18,374.2 L137.53,374.2 L137.89,374.2 L138.24,374.2 L138.59,374.2 L138.94,374.2 L139.3,374.2 L139.65,374.2 L140,374.2" fill="none" stroke="#a8a8de" stroke-width="0.68"/>
<rect x="101.8" y="308.9" width="39.4" height="68.5" fill="none" stroke="#838383" stroke-width="1.05"/>
<path d="M144.8,374.2 L145.15,374.2 L145.5,374.2 L145.86,374.2 L146.21,374.2 L146.56,374.2 L146.91,374.2 L147.27,374.2 L147.62,374.19 L147.97,374.13 L148.32,373.83 L148.68,372.75 L149.03,370.04 L149.38,365.57 L149.73,361.25 L150.09,360.14 L150.44,363.14 L150.79,367.9 L151.14,371.6 L151.5,373.42 L151.85,374.03 L152.2,374.17 L152.55,374.19 L152.9,374.1 L153.26,373.64 L153.61,371.84 L153.96,367.01 L154.31,358.36 L154.67,348.93 L155.02,345.01 L155.37,349.8 L155.72,359.43 L156.08,367.73 L156.43,372.15 L156.78,373.73 L157.13,374.04 L157.49,373.25 L157.84,370.15 L158.19,361.62 L158.54,345.92 L158.9,328.18 L159.25,320 L159.6,327.98 L159.95,345.67 L160.3,361.45 L160.66,370.07 L161.01,373.23 L161.36,374.04 L161.71,373.98 L162.07,372.97 L162.42,369.29 L162.77,360.04 L163.12,344.66 L163.48,329.57 L163.83,325.39 L164.18,335.56 L164.53,352.05 L164.89,365.01 L165.24,371.44 L165.59,373.6 L165.94,374.06 L166.3,373.42 L166.65,371.03 L167,364.89 L167.35,354.38 L167.7,343.67 L168.06,340.14 L168.41,346.7 L168.76,358.13 L169.11,367.4 L169.47,372.12 L169.82,373.74 L170.17,373.64 L170.52,372.19 L170.88,368.94 L171.23,364.23 L171.58,360.52 L171.93,360.61 L172.29,364.42 L172.64,369.11 L172.99,372.28 L173.34,373.68 L173.7,374.1 L174.05,374.19 L174.4,374.2 L174.75,374.2 L175.1,374.2 L175.46,374.2 L175.81,374.2 L176.16,374.2 L176.51,374.2 L176.87,374.2 L177.22,374.2 L177.57,374.2 L177.92,374.2 L178.28,374.2 L178.63,374.2 L178.98,374.2 L179.33,374.2 L179.69,374.2 L180.04,374.2 L180.39,374.2 L180.74,374.2 L181.1,374.2 L181.45,374.2 L181.8,374.2" fill="none" stroke="#a8a8de" stroke-width="0.68"/>
<rect x="143.6" y="308.9" width="39.4" height="68.5" fill="none" stroke="#838383" stroke-width="1.05"/>
<path d="M186.7,374 L187.05,373.34 L187.4,371.43 L187.76,367.76 L188.11,363.37 L188.46,361.02 L188.81,362.59 L189.17,366.8 L189.52,370.78 L189.87,373.06 L190.22,373.92 L190.58,374.15 L190.93,374.12 L191.28,373.74 L191.63,372.29 L191.99,368.51 L192.34,361.93 L192.69,355.04 L193.04,352.55 L193.4,356.49 L193.75,363.71 L194.1,369.7 L194.45,372.8 L194.8,373.89 L195.16,374.15 L195.51,374.19 L195.86,374.09 L196.21,373.56 L196.57,371.41 L196.92,365.35 L197.27,353.92 L197.62,340.55 L197.98,333.78 L198.33,339.05 L198.68,352.07 L199.03,364.11 L199.39,370.87 L199.74,373.4 L200.09,374.06 L200.44,373.99 L200.8,373.05 L201.15,369.53 L201.5,360.46 L201.85,344.96 L202.2,329.16 L202.56,323.96 L202.91,333.64 L203.26,350.49 L203.61,364.17 L203.97,371.13 L204.32,373.52 L204.67,374.09 L205.02,374.13 L205.38,373.71 L205.73,371.9 L206.08,366.31 L206.43,354.59 L206.79,338.92 L207.14,328.25 L207.49,330.88 L207.84,344.64 L208.2,359.59 L208.55,368.97 L208.9,372.85 L209.25,373.95 L209.6,374.17 L209.96,374.17 L210.31,374 L210.66,373.2 L211.01,370.54 L211.37,364.52 L211.72,355.7 L212.07,348.58 L212.42,348.53 L212.78,355.57 L213.13,364.42 L213.48,370.48 L213.83,373.18 L214.19,374 L214.54,373.8 L214.89,372.56 L215.24,369.34 L215.6,363.78 L215.95,358.04 L216.3,356.06 L216.65,359.46 L217,365.53 L217.36,370.5 L217.71,373.06 L218.06,373.95 L218.41,374.16 L218.77,374.19 L219.12,374.11 L219.47,373.76 L219.82,372.68 L220.18,370.39 L220.53,367.31 L220.88,365.17 L221.23,365.63 L221.59,368.31 L221.94,371.27 L222.29,373.15 L222.64,373.93 L223,374.15 L223.35,374.19 L223.7,374.2" fill="none" stroke="#a8a8de" stroke-width="0.68"/>
<rect x="185.5" y="308.9" width="39.4" height="68.5" fill="none" stroke="#838383" stroke-width="1.05"/>
<path d="M228.5,374.2 L228.85,374.2 L229.2,374.2 L229.56,374.2 L229.91,374.2 L230.26,374.2 L230.61,374.2 L230.97,374.2 L231.32,374.2 L231.67,374.2 L232.02,374.2 L232.38,374.2 L232.73,374.19 L233.08,374.17 L233.43,374.03 L233.79,373.58 L234.14,372.6 L234.49,371.2 L234.84,370.13 L235.2,370.2 L235.55,371.36 L235.9,372.74 L236.25,373.65 L236.6,374.05 L236.96,374.17 L237.31,374.03 L237.66,373.33 L238.01,371.02 L238.37,365.79 L238.72,358.12 L239.07,351.94 L239.42,351.89 L239.78,358.02 L240.13,365.7 L240.48,370.97 L240.83,373.31 L241.19,374.02 L241.54,374.15 L241.89,373.87 L242.24,372.65 L242.6,368.96 L242.95,361.35 L243.3,351.38 L243.65,344.87 L244,346.9 L244.36,355.81 L244.71,365.23 L245.06,371.03 L245.41,373.39 L245.77,374.05 L246.12,373.73 L246.47,371.96 L246.82,366.48 L247.18,354.88 L247.53,339.22 L247.88,328.35 L248.23,330.69 L248.59,344.31 L248.94,359.33 L249.29,368.85 L249.64,372.8 L250,373.94 L250.35,373.77 L250.7,372.13 L251.05,366.89 L251.4,355.56 L251.76,339.79 L252.11,328.2 L252.46,329.68 L252.81,343.01 L253.17,358.38 L253.52,368.39 L253.87,372.66 L254.22,373.84 L254.58,372.65 L254.93,369.32 L255.28,363.12 L255.63,355.98 L255.99,352.51 L256.34,355.5 L256.69,362.53 L257.04,368.93 L257.4,372.48 L257.75,373.79 L258.1,374.13 L258.45,374.19 L258.8,374.2 L259.16,374.2 L259.51,374.2 L259.86,374.2 L260.21,374.19 L260.57,374.14 L260.92,373.88 L261.27,373.05 L261.62,371.18 L261.98,368.46 L262.33,366.31 L262.68,366.34 L263.03,368.54 L263.39,371.24 L263.74,373.08 L264.09,371.92 L264.44,369.73 L264.8,367.86 L265.15,367.69 L265.5,369.36" fill="none" stroke="#a8a8de" stroke-width="0.68"/>
<rect x="227.3" y="308.9" width="39.4" height="68.5" fill="none" stroke="#838383" stroke-width="1.05"/>
<path d="M270.5,374.2 L270.85,374.2 L271.2,374.2 L271.56,374.2 L271.91,374.19 L272.26,374.15 L272.61,373.95 L272.97,373.24 L273.32,371.54 L273.67,368.89 L274.02,366.53 L274.38,366.17 L274.73,368.11 L275.08,370.86 L275.43,372.87 L275.79,373.82 L276.14,374.12 L276.49,374.19 L276.84,374.18 L277.2,374.07 L277.55,373.47 L277.9,371.24 L278.25,365.51 L278.6,355.76 L278.96,345.85 L279.31,342.65 L279.66,348.78 L280.01,359.37 L280.37,367.94 L280.72,372.29 L281.07,373.78 L281.42,374.07 L281.78,373.48 L282.13,371.24 L282.48,365.34 L282.83,355.02 L283.19,344.12 L283.54,340.06 L283.89,346.15 L284.24,357.52 L284.6,367.02 L284.95,371.96 L285.3,373.69 L285.65,374.12 L286,373.91 L286.36,372.66 L286.71,368.27 L287.06,357.74 L287.41,341.11 L287.77,326.03 L288.12,323.44 L288.47,335.48 L288.82,352.81 L289.18,365.65 L289.53,371.72 L289.88,373.68 L290.23,374.12 L290.59,373.9 L290.94,372.72 L291.29,368.91 L291.64,360.57 L292,348.75 L292.35,339.8 L292.7,340.55 L293.05,350.36 L293.4,361.98 L293.76,369.66 L294.11,372.98 L294.46,373.96 L294.81,374.05 L295.17,373.46 L295.52,371.52 L295.87,367.17 L296.22,360.81 L296.58,355.74 L296.93,355.78 L297.28,360.89 L297.63,367.24 L297.99,371.57 L298.34,373.48 L298.69,374.06 L299.04,374.14 L299.4,373.91 L299.75,373.13 L300.1,371.34 L300.45,368.65 L300.8,366.4 L301.16,366.26 L301.51,368.35 L301.86,371.08 L302.21,373 L302.57,373.86 L302.92,374.13 L303.27,374.19 L303.62,374.2 L303.98,374.2 L304.33,374.2 L304.68,374.2 L305.03,374.2 L305.39,374.2 L305.74,374.2 L306.09,374.2 L306.44,374.2 L306.8,374.2 L307.15,374.2 L307.5,374.2" fill="none" stroke="#a8a8de" stroke-width="0.68"/>
<rect x="269.3" y="308.9" width="39.4" height="68.5" fill="none" stroke="#838383" stroke-width="1.05"/>
<path d="M312.2,374.2 L312.55,374.2 L312.9,374.2 L313.26,374.2 L313.61,374.2 L313.96,374.18 L314.31,374.1 L314.67,373.78 L315.02,373 L315.37,371.69 L315.72,370.4 L316.08,370.03 L316.43,370.89 L316.78,372.3 L317.13,373.41 L317.49,373.96 L317.84,374.15 L318.19,374.19 L318.54,374.09 L318.9,373.66 L319.25,372.19 L319.6,368.81 L319.95,363.74 L320.3,359.5 L320.66,359.24 L321.01,363.18 L321.36,368.32 L321.71,371.93 L322.07,373.57 L322.42,374.07 L322.77,374.16 L323.12,373.95 L323.48,373.02 L323.83,370.14 L324.18,364.09 L324.53,355.97 L324.89,350.41 L325.24,351.72 L325.59,358.82 L325.94,366.59 L326.3,371.47 L326.65,373.49 L327,374.07 L327.35,373.84 L327.7,372.44 L328.06,368.04 L328.41,358.56 L328.76,345.45 L329.11,335.93 L329.47,337.32 L329.82,348.47 L330.17,361.21 L330.52,369.45 L330.88,372.94 L331.23,373.96 L331.58,373.92 L331.93,372.8 L332.29,369.18 L332.64,361.19 L332.99,349.8 L333.34,341.08 L333.7,341.65 L334.05,351.05 L334.4,362.28 L334.75,369.75 L335.1,373 L335.46,373.97 L335.81,373.88 L336.16,372.91 L336.51,370.47 L336.87,366.37 L337.22,362.29 L337.57,361.09 L337.92,363.75 L338.28,368.17 L338.63,371.68 L338.98,373.44 L339.33,372.42 L339.69,369.79 L340.04,366.28 L340.39,363.91 L340.74,364.52 L341.1,367.61 L341.45,370.95 L341.8,373.04 L342.15,373.9 L342.5,374.14 L342.86,374.19 L343.21,374.2 L343.56,374.2 L343.91,374.2 L344.27,374.2 L344.62,374.2 L344.97,374.2 L345.32,374.2 L345.68,374.2 L346.03,374.2 L346.38,374.2 L346.73,374.2 L347.09,374.2 L347.44,374.2 L347.79,374.2 L348.14,374.2 L348.5,374.2 L348.85,374.2 L349.2,374.2" fill="none" stroke="#8080c4" stroke-width="0.68"/>
<rect x="311" y="308.9" width="39.4" height="68.5" fill="none" stroke="#838383" stroke-width="1.05"/>
<path d="M354.2,374.2 L354.55,374.2 L354.9,374.2 L355.26,374.2 L355.61,374.2 L355.96,374.2 L356.31,374.2 L356.67,374.2 L357.02,374.17 L357.37,374.02 L357.72,373.32 L358.08,371.17 L358.43,366.63 L358.78,360.53 L359.13,356.32 L359.49,357.27 L359.84,362.59 L360.19,368.44 L360.54,372.13 L360.9,373.66 L361.25,374.1 L361.6,373.94 L361.95,372.95 L362.3,369.8 L362.66,363.01 L363.01,353.58 L363.36,346.69 L363.71,347.63 L364.07,355.63 L364.42,364.8 L364.77,370.76 L365.12,373.29 L365.48,374.02 L365.83,374.08 L366.18,373.43 L366.53,370.75 L366.89,362.92 L367.24,347.55 L367.59,328.61 L367.94,317.74 L368.3,323.58 L368.65,341.34 L369,358.76 L369.35,368.95 L369.7,372.91 L370.06,373.97 L370.41,374.06 L370.76,373.38 L371.11,370.77 L371.47,363.8 L371.82,351.39 L372.17,337.96 L372.52,332.53 L372.88,339.51 L373.23,353.29 L373.58,365.08 L373.93,371.32 L374.29,373.54 L374.64,374.08 L374.99,373.48 L375.34,371.12 L375.7,364.68 L376.05,352.91 L376.4,339.71 L376.75,333.75 L377.1,339.86 L377.46,353.09 L377.81,364.81 L378.16,371.17 L378.51,373.49 L378.87,374.08 L379.22,374.1 L379.57,373.68 L379.92,372.12 L380.28,368.24 L380.63,361.83 L380.98,355.59 L381.33,353.93 L381.69,358.22 L382.04,365.08 L382.39,370.43 L382.74,373.07 L383.1,373.96 L383.45,374.16 L383.8,373.96 L384.15,373.22 L384.5,371.32 L384.86,368.1 L385.21,364.84 L385.56,363.8 L385.91,365.84 L386.27,369.34 L386.62,372.15 L386.97,373.57 L387.32,374.06 L387.68,374.18 L388.03,374.2 L388.38,374.2 L388.73,374.2 L389.09,374.2 L389.44,374.2 L389.79,374.2 L390.14,374.2 L390.5,374.2 L390.85,374.2 L391.2,374.2" fill="none" stroke="#a8a8de" stroke-width="0.68"/>
<rect x="353" y="308.9" width="39.4" height="68.5" fill="none" stroke="#838383" stroke-width="1.05"/>
<path d="M395.8,374.2 L396.15,374.2 L396.5,374.2 L396.86,374.2 L397.21,374.2 L397.56,374.2 L397.91,374.2 L398.27,374.2 L398.62,374.2 L398.97,374.2 L399.32,374.2 L399.68,374.2 L400.03,374.2 L400.38,374.2 L400.73,374.2 L401.09,374.2 L401.44,374.19 L401.79,374.11 L402.14,373.74 L402.5,372.5 L402.85,369.62 L403.2,365.29 L403.55,361.65 L403.9,361.4 L404.26,364.75 L404.61,369.15 L404.96,372.25 L405.31,373.65 L405.67,374.09 L406.02,373.99 L406.37,373.11 L406.72,370.09 L407.08,362.93 L407.43,351.83 L407.78,342.07 L408.13,340.78 L408.49,349.04 L408.84,360.48 L409.19,368.79 L409.54,372.65 L409.9,373.88 L410.25,374.15 L410.6,373.9 L410.95,372.73 L411.3,369.02 L411.66,361.02 L412.01,349.92 L412.36,341.81 L412.71,342.92 L413.07,352.34 L413.42,363.13 L413.77,370.15 L414.12,373.12 L414.48,373.99 L414.83,374.04 L415.18,373.42 L415.53,371.4 L415.89,366.93 L416.24,360.55 L416.59,355.63 L416.94,355.91 L417.3,361.16 L417.65,367.47 L418,371.68 L418.35,373.52 L418.7,374.07 L419.06,374.18 L419.41,374.2 L419.76,374.2 L420.11,374.2 L420.47,374.2 L420.82,374.2 L421.17,374.2 L421.52,374.2 L421.88,374.2 L422.23,374.2 L422.58,374.2 L422.93,374.2 L423.29,374.2 L423.64,374.18 L423.99,374.05 L424.34,373.58 L424.7,372.27 L425.05,369.88 L425.4,367.21 L425.75,366 L426.1,367.24 L426.46,369.92 L426.81,372.3 L427.16,373.59 L427.51,374.06 L427.87,374.18 L428.22,374.2 L428.57,374.2 L428.92,374.2 L429.28,374.2 L429.63,374.2 L429.98,374.2 L430.33,374.2 L430.69,374.2 L431.04,374.2 L431.39,374.2 L431.74,374.2 L432.1,374.2 L432.45,374.2 L432.8,374.2" fill="none" stroke="#a8a8de" stroke-width="0.68"/>
<rect x="394.6" y="308.9" width="39.4" height="68.5" fill="none" stroke="#838383" stroke-width="1.05"/>
<path d="M437.5,374.2 L437.85,374.19 L438.2,374.13 L438.56,373.89 L438.91,373.2 L439.26,371.89 L439.61,370.33 L439.97,369.51 L440.32,370.08 L440.67,371.59 L441.02,373 L441.38,373.8 L441.73,374.1 L442.08,373.98 L442.43,373.34 L442.79,371.75 L443.14,369.16 L443.49,366.69 L443.84,366.09 L444.2,367.86 L444.55,370.62 L444.9,372.73 L445.25,370.99 L445.6,367.39 L445.96,363.74 L446.31,362.55 L446.66,364.82 L447.01,368.73 L447.37,371.89 L447.72,373.49 L448.07,374.04 L448.42,373.84 L448.78,372.89 L449.13,370.77 L449.48,367.72 L449.83,365.33 L450.19,365.4 L450.54,367.89 L450.89,370.92 L451.24,372.97 L451.6,373.86 L451.95,373.97 L452.3,373.2 L452.65,370.98 L453,366.7 L453.36,361.56 L453.71,358.78 L454.06,360.59 L454.41,365.5 L454.77,370.17 L455.12,369.62 L455.47,363.2 L455.82,355.09 L456.18,350.17 L456.53,352.32 L456.88,359.78 L457.23,367.32 L457.59,371.82 L457.94,373.61 L458.29,373.88 L458.64,372.91 L459,370.38 L459.35,366.04 L459.7,361.57 L460.05,360.05 L460.4,362.73 L460.76,367.46 L461.11,371.34 L461.46,373.32 L461.81,374 L462.17,374.15 L462.52,373.93 L462.87,373.09 L463.22,370.84 L463.58,366.89 L463.93,362.66 L464.28,361.02 L464.63,363.3 L464.99,367.67 L465.34,371.37 L465.69,373.31 L466.04,374 L466.4,374.17 L466.75,374.2 L467.1,374.2 L467.45,374.2 L467.8,374.2 L468.16,374.2 L468.51,374.2 L468.86,374.2 L469.21,374.2 L469.57,374.2 L469.92,374.17 L470.27,374.03 L470.62,373.5 L470.98,372.1 L471.33,369.64 L471.68,367.02 L472.03,366.01 L472.39,367.44 L472.74,370.16 L473.09,372.45 L473.44,373.65 L473.8,374.08 L474.15,374.18 L474.5,374.2" fill="none" stroke="#a8a8de" stroke-width="0.68"/>
<rect x="436.3" y="308.9" width="39.4" height="68.5" fill="none" stroke="#838383" stroke-width="1.05"/>
<path d="M478.7,373.95 L479.05,373.11 L479.4,370.69 L479.76,366.05 L480.11,360.5 L480.46,357.53 L480.81,359.51 L481.17,364.83 L481.52,369.87 L481.87,372.75 L482.22,373.85 L482.58,374.14 L482.93,374.07 L483.28,373.74 L483.63,373 L483.99,371.93 L484.34,371.11 L484.69,371.15 L485.04,372.02 L485.4,373.07 L485.75,373.78 L486.1,374.09 L486.45,374.18 L486.8,374.14 L487.16,373.85 L487.51,372.58 L487.86,368.78 L488.21,361.12 L488.57,351.33 L488.92,345.25 L489.27,347.67 L489.62,356.6 L489.98,365.75 L490.33,371.26 L490.68,373.46 L491.03,374.07 L491.39,373.8 L491.74,372.32 L492.09,367.81 L492.44,358.47 L492.8,346.16 L493.15,338 L493.5,340.37 L493.85,351.31 L494.2,362.99 L494.56,370.22 L494.91,373.18 L495.26,374.01 L495.61,373.96 L495.97,373.06 L496.32,370.26 L496.67,364.29 L497.02,356.18 L497.38,350.48 L497.73,351.59 L498.08,358.6 L498.43,366.41 L498.79,371.38 L499.14,373.46 L499.49,374.06 L499.84,374.04 L500.2,373.42 L500.55,371.42 L500.9,367.09 L501.25,361.01 L501.6,356.49 L501.96,356.99 L502.31,362.09 L502.66,368.03 L503.01,371.92 L503.37,373.59 L503.72,374.08 L504.07,374.18 L504.42,374.07 L504.78,373.6 L505.13,372.21 L505.48,369.47 L505.83,366.06 L506.19,364.05 L506.54,365.04 L506.89,368.22 L507.24,371.37 L507.6,373.23 L507.95,373.96 L508.3,374.16 L508.65,374.14 L509,373.9 L509.36,373.2 L509.71,371.78 L510.06,369.95 L510.41,368.8 L510.77,369.23 L511.12,370.89 L511.47,372.6 L511.82,373.64 L512.18,374.06 L512.53,374.17 L512.88,374.2 L513.23,374.2 L513.59,374.2 L513.94,374.2 L514.29,374.2 L514.64,374.2 L515,374.2 L515.35,374.2 L515.7,374.2" fill="none" stroke="#a8a8de" stroke-width="0.68"/>
<rect x="477.5" y="308.9" width="39.4" height="68.5" fill="none" stroke="#838383" stroke-width="1.05"/>
<path d="M61.2,446.1 L61.55,446.1 L61.9,446.1 L62.26,446.1 L62.61,446.1 L62.96,446.1 L63.31,446.1 L63.67,446.1 L64.02,446.1 L64.37,446.1 L64.72,446.1 L65.08,446.1 L65.43,446.1 L65.78,446.1 L66.13,446.1 L66.49,446.07 L66.84,445.91 L67.19,445.36 L67.54,444.02 L67.9,441.84 L68.25,439.79 L68.6,439.34 L68.95,440.85 L69.3,443.15 L69.66,444.9 L70.01,445.75 L70.36,446.02 L70.71,446.09 L71.07,446.09 L71.42,446.03 L71.77,445.68 L72.12,444.35 L72.48,440.83 L72.83,434.64 L73.18,428.05 L73.53,425.53 L73.89,429.12 L74.24,435.96 L74.59,441.71 L74.94,444.73 L75.3,445.79 L75.65,445.91 L76,445.2 L76.35,443.06 L76.7,438.7 L77.06,433.04 L77.41,429.43 L77.76,430.69 L78.11,435.79 L78.47,441.1 L78.82,444.35 L79.17,445.65 L79.52,446.02 L79.88,446.05 L80.23,445.89 L80.58,445.36 L80.93,444.27 L81.29,442.81 L81.64,441.82 L81.99,442.07 L82.34,443.35 L82.7,444.74 L83.05,445.61 L83.4,445.81 L83.75,445.03 L84.1,443.24 L84.46,440.58 L84.81,438.37 L85.16,438.27 L85.51,440.36 L85.87,443.05 L86.22,444.93 L86.57,445.77 L86.92,446.03 L87.28,446.09 L87.63,446.1 L87.98,446.1 L88.33,446.1 L88.69,446.1 L89.04,446.1 L89.39,446.1 L89.74,446.1 L90.1,446.1 L90.45,446.1 L90.8,446.1 L91.15,446.1 L91.5,446.1 L91.86,446.1 L92.21,446.1 L92.56,446.1 L92.91,446.1 L93.27,446.1 L93.62,446.1 L93.97,446.1 L94.32,446.1 L94.68,446.1 L95.03,446.1 L95.38,446.1 L95.73,446.1 L96.09,446.1 L96.44,446.1 L96.79,446.1 L97.14,446.1 L97.5,446.1 L97.85,446.1 L98.2,446.1" fill="none" stroke="#a8a8de" stroke-width="0.68"/>
<rect x="60" y="381.3" width="39.4" height="68.3" fill="none" stroke="#838383" stroke-width="1.05"/>
<path d="M103,446.1 L103.35,446.1 L103.7,446.1 L104.06,446.1 L104.41,446.1 L104.76,446.1 L105.11,446.1 L105.47,446.1 L105.82,446.1 L106.17,446.1 L106.52,446.1 L106.88,446.1 L107.23,446.1 L107.58,446.1 L107.93,446.1 L108.29,446.1 L108.64,446.1 L108.99,446.1 L109.34,446.1 L109.7,446.1 L110.05,446.1 L110.4,446.1 L110.75,446.1 L111.1,446.1 L111.46,446.1 L111.81,446.1 L112.16,446.08 L112.51,445.99 L112.87,445.64 L113.22,444.69 L113.57,443.02 L113.92,441.22 L114.28,440.5 L114.63,441.45 L114.98,443.31 L115.33,444.88 L115.69,445.72 L116.04,446.01 L116.39,446.09 L116.74,446.1 L117.1,446.1 L117.45,446.1 L117.8,446.09 L118.15,446 L118.5,445.66 L118.86,444.62 L119.21,442.51 L119.56,439.79 L119.91,438.08 L120.27,438.72 L120.62,441.18 L120.97,443.73 L121.32,445.27 L121.68,445.89 L122.03,446.06 L122.38,446.04 L122.73,445.79 L123.09,445.05 L123.44,443.51 L123.79,441.47 L124.14,440.09 L124.5,440.46 L124.85,442.27 L125.2,444.21 L125.55,445.43 L125.9,445.93 L126.26,446.07 L126.61,446.1 L126.96,446.09 L127.31,446.05 L127.67,445.87 L128.02,445.25 L128.37,443.86 L128.72,441.84 L129.08,440.24 L129.43,440.25 L129.78,441.87 L130.13,443.89 L130.49,444.73 L130.84,443.85 L131.19,442.59 L131.54,440.88 L131.9,438.7 L132.25,436.11 L132.6,433.26 L132.95,430.37 L133.3,427.75 L133.66,425.7 L134.01,424.5 L134.36,424.3 L134.71,425.15 L135.07,426.92 L135.42,429.37 L135.77,432.2 L136.12,435.09 L136.48,437.8 L136.83,440.14 L137.18,442.02 L137.53,443.44 L137.89,444.45 L138.24,445.12 L138.59,445.55 L138.94,445.8 L139.3,445.95 L139.65,446.03 L140,446.07" fill="none" stroke="#a8a8de" stroke-width="0.68"/>
<rect x="101.8" y="381.3" width="39.4" height="68.3" fill="none" stroke="#838383" stroke-width="1.05"/>
<path d="M144.8,446.02 L145.15,445.72 L145.5,444.69 L145.86,442.34 L146.21,438.85 L146.56,435.98 L146.91,435.87 L147.27,438.61 L147.62,442.13 L147.97,444.58 L148.32,445.68 L148.68,446.02 L149.03,446.09 L149.38,446.08 L149.73,445.93 L150.09,445.16 L150.44,442.44 L150.79,435.73 L151.14,424.83 L151.5,414.53 L151.85,412.17 L152.2,419.7 L152.55,431.23 L152.9,440.04 L153.26,444.31 L153.61,445.72 L153.96,446.04 L154.31,445.89 L154.67,445.07 L155.02,442.36 L155.37,436.26 L155.72,427.37 L156.08,420.28 L156.43,420.34 L156.78,427.49 L157.13,436.37 L157.49,442.42 L157.84,445.09 L158.19,445.9 L158.54,446.07 L158.9,445.96 L159.25,445.31 L159.6,442.73 L159.95,435.76 L160.3,423.12 L160.66,409.11 L161.01,403.01 L161.36,409.75 L161.71,423.9 L162.07,436.29 L162.42,442.96 L162.77,445.37 L163.12,445.98 L163.48,445.97 L163.83,445.41 L164.18,443.38 L164.53,438.36 L164.89,430.12 L165.24,422.23 L165.59,420.28 L165.94,425.88 L166.3,434.63 L166.65,441.39 L167,444.7 L167.35,445.8 L167.7,446.05 L168.06,446.05 L168.41,445.84 L168.76,445.17 L169.11,443.63 L169.47,441.37 L169.82,439.54 L170.17,439.51 L170.52,441.31 L170.88,443.58 L171.23,445.14 L171.58,445.83 L171.93,446.05 L172.29,446.07 L172.64,445.95 L172.99,445.55 L173.34,444.61 L173.7,443.19 L174.05,441.98 L174.4,441.88 L174.75,442.97 L175.1,444.42 L175.46,445.45 L175.81,445.92 L176.16,446.06 L176.51,446.09 L176.87,446.1 L177.22,446.1 L177.57,446.1 L177.92,446.1 L178.28,446.1 L178.63,446.1 L178.98,446.1 L179.33,446.1 L179.69,446.1 L180.04,446.1 L180.39,446.1 L180.74,446.1 L181.1,446.1 L181.45,446.1 L181.8,446.1" fill="none" stroke="#a8a8de" stroke-width="0.68"/>
<rect x="143.6" y="381.3" width="39.4" height="68.3" fill="none" stroke="#838383" stroke-width="1.05"/>
<path d="M186.7,445.42 L187.05,444.2 L187.4,442.25 L187.76,440.45 L188.11,440.09 L188.46,441.48 L188.81,443.53 L189.17,445.06 L189.52,445.8 L189.87,446.04 L190.22,446.09 L190.58,446.09 L190.93,446.06 L191.28,445.87 L191.63,445.17 L191.99,443.32 L192.34,440.1 L192.69,436.74 L193.04,435.53 L193.4,437.45 L193.75,440.98 L194.1,443.9 L194.45,445.42 L194.8,445.95 L195.16,446.08 L195.51,446.1 L195.86,446.06 L196.21,445.87 L196.57,445.11 L196.92,442.96 L197.27,438.91 L197.62,434.16 L197.98,431.76 L198.33,433.63 L198.68,438.25 L199.03,442.52 L199.39,444.92 L199.74,445.82 L200.09,446.05 L200.44,445.87 L200.8,444.83 L201.15,440.95 L201.5,430.96 L201.85,413.88 L202.2,396.46 L202.56,390.74 L202.91,401.4 L203.26,419.97 L203.61,435.04 L203.97,442.71 L204.32,445.35 L204.67,445.98 L205.02,446.06 L205.38,445.86 L205.73,444.96 L206.08,442.2 L206.43,436.4 L206.79,428.65 L207.14,423.37 L207.49,424.67 L207.84,431.48 L208.2,438.87 L208.55,443.52 L208.9,445.43 L209.25,445.97 L209.6,446.03 L209.96,445.67 L210.31,444.21 L210.66,440.08 L211.01,432.2 L211.37,422.89 L211.72,418.03 L212.07,421.53 L212.42,430.53 L212.78,438.96 L213.13,443.73 L213.48,445.53 L213.83,446 L214.19,446.09 L214.54,446.02 L214.89,445.77 L215.24,445.14 L215.6,444.04 L215.95,442.9 L216.3,442.51 L216.65,443.18 L217,444.38 L217.36,445.37 L217.71,445.87 L218.06,446.05 L218.41,446.09 L218.77,446.03 L219.12,445.8 L219.47,445.19 L219.82,444.11 L220.18,442.96 L220.53,442.5 L220.88,443.12 L221.23,444.31 L221.59,445.32 L221.94,445.86 L222.29,446.04 L222.64,446.09 L223,446.1 L223.35,446.1 L223.7,446.1" fill="none" stroke="#a8a8de" stroke-width="0.68"/>
<rect x="185.5" y="381.3" width="39.4" height="68.3" fill="none" stroke="#838383" stroke-width="1.05"/>
<path d="M228.5,446.1 L228.85,446.1 L229.2,446.1 L229.56,446.1 L229.91,446.1 L230.26,446.1 L230.61,446.1 L230.97,446.1 L231.32,446.1 L231.67,446.1 L232.02,446.1 L232.38,446.1 L232.73,446.1 L233.08,446.1 L233.43,446.1 L233.79,446.1 L234.14,446.1 L234.49,446.1 L234.84,446.1 L235.2,446.1 L235.55,446.1 L235.9,446.1 L236.25,446.1 L236.6,446.1 L236.96,446.08 L237.31,445.95 L237.66,445.33 L238.01,443.27 L238.37,438.63 L238.72,431.82 L239.07,426.34 L239.42,426.29 L239.78,431.73 L240.13,438.55 L240.48,443.23 L240.83,445.31 L241.19,445.94 L241.54,445.95 L241.89,445.31 L242.24,443.14 L242.6,438.13 L242.95,430.57 L243.3,424.17 L243.65,423.69 L244,429.52 L244.36,437.22 L244.71,442.65 L245.06,445.13 L245.41,445.9 L245.77,445.59 L246.12,443.96 L246.47,439.63 L246.82,431.98 L247.18,423.76 L247.53,420.53 L247.88,424.9 L248.23,433.38 L248.59,440.57 L248.94,444.36 L249.29,445.7 L249.64,446.03 L250,445.72 L250.35,444.47 L250.7,441.07 L251.05,434.9 L251.4,428.03 L251.76,425 L252.11,428.27 L252.46,435.19 L252.81,441.26 L253.17,444.55 L253.52,445.74 L253.87,446.04 L254.22,445.92 L254.58,445.34 L254.93,443.72 L255.28,440.69 L255.63,437.2 L255.99,435.5 L256.34,436.96 L256.69,440.4 L257.04,443.52 L257.4,445.26 L257.75,445.9 L258.1,446.07 L258.45,446.1 L258.8,446.1 L259.16,446.1 L259.51,446.1 L259.86,446.1 L260.21,446.1 L260.57,446.1 L260.92,446.1 L261.27,446.1 L261.62,446.1 L261.98,446.1 L262.33,446.1 L262.68,446.1 L263.03,446.1 L263.39,446.1 L263.74,446.1 L264.09,446.1 L264.44,446.1 L264.8,446.1 L265.15,446.1 L265.5,446.1" fill="none" stroke="#a8a8de" stroke-width="0.68"/>
<rect x="227.3" y="381.3" width="39.4" height="68.3" fill="none" stroke="#838383" stroke-width="1.05"/>
<path d="M270.5,446.1 L270.85,446.1 L271.2,446.1 L271.56,446.1 L271.91,446.1 L272.26,446.1 L272.61,446.1 L272.97,446.1 L273.32,446.1 L273.67,446.1 L274.02,446.1 L274.38,446.08 L274.73,445.96 L275.08,445.35 L275.43,443.15 L275.79,437.72 L276.14,428.83 L276.49,420.36 L276.84,418.31 L277.2,424.39 L277.55,433.82 L277.9,441.07 L278.25,444.61 L278.6,445.78 L278.96,446.05 L279.31,446.04 L279.66,445.8 L280.01,444.99 L280.37,443.16 L280.72,440.49 L281.07,438.33 L281.42,438.31 L281.78,440.45 L282.13,443.13 L282.48,444.97 L282.83,445.79 L283.19,445.9 L283.54,445.21 L283.89,443.21 L284.24,439.29 L284.6,434.5 L284.95,431.8 L285.3,433.34 L285.65,437.85 L286,442.24 L286.36,444.62 L286.71,442.51 L287.06,439.79 L287.41,438.08 L287.77,438.72 L288.12,441.18 L288.47,443.73 L288.82,445.27 L289.18,445.89 L289.53,446.06 L289.88,446.09 L290.23,446.1 L290.59,446.1 L290.94,446.09 L291.29,446.04 L291.64,445.86 L292,445.4 L292.35,444.61 L292.7,443.79 L293.05,443.51 L293.4,444 L293.76,444.87 L294.11,445.58 L294.46,445.94 L294.81,446.06 L295.17,446.09 L295.52,446.1 L295.87,446.09 L296.22,446.07 L296.58,445.97 L296.93,445.68 L297.28,445.16 L297.63,444.55 L297.99,444.25 L298.34,444.51 L298.69,445.1 L299.04,445.65 L299.4,445.95 L299.75,446.07 L300.1,446.09 L300.45,446.1 L300.8,446.1 L301.16,446.08 L301.51,446 L301.86,445.76 L302.21,445.27 L302.57,444.65 L302.92,444.27 L303.27,444.42 L303.62,444.98 L303.98,445.56 L304.33,445.91 L304.68,446.05 L305.03,446.09 L305.39,446.1 L305.74,446.1 L306.09,446.1 L306.44,446.1 L306.8,446.1 L307.15,446.1 L307.5,446.1" fill="none" stroke="#a8a8de" stroke-width="0.68"/>
<rect x="269.3" y="381.3" width="39.4" height="68.3" fill="none" stroke="#838383" stroke-width="1.05"/>
<path d="M312.2,446.1 L312.55,446.1 L312.9,446.1 L313.26,446.1 L313.61,446.1 L313.96,446.1 L314.31,446.1 L314.67,446.1 L315.02,446.1 L315.37,446.1 L315.72,446.1 L316.08,446.1 L316.43,446.1 L316.78,446.09 L317.13,446.05 L317.49,445.83 L317.84,444.93 L318.19,442.48 L318.54,437.96 L318.9,432.86 L319.25,430.5 L319.6,432.8 L319.95,437.89 L320.3,442.43 L320.66,444.91 L321.01,445.82 L321.36,446.05 L321.71,445.83 L322.07,444.94 L322.42,442.41 L322.77,437.65 L323.12,432.08 L323.48,429.26 L323.83,431.46 L324.18,436.88 L324.53,441.84 L324.89,437.32 L325.24,432.97 L325.59,431.9 L325.94,434.98 L326.3,439.8 L326.65,443.51 L327,443.99 L327.35,439 L327.7,428.81 L328.06,415.61 L328.41,407.17 L328.76,410.11 L329.11,422.01 L329.47,434.43 L329.82,442.01 L330.17,445.06 L330.52,445.91 L330.88,446.06 L331.23,445.84 L331.58,444.96 L331.93,442.55 L332.29,438.07 L332.64,432.94 L332.99,430.5 L333.34,432.71 L333.7,437.78 L334.05,441.69 L334.4,437.12 L334.75,432.85 L335.1,431.95 L335.46,435.17 L335.81,439.98 L336.16,443.62 L336.51,444.23 L336.87,439.87 L337.22,431.13 L337.57,420.03 L337.92,413.25 L338.28,416.13 L338.63,426.3 L338.98,436.63 L339.33,442.82 L339.69,445.28 L340.04,445.95 L340.39,446.08 L340.74,446.1 L341.1,446.1 L341.45,446.1 L341.8,446.1 L342.15,446.1 L342.5,446.1 L342.86,446.1 L343.21,446.1 L343.56,446.1 L343.91,446.1 L344.27,446.1 L344.62,446.09 L344.97,446.06 L345.32,445.92 L345.68,445.52 L346.03,444.78 L346.38,443.92 L346.73,443.5 L347.09,443.85 L347.44,444.7 L347.79,445.46 L348.14,445.89 L348.5,446.05 L348.85,446.09 L349.2,446.1" fill="none" stroke="#a8a8de" stroke-width="0.68"/>
<rect x="311" y="381.3" width="39.4" height="68.3" fill="none" stroke="#838383" stroke-width="1.05"/>
<path d="M354.2,446.1 L354.55,446.1 L354.9,446.1 L355.26,446.1 L355.61,446.1 L355.96,446.09 L356.31,446.04 L356.67,445.84 L357.02,445.36 L357.37,444.54 L357.72,443.75 L358.08,443.52 L358.43,444.05 L358.78,444.92 L359.13,445.61 L359.49,445.95 L359.84,446.05 L360.19,445.86 L360.54,445.26 L360.9,443.93 L361.25,442.07 L361.6,440.66 L361.95,440.79 L362.3,442.35 L362.66,444.18 L363.01,445.39 L363.36,445.91 L363.71,445.95 L364.07,445.45 L364.42,444.05 L364.77,441.41 L365.12,438.32 L365.48,436.76 L365.83,437.97 L366.18,440.98 L366.53,443.77 L366.89,445.33 L367.24,445.92 L367.59,445.82 L367.94,445.01 L368.3,443.01 L368.65,439.8 L369,436.79 L369.35,436.14 L369.7,438.38 L370.06,441.77 L370.41,444.34 L370.76,445.58 L371.11,445.54 L371.47,444.39 L371.82,442.35 L372.17,440.15 L372.52,439.26 L372.88,440.4 L373.23,442.67 L373.58,444.6 L373.93,445.63 L374.29,445.09 L374.64,443.49 L374.99,441.21 L375.34,439.47 L375.7,439.58 L376.05,441.46 L376.4,443.71 L376.75,445.21 L377.1,445.86 L377.46,446.01 L377.81,445.69 L378.16,444.79 L378.51,443.08 L378.87,441.06 L379.22,440.01 L379.57,440.77 L379.92,442.72 L380.28,444.55 L380.63,445.59 L380.98,445.98 L381.33,446 L381.69,445.72 L382.04,445.02 L382.39,443.88 L382.74,442.8 L383.1,442.54 L383.45,443.33 L383.8,444.53 L384.15,445.46 L384.5,445.91 L384.86,446.06 L385.21,446.09 L385.56,446.1 L385.91,446.1 L386.27,446.08 L386.62,446.01 L386.97,445.82 L387.32,445.49 L387.68,445.14 L388.03,445 L388.38,445.19 L388.73,445.55 L389.09,445.86 L389.44,446.03 L389.79,446.08 L390.14,446.1 L390.5,446.1 L390.85,446.1 L391.2,446.1" fill="none" stroke="#a8a8de" stroke-width="0.68"/>
<rect x="353" y="381.3" width="39.4" height="68.3" fill="none" stroke="#838383" stroke-width="1.05"/>
<path d="M395.8,446.1 L396.15,446.1 L396.5,446.1 L396.86,446.1 L397.21,446.1 L397.56,446.1 L397.91,446.1 L398.27,446.1 L398.62,446.1 L398.97,446.1 L399.32,446.1 L399.68,446.1 L400.03,446.1 L400.38,446.1 L400.73,446.1 L401.09,446.1 L401.44,446.1 L401.79,446.1 L402.14,446.09 L402.5,446.04 L402.85,445.86 L403.2,445.36 L403.55,444.45 L403.9,443.45 L404.26,443 L404.61,443.48 L404.96,444.5 L405.31,445.39 L405.67,445.87 L406.02,446.05 L406.37,445.96 L406.72,445.58 L407.08,444.67 L407.43,443.26 L407.78,442.01 L408.13,441.85 L408.49,442.9 L408.84,444.36 L409.19,445.41 L409.54,444.4 L409.9,442.62 L410.25,440.95 L410.6,440.57 L410.95,441.81 L411.3,443.69 L411.66,444.25 L412.01,440.7 L412.36,434.71 L412.71,428.7 L413.07,426.86 L413.42,430.7 L413.77,437.18 L414.12,442.36 L414.48,444.96 L414.83,444.74 L415.18,442.72 L415.53,440 L415.89,438.14 L416.24,438.58 L416.59,440.95 L416.94,443.55 L417.3,445.19 L417.65,445.86 L418,446.06 L418.35,446.09 L418.7,446.1 L419.06,446.1 L419.41,446.1 L419.76,446.1 L420.11,446.1 L420.47,446.1 L420.82,446.1 L421.17,446.1 L421.52,446.1 L421.88,446.1 L422.23,446.1 L422.58,446.1 L422.93,446.1 L423.29,446.1 L423.64,446.1 L423.99,446.1 L424.34,446.1 L424.7,446.1 L425.05,446.1 L425.4,446.1 L425.75,446.1 L426.1,446.1 L426.46,446.1 L426.81,446.1 L427.16,446.1 L427.51,446.1 L427.87,446.1 L428.22,446.1 L428.57,446.1 L428.92,446.1 L429.28,446.1 L429.63,446.1 L429.98,446.1 L430.33,446.1 L430.69,446.1 L431.04,446.1 L431.39,446.1 L431.74,446.1 L432.1,446.1 L432.45,446.1 L432.8,446.1" fill="none" stroke="#a8a8de" stroke-width="0.68"/>
<rect x="394.6" y="381.3" width="39.4" height="68.3" fill="none" stroke="#838383" stroke-width="1.05"/>
<path d="M437.5,446.1 L437.85,446.1 L438.2,446.1 L438.56,446.1 L438.91,446.1 L439.26,446.1 L439.61,446.1 L439.97,446.1 L440.32,446.1 L440.67,446.1 L441.02,446.1 L441.38,446.1 L441.73,446.1 L442.08,446.1 L442.43,446.1 L442.79,446.1 L443.14,446.1 L443.49,446.1 L443.84,446.1 L444.2,446.1 L444.55,446.1 L444.9,446.1 L445.25,446.1 L445.6,446.1 L445.96,446.1 L446.31,446.1 L446.66,446.1 L447.01,446.1 L447.37,446.1 L447.72,446.1 L448.07,446.1 L448.42,446.1 L448.78,446.1 L449.13,446.1 L449.48,446.1 L449.83,446.1 L450.19,446.1 L450.54,446.1 L450.89,446.1 L451.24,446.1 L451.6,446.1 L451.95,446.1 L452.3,446.1 L452.65,446.1 L453,446.1 L453.36,446.1 L453.71,446.1 L454.06,446.1 L454.41,446.1 L454.77,446.1 L455.12,446.1 L455.47,446.1 L455.82,446.1 L456.18,446.1 L456.53,446.1 L456.88,446.1 L457.23,446.1 L457.59,446.1 L457.94,446.1 L458.29,446.1 L458.64,446.1 L459,446.1 L459.35,446.1 L459.7,446.1 L460.05,446.1 L460.4,446.1 L460.76,446.1 L461.11,446.1 L461.46,446.1 L461.81,446.1 L462.17,446.1 L462.52,446.1 L462.87,446.1 L463.22,446.1 L463.58,446.1 L463.93,446.1 L464.28,446.1 L464.63,446.1 L464.99,446.1 L465.34,446.1 L465.69,446.1 L466.04,446.1 L466.4,446.1 L466.75,446.1 L467.1,446.1 L467.45,446.1 L467.8,446.1 L468.16,446.1 L468.51,446.1 L468.86,446.1 L469.21,446.1 L469.57,446.1 L469.92,446.1 L470.27,446.1 L470.62,446.1 L470.98,446.1 L471.33,446.1 L471.68,446.1 L472.03,446.1 L472.39,446.1 L472.74,446.1 L473.09,446.1 L473.44,446.1 L473.8,446.1 L474.15,446.1 L474.5,446.1" fill="none" stroke="#a8a8de" stroke-width="0.68"/>
<rect x="436.3" y="381.3" width="39.4" height="68.3" fill="none" stroke="#838383" stroke-width="1.05"/>
<path d="M478.7,446.1 L479.05,446.1 L479.4,446.1 L479.76,446.1 L480.11,446.1 L480.46,446.1 L480.81,446.1 L481.17,446.1 L481.52,446.1 L481.87,446.1 L482.22,446.1 L482.58,446.1 L482.93,446.1 L483.28,446.1 L483.63,446.1 L483.99,446.1 L484.34,446.1 L484.69,446.1 L485.04,446.09 L485.4,446.05 L485.75,445.84 L486.1,444.98 L486.45,442.66 L486.8,438.45 L487.16,433.78 L487.51,431.75 L487.86,434 L488.21,438.71 L488.57,442.83 L488.92,445.05 L489.27,445.86 L489.62,446.06 L489.98,446.01 L490.33,445.59 L490.68,444.09 L491.03,440.36 L491.39,434.26 L491.74,428.4 L492.09,426.95 L492.44,431.11 L492.8,437.6 L493.15,442.61 L493.5,444.23 L493.85,442.13 L494.2,439.98 L494.56,439.28 L494.91,440.59 L495.26,442.88 L495.61,438.98 L495.97,428.95 L496.32,416.18 L496.67,408.3 L497.02,411.54 L497.38,423.22 L497.73,435.14 L498.08,442.3 L498.43,445.14 L498.79,444.73 L499.14,442.54 L499.49,439.43 L499.84,437.05 L500.2,437.2 L500.55,439.77 L500.9,442.84 L501.25,444.88 L501.6,445.77 L501.96,446.04 L502.31,446.09 L502.66,446.09 L503.01,446.06 L503.37,445.89 L503.72,445.29 L504.07,443.87 L504.42,441.65 L504.78,439.68 L505.13,439.4 L505.48,441.03 L505.83,443.32 L506.19,445 L506.54,445.78 L506.89,446.03 L507.24,446.09 L507.6,446.1 L507.95,446.1 L508.3,446.1 L508.65,446.1 L509,446.1 L509.36,446.1 L509.71,446.1 L510.06,446.1 L510.41,446.1 L510.77,446.1 L511.12,446.1 L511.47,446.1 L511.82,446.1 L512.18,446.1 L512.53,446.1 L512.88,446.1 L513.23,446.1 L513.59,446.1 L513.94,446.1 L514.29,446.1 L514.64,446.1 L515,446.1 L515.35,446.1 L515.7,446.1" fill="none" stroke="#a8a8de" stroke-width="0.68"/>
<rect x="477.5" y="381.3" width="39.4" height="68.3" fill="none" stroke="#838383" stroke-width="1.05"/>
<text x="79.6" y="304.6" font-size="11.5" font-weight="bold" letter-spacing="0.4" text-anchor="middle" stroke="#000" stroke-width="0.2">BV5.1</text>
<text x="120.45" y="304.6" font-size="11.5" font-weight="bold" letter-spacing="0.4" text-anchor="middle" stroke="#000" stroke-width="0.2">BV5.2</text>
<text x="163.3" y="303.35" font-size="11.5" font-weight="bold" letter-spacing="0.4" text-anchor="middle" stroke="#000" stroke-width="0.2">BV8.1</text>
<text x="205.7" y="303.8" font-size="11.5" font-weight="bold" letter-spacing="0.4" text-anchor="middle" stroke="#000" stroke-width="0.2">BV8.2</text>
<text x="245.95" y="303.8" font-size="11.5" font-weight="bold" letter-spacing="0.4" text-anchor="middle" stroke="#000" stroke-width="0.2">BV9</text>
<text x="287.7" y="303.35" font-size="11.5" font-weight="bold" letter-spacing="0.4" text-anchor="middle" stroke="#000" stroke-width="0.2">BV10</text>
<text x="330.2" y="305.1" font-size="11.5" font-weight="bold" letter-spacing="0.4" text-anchor="middle" stroke="#000" stroke-width="0.2">BV13</text>
<text x="371.45" y="304.1" font-size="11.5" font-weight="bold" letter-spacing="0.4" text-anchor="middle" stroke="#000" stroke-width="0.2">BV15</text>
<text x="414.2" y="305.1" font-size="11.5" font-weight="bold" letter-spacing="0.4" text-anchor="middle" stroke="#000" stroke-width="0.2">BV16</text>
<text x="455.45" y="305.1" font-size="11.5" font-weight="bold" letter-spacing="0.4" text-anchor="middle" stroke="#000" stroke-width="0.2">BV17</text>
<text x="497.2" y="303.85" font-size="11.5" font-weight="bold" letter-spacing="0.4" text-anchor="middle" stroke="#000" stroke-width="0.2">BV18</text>
<text x="1.2" y="289.8" font-size="17.3" font-weight="bold" stroke="#000" stroke-width="0.3">B</text>
<text transform="translate(24.6,440) rotate(-90) scale(0.925,1)" font-size="14.1" font-weight="bold">Fluorescence Intensity</text>
<text transform="translate(51.9,357.6) rotate(-90)" font-size="13.3" font-weight="bold">WT</text>
<text transform="translate(53.0,439.4) rotate(-90)" font-size="14.6" font-weight="bold" letter-spacing="0.45">Mc4r-/-</text>
<text x="253.9" y="472.2" font-size="15.3" font-weight="bold" letter-spacing="0.3">CDR3 Size</text>
<line x1="96" y1="467.8" x2="246" y2="467.6" stroke="#222" stroke-width="1.1"/>
<path d="M90.8,467.8 L97.8,465.8 L97.8,469.8 Z" fill="#111"/>
<line x1="335.5" y1="468.6" x2="486" y2="469" stroke="#222" stroke-width="1.1"/>
<path d="M492.2,469 L485.3,467 L485.3,471 Z" fill="#111"/>
</g>
</svg>
</body></html>
